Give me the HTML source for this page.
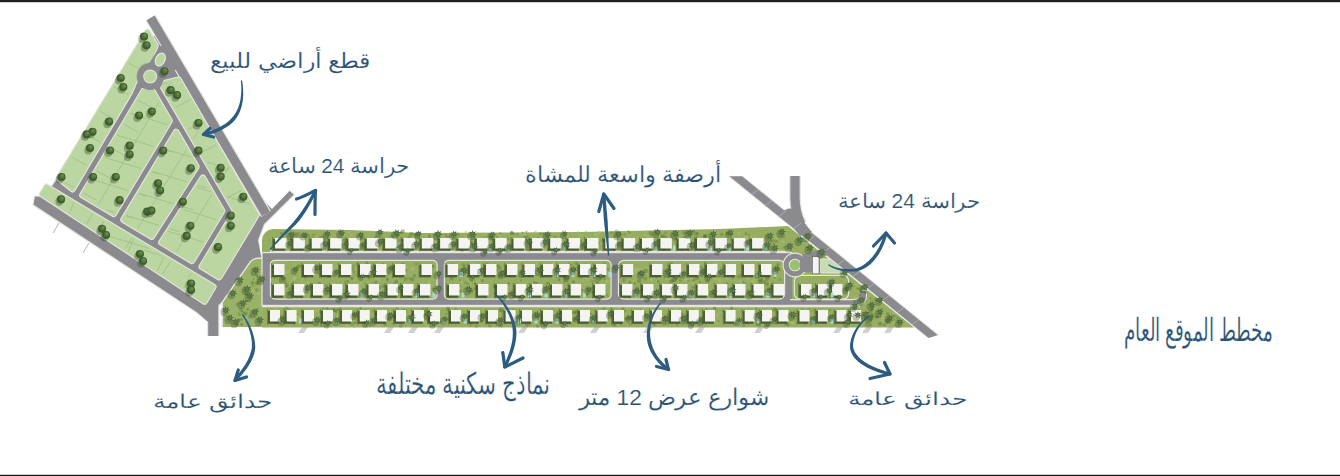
<!DOCTYPE html>
<html><head><meta charset="utf-8"><style>
html,body{margin:0;padding:0;background:#fff;width:1340px;height:476px;overflow:hidden}
body{position:relative;font-family:"Liberation Sans",sans-serif}
svg{position:absolute;left:0;top:0}
.lb{position:absolute;color:#2a5273;white-space:nowrap;direction:rtl;font-size:40px;line-height:40px;transform-origin:0 0;-webkit-text-stroke:0.3px #fff}
</style></head><body>
<svg width="1340" height="476" viewBox="0 0 1340 476">
<rect width="1340" height="476" fill="#fff"/>
<polygon points="152.0,36.0 162.0,36.0 262.0,198.0 272.0,210.0 290.0,190.0 295.0,195.0 265.0,225.0 259.0,240.0 263.0,263.0 252.0,263.0 224.0,302.0 219.5,306.0 219.5,336.0 207.0,336.0 207.0,322.0 197.0,313.5 32.5,205.5 34.0,195.5 44.0,196.0" fill="#e4e6df" />
<polygon points="152.0,36.0 162.0,36.0 262.0,199.0 272.0,209.0 289.5,191.0 293.8,194.5 264.0,224.0 258.0,240.0 262.0,262.0 251.0,262.0 223.0,301.0 218.3,305.0 218.3,336.0 208.2,336.0 208.2,322.0 197.0,312.3 33.5,204.4 35.0,196.5 45.0,197.0" fill="#8b8b8f" />
<polyline points="150.6,17.8 266.0,214.0" fill="none" stroke="#e4e6df" stroke-width="11.60" stroke-linecap="butt" stroke-linejoin="round" />
<polyline points="150.6,17.8 266.0,214.0" fill="none" stroke="#8b8b8f" stroke-width="9.20" stroke-linecap="butt" stroke-linejoin="round" />
<polygon points="147.5,32.0 155.5,45.5 150.0,59.0 140.0,68.0 129.8,92.0 72.6,189.2 58.8,178.1" fill="#e4e6df" stroke="#e4e6df" stroke-width="6.6" stroke-linejoin="round"/>
<polygon points="147.5,32.0 155.5,45.5 150.0,59.0 140.0,68.0 129.8,92.0 72.6,189.2 58.8,178.1" fill="#bcd6a2" stroke="#bcd6a2" stroke-width="4.4" stroke-linejoin="round"/>
<polygon points="148.0,83.6 169.6,120.8 113.8,213.9 82.4,195.1" fill="#e4e6df" stroke="#e4e6df" stroke-width="6.60" stroke-linejoin="round"/>
<polygon points="148.0,83.6 169.6,120.8 113.8,213.9 82.4,195.1" fill="#bcd6a2" stroke="#bcd6a2" stroke-width="4.40" stroke-linejoin="round"/>
<polygon points="176.2,132.0 196.4,166.7 151.7,236.6 123.5,219.8" fill="#e4e6df" stroke="#e4e6df" stroke-width="6.60" stroke-linejoin="round"/>
<polygon points="176.2,132.0 196.4,166.7 151.7,236.6 123.5,219.8" fill="#bcd6a2" stroke="#bcd6a2" stroke-width="4.40" stroke-linejoin="round"/>
<polygon points="202.9,177.8 222.1,210.8 192.0,260.9 161.4,242.5" fill="#e4e6df" stroke="#e4e6df" stroke-width="6.60" stroke-linejoin="round"/>
<polygon points="202.9,177.8 222.1,210.8 192.0,260.9 161.4,242.5" fill="#bcd6a2" stroke="#bcd6a2" stroke-width="4.40" stroke-linejoin="round"/>
<polygon points="178.5,79.7 256.5,214.9 219.1,277.1 201.8,266.7 235.3,210.9 161.4,84.0" fill="#e4e6df" stroke="#e4e6df" stroke-width="6.60" stroke-linejoin="round"/>
<polygon points="178.5,79.7 256.5,214.9 219.1,277.1 201.8,266.7 235.3,210.9 161.4,84.0" fill="#bcd6a2" stroke="#bcd6a2" stroke-width="4.40" stroke-linejoin="round"/>
<polygon points="46.5,186.8 213.3,286.9 204.5,301.5 42.0,194.2" fill="#e4e6df" stroke="#e4e6df" stroke-width="6.60" stroke-linejoin="round"/>
<polygon points="46.5,186.8 213.3,286.9 204.5,301.5 42.0,194.2" fill="#bcd6a2" stroke="#bcd6a2" stroke-width="4.40" stroke-linejoin="round"/>
<clipPath id="tclip"><polygon points="147.5,32.0 155.5,45.5 150.0,59.0 140.0,68.0 129.8,92.0 72.6,189.2 58.8,178.1"/><polygon points="148.0,83.6 169.6,120.8 113.8,213.9 82.4,195.1"/><polygon points="176.2,132.0 196.4,166.7 151.7,236.6 123.5,219.8"/><polygon points="202.9,177.8 222.1,210.8 192.0,260.9 161.4,242.5"/><polygon points="178.5,79.7 256.5,214.9 219.1,277.1 201.8,266.7 235.3,210.9 161.4,84.0"/><polygon points="46.5,186.8 213.3,286.9 204.5,301.5 42.0,194.2"/></clipPath>
<g clip-path="url(#tclip)">
<line x1="125.1" y1="61.0" x2="167.1" y2="84.0" stroke="#9fbd84" stroke-width="0.8"/>
<line x1="110.5" y1="85.0" x2="152.5" y2="108.0" stroke="#9fbd84" stroke-width="0.8"/>
<line x1="95.9" y1="109.0" x2="137.9" y2="132.0" stroke="#9fbd84" stroke-width="0.8"/>
<line x1="81.8" y1="132.0" x2="123.8" y2="155.0" stroke="#9fbd84" stroke-width="0.8"/>
<line x1="67.8" y1="155.0" x2="109.8" y2="178.0" stroke="#9fbd84" stroke-width="0.8"/>
<line x1="54.4" y1="177.0" x2="96.4" y2="200.0" stroke="#9fbd84" stroke-width="0.8"/>
<line x1="139.9" y1="66.0" x2="181.9" y2="44.0" stroke="#9fbd84" stroke-width="0.8"/>
<line x1="153.4" y1="89.0" x2="195.4" y2="67.0" stroke="#9fbd84" stroke-width="0.8"/>
<line x1="166.8" y1="112.0" x2="208.8" y2="90.0" stroke="#9fbd84" stroke-width="0.8"/>
<line x1="179.6" y1="134.0" x2="221.6" y2="112.0" stroke="#9fbd84" stroke-width="0.8"/>
<line x1="193.0" y1="157.0" x2="235.0" y2="135.0" stroke="#9fbd84" stroke-width="0.8"/>
<line x1="206.4" y1="180.0" x2="248.4" y2="158.0" stroke="#9fbd84" stroke-width="0.8"/>
<line x1="219.2" y1="202.0" x2="261.2" y2="180.0" stroke="#9fbd84" stroke-width="0.8"/>
<line x1="78.0" y1="193.3" x2="63.0" y2="227.3" stroke="#9fbd84" stroke-width="0.8"/>
<line x1="108.0" y1="211.3" x2="93.0" y2="245.3" stroke="#9fbd84" stroke-width="0.8"/>
<line x1="138.0" y1="229.3" x2="123.0" y2="263.3" stroke="#9fbd84" stroke-width="0.8"/>
<line x1="168.0" y1="247.3" x2="153.0" y2="281.3" stroke="#9fbd84" stroke-width="0.8"/>
<line x1="195.0" y1="263.5" x2="180.0" y2="297.5" stroke="#9fbd84" stroke-width="0.8"/>
<line x1="176.9" y1="72.0" x2="83.0" y2="230.0" stroke="#9fbd84" stroke-width="0.8"/>
<line x1="119.7" y1="110.0" x2="184.7" y2="130.0" stroke="#9fbd84" stroke-width="0.8"/>
<line x1="106.7" y1="132.0" x2="171.7" y2="152.0" stroke="#9fbd84" stroke-width="0.8"/>
<line x1="93.8" y1="154.0" x2="158.8" y2="174.0" stroke="#9fbd84" stroke-width="0.8"/>
<line x1="80.8" y1="176.0" x2="145.8" y2="196.0" stroke="#9fbd84" stroke-width="0.8"/>
<line x1="67.9" y1="198.0" x2="132.9" y2="218.0" stroke="#9fbd84" stroke-width="0.8"/>
<line x1="212.4" y1="108.0" x2="114.4" y2="266.0" stroke="#9fbd84" stroke-width="0.8"/>
<line x1="155.0" y1="146.0" x2="220.0" y2="166.0" stroke="#9fbd84" stroke-width="0.8"/>
<line x1="141.8" y1="168.0" x2="206.8" y2="188.0" stroke="#9fbd84" stroke-width="0.8"/>
<line x1="128.6" y1="190.0" x2="193.6" y2="210.0" stroke="#9fbd84" stroke-width="0.8"/>
<line x1="115.4" y1="212.0" x2="180.4" y2="232.0" stroke="#9fbd84" stroke-width="0.8"/>
<line x1="102.2" y1="234.0" x2="167.2" y2="254.0" stroke="#9fbd84" stroke-width="0.8"/>
<line x1="242.0" y1="146.0" x2="157.7" y2="282.0" stroke="#9fbd84" stroke-width="0.8"/>
<line x1="185.8" y1="184.0" x2="250.8" y2="204.0" stroke="#9fbd84" stroke-width="0.8"/>
<line x1="171.8" y1="206.0" x2="236.8" y2="226.0" stroke="#9fbd84" stroke-width="0.8"/>
<line x1="157.7" y1="228.0" x2="222.7" y2="248.0" stroke="#9fbd84" stroke-width="0.8"/>
<line x1="143.6" y1="250.0" x2="208.6" y2="270.0" stroke="#9fbd84" stroke-width="0.8"/>
</g>
<polygon points="150,62 160,46 167,44 177,70 168,70 160,88 140,88 138,72" fill="#8b8b8f"/>
<circle cx="150.2" cy="76.5" r="13.5" fill="#8b8b8f"/>
<circle cx="150.2" cy="76.5" r="7" fill="#e4e6df"/>
<circle cx="150.2" cy="76.5" r="6" fill="#bcd6a2"/>
<ellipse cx="160.3" cy="59.5" rx="4.6" ry="6.8" transform="rotate(25 160.3 59.5)" fill="#bcd6a2" stroke="#e4e6df" stroke-width="1.2"/>
<line x1="53" y1="233" x2="59" y2="223" stroke="#a0a0a0" stroke-width="0.8"/>
<line x1="83" y1="253" x2="89" y2="243" stroke="#a0a0a0" stroke-width="0.8"/>
<ellipse cx="118.9" cy="80.2" rx="3.9" ry="4.3" fill="#34482a" opacity="0.38"/>
<circle cx="120.7" cy="78.0" r="4.1" fill="#3f5e2e"/>
<circle cx="121.3" cy="77.3" r="2.5" fill="#56773d"/>
<circle cx="121.8" cy="76.7" r="1.1" fill="#7d9c62" opacity="0.6"/>
<ellipse cx="121.5" cy="89.2" rx="3.9" ry="4.3" fill="#34482a" opacity="0.38"/>
<circle cx="123.3" cy="87.0" r="4.1" fill="#3f5e2e"/>
<circle cx="123.9" cy="86.3" r="2.5" fill="#56773d"/>
<circle cx="124.4" cy="85.7" r="1.1" fill="#7d9c62" opacity="0.6"/>
<ellipse cx="137.2" cy="117.7" rx="3.9" ry="4.3" fill="#34482a" opacity="0.38"/>
<circle cx="139.0" cy="115.5" r="4.1" fill="#3f5e2e"/>
<circle cx="139.6" cy="114.8" r="2.5" fill="#56773d"/>
<circle cx="140.1" cy="114.2" r="1.1" fill="#7d9c62" opacity="0.6"/>
<ellipse cx="150.0" cy="113.8" rx="3.9" ry="4.3" fill="#34482a" opacity="0.38"/>
<circle cx="151.8" cy="111.6" r="4.1" fill="#3f5e2e"/>
<circle cx="152.4" cy="110.9" r="2.5" fill="#56773d"/>
<circle cx="152.9" cy="110.3" r="1.1" fill="#7d9c62" opacity="0.6"/>
<ellipse cx="107.2" cy="123.9" rx="3.9" ry="4.3" fill="#34482a" opacity="0.38"/>
<circle cx="109.0" cy="121.7" r="4.1" fill="#3f5e2e"/>
<circle cx="109.6" cy="121.0" r="2.5" fill="#56773d"/>
<circle cx="110.1" cy="120.4" r="1.1" fill="#7d9c62" opacity="0.6"/>
<ellipse cx="90.7" cy="134.0" rx="3.9" ry="4.3" fill="#34482a" opacity="0.38"/>
<circle cx="92.5" cy="131.8" r="4.1" fill="#3f5e2e"/>
<circle cx="93.1" cy="131.1" r="2.5" fill="#56773d"/>
<circle cx="93.6" cy="130.5" r="1.1" fill="#7d9c62" opacity="0.6"/>
<ellipse cx="88.2" cy="150.2" rx="3.9" ry="4.3" fill="#34482a" opacity="0.38"/>
<circle cx="90.0" cy="148.0" r="4.1" fill="#3f5e2e"/>
<circle cx="90.6" cy="147.3" r="2.5" fill="#56773d"/>
<circle cx="91.1" cy="146.7" r="1.1" fill="#7d9c62" opacity="0.6"/>
<ellipse cx="127.8" cy="147.9" rx="3.9" ry="4.3" fill="#34482a" opacity="0.38"/>
<circle cx="129.6" cy="145.7" r="4.1" fill="#3f5e2e"/>
<circle cx="130.2" cy="145.0" r="2.5" fill="#56773d"/>
<circle cx="130.7" cy="144.4" r="1.1" fill="#7d9c62" opacity="0.6"/>
<ellipse cx="127.8" cy="156.7" rx="3.9" ry="4.3" fill="#34482a" opacity="0.38"/>
<circle cx="129.6" cy="154.5" r="4.1" fill="#3f5e2e"/>
<circle cx="130.2" cy="153.8" r="2.5" fill="#56773d"/>
<circle cx="130.7" cy="153.2" r="1.1" fill="#7d9c62" opacity="0.6"/>
<ellipse cx="108.2" cy="152.7" rx="3.9" ry="4.3" fill="#34482a" opacity="0.38"/>
<circle cx="110.0" cy="150.5" r="4.1" fill="#3f5e2e"/>
<circle cx="110.6" cy="149.8" r="2.5" fill="#56773d"/>
<circle cx="111.1" cy="149.2" r="1.1" fill="#7d9c62" opacity="0.6"/>
<ellipse cx="161.3" cy="152.9" rx="3.9" ry="4.3" fill="#34482a" opacity="0.38"/>
<circle cx="163.1" cy="150.7" r="4.1" fill="#3f5e2e"/>
<circle cx="163.7" cy="150.0" r="2.5" fill="#56773d"/>
<circle cx="164.2" cy="149.4" r="1.1" fill="#7d9c62" opacity="0.6"/>
<ellipse cx="59.7" cy="179.2" rx="3.9" ry="4.3" fill="#34482a" opacity="0.38"/>
<circle cx="61.5" cy="177.0" r="4.1" fill="#3f5e2e"/>
<circle cx="62.1" cy="176.3" r="2.5" fill="#56773d"/>
<circle cx="62.6" cy="175.7" r="1.1" fill="#7d9c62" opacity="0.6"/>
<ellipse cx="91.2" cy="179.2" rx="3.9" ry="4.3" fill="#34482a" opacity="0.38"/>
<circle cx="93.0" cy="177.0" r="4.1" fill="#3f5e2e"/>
<circle cx="93.6" cy="176.3" r="2.5" fill="#56773d"/>
<circle cx="94.1" cy="175.7" r="1.1" fill="#7d9c62" opacity="0.6"/>
<ellipse cx="113.9" cy="179.2" rx="3.9" ry="4.3" fill="#34482a" opacity="0.38"/>
<circle cx="115.7" cy="177.0" r="4.1" fill="#3f5e2e"/>
<circle cx="116.3" cy="176.3" r="2.5" fill="#56773d"/>
<circle cx="116.8" cy="175.7" r="1.1" fill="#7d9c62" opacity="0.6"/>
<ellipse cx="156.2" cy="185.6" rx="3.9" ry="4.3" fill="#34482a" opacity="0.38"/>
<circle cx="158.0" cy="183.4" r="4.1" fill="#3f5e2e"/>
<circle cx="158.6" cy="182.7" r="2.5" fill="#56773d"/>
<circle cx="159.1" cy="182.1" r="1.1" fill="#7d9c62" opacity="0.6"/>
<ellipse cx="168.9" cy="92.4" rx="3.9" ry="4.3" fill="#34482a" opacity="0.38"/>
<circle cx="170.7" cy="90.2" r="4.1" fill="#3f5e2e"/>
<circle cx="171.3" cy="89.5" r="2.5" fill="#56773d"/>
<circle cx="171.8" cy="88.9" r="1.1" fill="#7d9c62" opacity="0.6"/>
<ellipse cx="175.2" cy="97.4" rx="3.9" ry="4.3" fill="#34482a" opacity="0.38"/>
<circle cx="177.0" cy="95.2" r="4.1" fill="#3f5e2e"/>
<circle cx="177.6" cy="94.5" r="2.5" fill="#56773d"/>
<circle cx="178.1" cy="93.9" r="1.1" fill="#7d9c62" opacity="0.6"/>
<ellipse cx="196.6" cy="125.2" rx="3.9" ry="4.3" fill="#34482a" opacity="0.38"/>
<circle cx="198.4" cy="123.0" r="4.1" fill="#3f5e2e"/>
<circle cx="199.0" cy="122.3" r="2.5" fill="#56773d"/>
<circle cx="199.5" cy="121.7" r="1.1" fill="#7d9c62" opacity="0.6"/>
<ellipse cx="196.6" cy="152.9" rx="3.9" ry="4.3" fill="#34482a" opacity="0.38"/>
<circle cx="198.4" cy="150.7" r="4.1" fill="#3f5e2e"/>
<circle cx="199.0" cy="150.0" r="2.5" fill="#56773d"/>
<circle cx="199.5" cy="149.4" r="1.1" fill="#7d9c62" opacity="0.6"/>
<ellipse cx="189.0" cy="170.5" rx="3.9" ry="4.3" fill="#34482a" opacity="0.38"/>
<circle cx="190.8" cy="168.3" r="4.1" fill="#3f5e2e"/>
<circle cx="191.4" cy="167.6" r="2.5" fill="#56773d"/>
<circle cx="191.9" cy="167.0" r="1.1" fill="#7d9c62" opacity="0.6"/>
<ellipse cx="162.6" cy="73.5" rx="3.9" ry="4.3" fill="#34482a" opacity="0.38"/>
<circle cx="164.4" cy="71.3" r="4.1" fill="#3f5e2e"/>
<circle cx="165.0" cy="70.6" r="2.5" fill="#56773d"/>
<circle cx="165.5" cy="70.0" r="1.1" fill="#7d9c62" opacity="0.6"/>
<ellipse cx="59.2" cy="201.6" rx="3.9" ry="4.3" fill="#34482a" opacity="0.38"/>
<circle cx="61.0" cy="199.4" r="4.1" fill="#3f5e2e"/>
<circle cx="61.6" cy="198.7" r="2.5" fill="#56773d"/>
<circle cx="62.1" cy="198.1" r="1.1" fill="#7d9c62" opacity="0.6"/>
<ellipse cx="117.7" cy="202.4" rx="3.9" ry="4.3" fill="#34482a" opacity="0.38"/>
<circle cx="119.5" cy="200.2" r="4.1" fill="#3f5e2e"/>
<circle cx="120.1" cy="199.5" r="2.5" fill="#56773d"/>
<circle cx="120.6" cy="198.9" r="1.1" fill="#7d9c62" opacity="0.6"/>
<ellipse cx="145.4" cy="213.8" rx="3.9" ry="4.3" fill="#34482a" opacity="0.38"/>
<circle cx="147.2" cy="211.6" r="4.1" fill="#3f5e2e"/>
<circle cx="147.8" cy="210.9" r="2.5" fill="#56773d"/>
<circle cx="148.3" cy="210.3" r="1.1" fill="#7d9c62" opacity="0.6"/>
<ellipse cx="100.2" cy="231.0" rx="3.9" ry="4.3" fill="#34482a" opacity="0.38"/>
<circle cx="102.0" cy="228.8" r="4.1" fill="#3f5e2e"/>
<circle cx="102.6" cy="228.1" r="2.5" fill="#56773d"/>
<circle cx="103.1" cy="227.5" r="1.1" fill="#7d9c62" opacity="0.6"/>
<ellipse cx="104.2" cy="237.2" rx="3.9" ry="4.3" fill="#34482a" opacity="0.38"/>
<circle cx="106.0" cy="235.0" r="4.1" fill="#3f5e2e"/>
<circle cx="106.6" cy="234.3" r="2.5" fill="#56773d"/>
<circle cx="107.1" cy="233.7" r="1.1" fill="#7d9c62" opacity="0.6"/>
<ellipse cx="138.1" cy="256.2" rx="3.9" ry="4.3" fill="#34482a" opacity="0.38"/>
<circle cx="139.9" cy="254.0" r="4.1" fill="#3f5e2e"/>
<circle cx="140.5" cy="253.3" r="2.5" fill="#56773d"/>
<circle cx="141.0" cy="252.7" r="1.1" fill="#7d9c62" opacity="0.6"/>
<ellipse cx="141.2" cy="263.2" rx="3.9" ry="4.3" fill="#34482a" opacity="0.38"/>
<circle cx="143.0" cy="261.0" r="4.1" fill="#3f5e2e"/>
<circle cx="143.6" cy="260.3" r="2.5" fill="#56773d"/>
<circle cx="144.1" cy="259.7" r="1.1" fill="#7d9c62" opacity="0.6"/>
<ellipse cx="218.8" cy="170.0" rx="3.9" ry="4.3" fill="#34482a" opacity="0.38"/>
<circle cx="220.6" cy="167.8" r="4.1" fill="#3f5e2e"/>
<circle cx="221.2" cy="167.1" r="2.5" fill="#56773d"/>
<circle cx="221.7" cy="166.5" r="1.1" fill="#7d9c62" opacity="0.6"/>
<ellipse cx="218.8" cy="178.8" rx="3.9" ry="4.3" fill="#34482a" opacity="0.38"/>
<circle cx="220.6" cy="176.6" r="4.1" fill="#3f5e2e"/>
<circle cx="221.2" cy="175.9" r="2.5" fill="#56773d"/>
<circle cx="221.7" cy="175.3" r="1.1" fill="#7d9c62" opacity="0.6"/>
<ellipse cx="158.3" cy="192.7" rx="3.9" ry="4.3" fill="#34482a" opacity="0.38"/>
<circle cx="160.1" cy="190.5" r="4.1" fill="#3f5e2e"/>
<circle cx="160.7" cy="189.8" r="2.5" fill="#56773d"/>
<circle cx="161.2" cy="189.2" r="1.1" fill="#7d9c62" opacity="0.6"/>
<ellipse cx="181.0" cy="204.0" rx="3.9" ry="4.3" fill="#34482a" opacity="0.38"/>
<circle cx="182.8" cy="201.8" r="4.1" fill="#3f5e2e"/>
<circle cx="183.4" cy="201.1" r="2.5" fill="#56773d"/>
<circle cx="183.9" cy="200.5" r="1.1" fill="#7d9c62" opacity="0.6"/>
<ellipse cx="149.5" cy="212.9" rx="3.9" ry="4.3" fill="#34482a" opacity="0.38"/>
<circle cx="151.3" cy="210.7" r="4.1" fill="#3f5e2e"/>
<circle cx="151.9" cy="210.0" r="2.5" fill="#56773d"/>
<circle cx="152.4" cy="209.4" r="1.1" fill="#7d9c62" opacity="0.6"/>
<ellipse cx="228.9" cy="217.9" rx="3.9" ry="4.3" fill="#34482a" opacity="0.38"/>
<circle cx="230.7" cy="215.7" r="4.1" fill="#3f5e2e"/>
<circle cx="231.3" cy="215.0" r="2.5" fill="#56773d"/>
<circle cx="231.8" cy="214.4" r="1.1" fill="#7d9c62" opacity="0.6"/>
<ellipse cx="228.9" cy="228.0" rx="3.9" ry="4.3" fill="#34482a" opacity="0.38"/>
<circle cx="230.7" cy="225.8" r="4.1" fill="#3f5e2e"/>
<circle cx="231.3" cy="225.1" r="2.5" fill="#56773d"/>
<circle cx="231.8" cy="224.5" r="1.1" fill="#7d9c62" opacity="0.6"/>
<ellipse cx="241.5" cy="199.0" rx="3.9" ry="4.3" fill="#34482a" opacity="0.38"/>
<circle cx="243.3" cy="196.8" r="4.1" fill="#3f5e2e"/>
<circle cx="243.9" cy="196.1" r="2.5" fill="#56773d"/>
<circle cx="244.4" cy="195.5" r="1.1" fill="#7d9c62" opacity="0.6"/>
<ellipse cx="188.5" cy="228.0" rx="3.9" ry="4.3" fill="#34482a" opacity="0.38"/>
<circle cx="190.3" cy="225.8" r="4.1" fill="#3f5e2e"/>
<circle cx="190.9" cy="225.1" r="2.5" fill="#56773d"/>
<circle cx="191.4" cy="224.5" r="1.1" fill="#7d9c62" opacity="0.6"/>
<ellipse cx="184.8" cy="238.1" rx="3.9" ry="4.3" fill="#34482a" opacity="0.38"/>
<circle cx="186.6" cy="235.9" r="4.1" fill="#3f5e2e"/>
<circle cx="187.2" cy="235.2" r="2.5" fill="#56773d"/>
<circle cx="187.7" cy="234.6" r="1.1" fill="#7d9c62" opacity="0.6"/>
<ellipse cx="216.2" cy="249.4" rx="3.9" ry="4.3" fill="#34482a" opacity="0.38"/>
<circle cx="218.0" cy="247.2" r="4.1" fill="#3f5e2e"/>
<circle cx="218.6" cy="246.5" r="2.5" fill="#56773d"/>
<circle cx="219.1" cy="245.9" r="1.1" fill="#7d9c62" opacity="0.6"/>
<ellipse cx="189.2" cy="285.7" rx="3.9" ry="4.3" fill="#34482a" opacity="0.38"/>
<circle cx="191.0" cy="283.5" r="4.1" fill="#3f5e2e"/>
<circle cx="191.6" cy="282.8" r="2.5" fill="#56773d"/>
<circle cx="192.1" cy="282.2" r="1.1" fill="#7d9c62" opacity="0.6"/>
<ellipse cx="189.2" cy="292.2" rx="3.9" ry="4.3" fill="#34482a" opacity="0.38"/>
<circle cx="191.0" cy="290.0" r="4.1" fill="#3f5e2e"/>
<circle cx="191.6" cy="289.3" r="2.5" fill="#56773d"/>
<circle cx="192.1" cy="288.7" r="1.1" fill="#7d9c62" opacity="0.6"/>
<ellipse cx="142.2" cy="38.7" rx="3.9" ry="4.3" fill="#34482a" opacity="0.38"/>
<circle cx="144.0" cy="36.5" r="4.1" fill="#3f5e2e"/>
<circle cx="144.6" cy="35.8" r="2.5" fill="#56773d"/>
<circle cx="145.1" cy="35.2" r="1.1" fill="#7d9c62" opacity="0.6"/>
<ellipse cx="144.7" cy="47.5" rx="3.9" ry="4.3" fill="#34482a" opacity="0.38"/>
<circle cx="146.5" cy="45.3" r="4.1" fill="#3f5e2e"/>
<circle cx="147.1" cy="44.6" r="2.5" fill="#56773d"/>
<circle cx="147.6" cy="44.0" r="1.1" fill="#7d9c62" opacity="0.6"/>
<ellipse cx="84.9" cy="136.6" rx="3.9" ry="4.3" fill="#34482a" opacity="0.38"/>
<circle cx="86.7" cy="134.4" r="4.1" fill="#3f5e2e"/>
<circle cx="87.3" cy="133.7" r="2.5" fill="#56773d"/>
<circle cx="87.8" cy="133.1" r="1.1" fill="#7d9c62" opacity="0.6"/>
<path d="M262,251.5 L262,240 Q263,230 273,229 L350,230 L420,233 L580,232 L720,229 L788,226 L914,327.5 L262,327.5 Z" fill="#97ae62"/>
<path d="M221.5,327 L221.5,302 L250,261 Q253,257.5 258,257.5 L263,257.5 L263,327 Z" fill="#e4e6df"/>
<path d="M223,327 L223,302.5 L251,262 Q253.5,259 258,259 L263,259 L263,327 Z" fill="#98b367"/>
<rect x="262" y="252" width="530" height="54" fill="#e4e6df"/>
<rect x="262" y="253.2" width="530" height="51.6" fill="#8b8b8f"/>
<path d="M262,252 L262,306 Z" stroke="#e4e6df" stroke-width="1.2"/>
<path d="M790,299 L853,299 Q861,299 861,292 L861,290 L867,290 L867,296 Q867,306 853,306 L790,306 Z" fill="#e4e6df"/>
<path d="M790,300.2 L853,300.2 Q860,300.2 860,292 L860,291 L866,291 L866,296 Q866,304.8 853,304.8 L790,304.8 Z" fill="#8b8b8f"/>
<rect x="269.8" y="259.8" width="167.9" height="39.9" rx="5.0" fill="#e4e6df"/>
<rect x="271.0" y="261.0" width="165.5" height="37.5" rx="4.0" fill="#97ae62"/>
<rect x="443.8" y="259.8" width="167.9" height="39.9" rx="5.0" fill="#e4e6df"/>
<rect x="445.0" y="261.0" width="165.5" height="37.5" rx="4.0" fill="#97ae62"/>
<rect x="617.8" y="259.8" width="167.4" height="39.9" rx="6.0" fill="#e4e6df"/>
<rect x="619.0" y="261.0" width="165.0" height="37.5" rx="5.0" fill="#97ae62"/>
<rect x="793.8" y="274.8" width="55.4" height="24.9" rx="6.0" fill="#e4e6df"/>
<rect x="795.0" y="276.0" width="53.0" height="22.5" rx="5.0" fill="#97ae62"/>
<rect x="820" y="259" width="22" height="14" rx="2" fill="#c9dcb0" stroke="#e4e6df" stroke-width="1"/>
<line x1="270" y1="251.4" x2="790" y2="251.4" stroke="#e4e6df" stroke-width="1.2"/>
<line x1="262" y1="306.6" x2="860" y2="306.6" stroke="#e4e6df" stroke-width="1.2"/>
<circle cx="795" cy="265" r="12.5" fill="#e4e6df"/>
<circle cx="795" cy="265" r="11.3" fill="#8b8b8f"/>
<circle cx="795" cy="265" r="6.3" fill="#e4e6df"/>
<circle cx="795" cy="265" r="5.3" fill="#9cc070"/>
<rect x="800" y="258" width="20" height="14" fill="#8b8b8f"/>
<circle cx="595.0" cy="245.1" r="2.0" fill="#6f8444" opacity="0.45"/>
<circle cx="707.5" cy="245.7" r="1.3" fill="#6f8444" opacity="0.45"/>
<circle cx="738.8" cy="233.2" r="1.6" fill="#b0c27a" opacity="0.45"/>
<circle cx="469.9" cy="232.9" r="1.3" fill="#b0c27a" opacity="0.45"/>
<circle cx="484.0" cy="234.5" r="2.0" fill="#a3b86a" opacity="0.45"/>
<circle cx="355.5" cy="246.1" r="1.2" fill="#a3b86a" opacity="0.45"/>
<circle cx="338.5" cy="231.0" r="2.0" fill="#b0c27a" opacity="0.45"/>
<circle cx="672.9" cy="249.2" r="1.2" fill="#b0c27a" opacity="0.45"/>
<circle cx="422.6" cy="249.3" r="1.6" fill="#b0c27a" opacity="0.45"/>
<circle cx="366.9" cy="249.4" r="1.2" fill="#a3b86a" opacity="0.45"/>
<circle cx="427.5" cy="237.9" r="1.2" fill="#b0c27a" opacity="0.45"/>
<circle cx="409.4" cy="237.3" r="2.0" fill="#6f8444" opacity="0.45"/>
<circle cx="581.1" cy="244.4" r="1.1" fill="#5b7035" opacity="0.45"/>
<circle cx="696.2" cy="240.1" r="1.4" fill="#a3b86a" opacity="0.45"/>
<circle cx="517.3" cy="234.3" r="1.3" fill="#6f8444" opacity="0.45"/>
<circle cx="763.7" cy="237.8" r="1.5" fill="#a3b86a" opacity="0.45"/>
<circle cx="462.3" cy="242.0" r="1.0" fill="#6f8444" opacity="0.45"/>
<circle cx="638.9" cy="242.9" r="2.1" fill="#6f8444" opacity="0.45"/>
<circle cx="663.7" cy="248.7" r="2.1" fill="#5b7035" opacity="0.45"/>
<circle cx="538.0" cy="248.0" r="1.3" fill="#a3b86a" opacity="0.45"/>
<circle cx="328.9" cy="245.2" r="2.0" fill="#5b7035" opacity="0.45"/>
<circle cx="291.9" cy="249.0" r="1.1" fill="#5b7035" opacity="0.45"/>
<circle cx="538.2" cy="237.9" r="1.2" fill="#5b7035" opacity="0.45"/>
<circle cx="750.8" cy="241.4" r="1.4" fill="#5b7035" opacity="0.45"/>
<circle cx="431.3" cy="246.2" r="1.8" fill="#5b7035" opacity="0.45"/>
<circle cx="788.3" cy="234.1" r="1.1" fill="#a3b86a" opacity="0.45"/>
<circle cx="289.5" cy="245.1" r="1.4" fill="#5b7035" opacity="0.45"/>
<circle cx="508.6" cy="239.0" r="1.1" fill="#6f8444" opacity="0.45"/>
<circle cx="687.5" cy="237.3" r="1.2" fill="#b0c27a" opacity="0.45"/>
<circle cx="598.9" cy="246.0" r="1.1" fill="#a3b86a" opacity="0.45"/>
<circle cx="465.8" cy="232.1" r="1.5" fill="#b0c27a" opacity="0.45"/>
<circle cx="507.3" cy="250.0" r="2.0" fill="#a3b86a" opacity="0.45"/>
<circle cx="769.4" cy="244.1" r="1.4" fill="#5b7035" opacity="0.45"/>
<circle cx="423.5" cy="238.7" r="1.2" fill="#a3b86a" opacity="0.45"/>
<circle cx="698.0" cy="241.1" r="1.2" fill="#a3b86a" opacity="0.45"/>
<circle cx="721.7" cy="234.4" r="1.6" fill="#5b7035" opacity="0.45"/>
<circle cx="305.6" cy="246.1" r="1.4" fill="#6f8444" opacity="0.45"/>
<circle cx="665.7" cy="237.9" r="1.8" fill="#5b7035" opacity="0.45"/>
<circle cx="704.8" cy="236.0" r="2.2" fill="#5b7035" opacity="0.45"/>
<circle cx="767.7" cy="237.5" r="1.2" fill="#6f8444" opacity="0.45"/>
<circle cx="518.2" cy="245.7" r="1.4" fill="#5b7035" opacity="0.45"/>
<circle cx="512.3" cy="246.5" r="1.8" fill="#5b7035" opacity="0.45"/>
<circle cx="452.9" cy="243.2" r="1.9" fill="#a3b86a" opacity="0.45"/>
<circle cx="454.0" cy="247.0" r="2.0" fill="#a3b86a" opacity="0.45"/>
<circle cx="777.7" cy="249.2" r="1.6" fill="#b0c27a" opacity="0.45"/>
<circle cx="375.7" cy="237.9" r="2.0" fill="#5b7035" opacity="0.45"/>
<circle cx="630.5" cy="244.7" r="1.9" fill="#b0c27a" opacity="0.45"/>
<circle cx="591.9" cy="248.8" r="1.6" fill="#a3b86a" opacity="0.45"/>
<circle cx="429.5" cy="241.5" r="2.0" fill="#5b7035" opacity="0.45"/>
<circle cx="645.5" cy="231.5" r="1.2" fill="#a3b86a" opacity="0.45"/>
<circle cx="595.6" cy="234.4" r="1.9" fill="#b0c27a" opacity="0.45"/>
<circle cx="599.2" cy="231.8" r="1.6" fill="#b0c27a" opacity="0.45"/>
<circle cx="358.7" cy="247.9" r="1.1" fill="#b0c27a" opacity="0.45"/>
<circle cx="522.5" cy="241.4" r="1.5" fill="#5b7035" opacity="0.45"/>
<circle cx="469.6" cy="242.6" r="1.7" fill="#b0c27a" opacity="0.45"/>
<circle cx="644.2" cy="238.1" r="1.4" fill="#5b7035" opacity="0.45"/>
<circle cx="715.5" cy="247.5" r="1.8" fill="#5b7035" opacity="0.45"/>
<circle cx="771.6" cy="241.4" r="1.4" fill="#5b7035" opacity="0.45"/>
<circle cx="554.9" cy="237.4" r="1.7" fill="#5b7035" opacity="0.45"/>
<circle cx="696.2" cy="239.0" r="2.0" fill="#5b7035" opacity="0.45"/>
<circle cx="514.7" cy="234.0" r="1.5" fill="#a3b86a" opacity="0.45"/>
<circle cx="767.9" cy="249.4" r="1.7" fill="#5b7035" opacity="0.45"/>
<circle cx="697.6" cy="243.6" r="1.5" fill="#5b7035" opacity="0.45"/>
<circle cx="565.5" cy="242.7" r="1.2" fill="#a3b86a" opacity="0.45"/>
<circle cx="494.9" cy="249.6" r="1.6" fill="#a3b86a" opacity="0.45"/>
<circle cx="775.8" cy="238.2" r="2.2" fill="#b0c27a" opacity="0.45"/>
<circle cx="581.0" cy="235.9" r="2.2" fill="#a3b86a" opacity="0.45"/>
<circle cx="402.8" cy="231.4" r="2.1" fill="#5b7035" opacity="0.45"/>
<circle cx="527.2" cy="236.4" r="1.6" fill="#6f8444" opacity="0.45"/>
<circle cx="614.3" cy="249.3" r="1.3" fill="#6f8444" opacity="0.45"/>
<circle cx="677.1" cy="246.7" r="1.0" fill="#5b7035" opacity="0.45"/>
<circle cx="398.9" cy="240.0" r="1.0" fill="#a3b86a" opacity="0.45"/>
<circle cx="411.4" cy="233.9" r="2.2" fill="#5b7035" opacity="0.45"/>
<circle cx="527.5" cy="249.9" r="1.6" fill="#6f8444" opacity="0.45"/>
<circle cx="281.4" cy="233.4" r="1.3" fill="#5b7035" opacity="0.45"/>
<circle cx="590.2" cy="244.9" r="1.0" fill="#5b7035" opacity="0.45"/>
<circle cx="459.7" cy="245.2" r="1.7" fill="#6f8444" opacity="0.45"/>
<circle cx="274.5" cy="241.5" r="1.8" fill="#6f8444" opacity="0.45"/>
<circle cx="732.1" cy="241.4" r="1.0" fill="#a3b86a" opacity="0.45"/>
<circle cx="580.6" cy="244.1" r="2.1" fill="#a3b86a" opacity="0.45"/>
<circle cx="716.9" cy="247.0" r="1.6" fill="#b0c27a" opacity="0.45"/>
<circle cx="737.7" cy="239.8" r="1.9" fill="#5b7035" opacity="0.45"/>
<circle cx="705.4" cy="244.2" r="1.5" fill="#5b7035" opacity="0.45"/>
<circle cx="608.2" cy="240.0" r="1.4" fill="#b0c27a" opacity="0.45"/>
<circle cx="520.3" cy="241.4" r="1.6" fill="#5b7035" opacity="0.45"/>
<circle cx="551.1" cy="239.1" r="1.6" fill="#6f8444" opacity="0.45"/>
<circle cx="308.4" cy="235.4" r="2.0" fill="#6f8444" opacity="0.45"/>
<circle cx="616.1" cy="231.5" r="1.9" fill="#6f8444" opacity="0.45"/>
<circle cx="789.1" cy="244.3" r="1.1" fill="#6f8444" opacity="0.45"/>
<circle cx="386.3" cy="243.3" r="2.1" fill="#b0c27a" opacity="0.45"/>
<circle cx="786.9" cy="244.4" r="1.5" fill="#b0c27a" opacity="0.45"/>
<circle cx="588.7" cy="238.9" r="1.2" fill="#b0c27a" opacity="0.45"/>
<circle cx="295.5" cy="233.1" r="1.5" fill="#6f8444" opacity="0.45"/>
<circle cx="417.7" cy="241.9" r="1.1" fill="#a3b86a" opacity="0.45"/>
<circle cx="727.2" cy="233.6" r="1.5" fill="#5b7035" opacity="0.45"/>
<circle cx="627.4" cy="240.3" r="1.4" fill="#5b7035" opacity="0.45"/>
<circle cx="745.9" cy="233.6" r="1.4" fill="#5b7035" opacity="0.45"/>
<circle cx="743.7" cy="241.5" r="1.7" fill="#5b7035" opacity="0.45"/>
<circle cx="305.7" cy="235.5" r="2.0" fill="#5b7035" opacity="0.45"/>
<circle cx="540.3" cy="233.5" r="1.3" fill="#5b7035" opacity="0.45"/>
<circle cx="507.4" cy="238.4" r="1.2" fill="#6f8444" opacity="0.45"/>
<circle cx="611.6" cy="232.6" r="1.8" fill="#6f8444" opacity="0.45"/>
<circle cx="719.4" cy="240.6" r="1.5" fill="#a3b86a" opacity="0.45"/>
<circle cx="726.4" cy="240.1" r="1.4" fill="#6f8444" opacity="0.45"/>
<circle cx="553.3" cy="238.3" r="2.0" fill="#a3b86a" opacity="0.45"/>
<circle cx="625.1" cy="235.2" r="1.1" fill="#a3b86a" opacity="0.45"/>
<circle cx="697.2" cy="233.7" r="1.7" fill="#5b7035" opacity="0.45"/>
<circle cx="705.1" cy="236.5" r="2.1" fill="#5b7035" opacity="0.45"/>
<circle cx="684.6" cy="238.2" r="1.9" fill="#5b7035" opacity="0.45"/>
<circle cx="608.0" cy="246.3" r="1.5" fill="#5b7035" opacity="0.45"/>
<circle cx="540.5" cy="242.3" r="1.7" fill="#b0c27a" opacity="0.45"/>
<circle cx="477.5" cy="232.8" r="1.0" fill="#b0c27a" opacity="0.45"/>
<circle cx="374.1" cy="240.3" r="2.1" fill="#5b7035" opacity="0.45"/>
<circle cx="273.2" cy="239.9" r="2.1" fill="#a3b86a" opacity="0.45"/>
<circle cx="440.1" cy="239.8" r="1.2" fill="#b0c27a" opacity="0.45"/>
<circle cx="309.8" cy="247.5" r="2.0" fill="#a3b86a" opacity="0.45"/>
<circle cx="351.6" cy="235.8" r="1.3" fill="#b0c27a" opacity="0.45"/>
<circle cx="660.9" cy="243.8" r="1.0" fill="#6f8444" opacity="0.45"/>
<circle cx="451.0" cy="245.3" r="1.4" fill="#6f8444" opacity="0.45"/>
<circle cx="628.5" cy="243.8" r="1.6" fill="#b0c27a" opacity="0.45"/>
<circle cx="334.0" cy="243.7" r="1.3" fill="#b0c27a" opacity="0.45"/>
<circle cx="650.0" cy="234.1" r="1.2" fill="#6f8444" opacity="0.45"/>
<circle cx="570.1" cy="243.5" r="1.7" fill="#5b7035" opacity="0.45"/>
<circle cx="624.8" cy="234.5" r="1.4" fill="#6f8444" opacity="0.45"/>
<circle cx="651.6" cy="244.6" r="1.2" fill="#b0c27a" opacity="0.45"/>
<circle cx="363.8" cy="235.0" r="1.1" fill="#a3b86a" opacity="0.45"/>
<circle cx="648.6" cy="236.1" r="1.6" fill="#a3b86a" opacity="0.45"/>
<circle cx="675.9" cy="238.8" r="1.1" fill="#5b7035" opacity="0.45"/>
<circle cx="758.7" cy="244.6" r="1.3" fill="#a3b86a" opacity="0.45"/>
<circle cx="320.5" cy="240.0" r="1.8" fill="#6f8444" opacity="0.45"/>
<circle cx="530.2" cy="245.8" r="1.1" fill="#a3b86a" opacity="0.45"/>
<circle cx="503.5" cy="243.2" r="2.1" fill="#b0c27a" opacity="0.45"/>
<circle cx="365.7" cy="240.7" r="1.5" fill="#b0c27a" opacity="0.45"/>
<circle cx="316.6" cy="237.0" r="1.1" fill="#b0c27a" opacity="0.45"/>
<circle cx="582.3" cy="247.3" r="1.3" fill="#6f8444" opacity="0.45"/>
<circle cx="501.1" cy="237.8" r="1.5" fill="#a3b86a" opacity="0.45"/>
<circle cx="543.0" cy="233.5" r="1.0" fill="#5b7035" opacity="0.45"/>
<circle cx="629.0" cy="247.9" r="2.2" fill="#6f8444" opacity="0.45"/>
<circle cx="344.7" cy="240.2" r="1.9" fill="#5b7035" opacity="0.45"/>
<circle cx="696.6" cy="236.9" r="1.2" fill="#6f8444" opacity="0.45"/>
<circle cx="516.8" cy="244.2" r="2.0" fill="#b0c27a" opacity="0.45"/>
<circle cx="415.6" cy="240.4" r="1.3" fill="#b0c27a" opacity="0.45"/>
<circle cx="684.6" cy="247.8" r="2.1" fill="#6f8444" opacity="0.45"/>
<circle cx="490.4" cy="237.0" r="1.9" fill="#6f8444" opacity="0.45"/>
<circle cx="736.3" cy="243.4" r="1.9" fill="#6f8444" opacity="0.45"/>
<circle cx="501.6" cy="246.5" r="1.8" fill="#6f8444" opacity="0.45"/>
<circle cx="649.4" cy="244.3" r="1.3" fill="#a3b86a" opacity="0.45"/>
<circle cx="563.5" cy="237.1" r="1.4" fill="#b0c27a" opacity="0.45"/>
<circle cx="408.8" cy="243.8" r="1.3" fill="#6f8444" opacity="0.45"/>
<circle cx="553.4" cy="245.0" r="1.0" fill="#6f8444" opacity="0.45"/>
<circle cx="299.2" cy="233.5" r="1.4" fill="#5b7035" opacity="0.45"/>
<circle cx="763.7" cy="242.6" r="1.3" fill="#a3b86a" opacity="0.45"/>
<circle cx="337.8" cy="234.8" r="1.4" fill="#b0c27a" opacity="0.45"/>
<circle cx="575.1" cy="246.7" r="1.9" fill="#6f8444" opacity="0.45"/>
<circle cx="411.6" cy="242.5" r="1.8" fill="#b0c27a" opacity="0.45"/>
<circle cx="503.7" cy="248.8" r="2.0" fill="#6f8444" opacity="0.45"/>
<circle cx="445.4" cy="239.5" r="1.3" fill="#a3b86a" opacity="0.45"/>
<circle cx="361.7" cy="231.9" r="1.8" fill="#b0c27a" opacity="0.45"/>
<circle cx="548.4" cy="249.4" r="1.7" fill="#6f8444" opacity="0.45"/>
<circle cx="338.6" cy="247.2" r="1.8" fill="#b0c27a" opacity="0.45"/>
<circle cx="778.6" cy="231.6" r="1.7" fill="#a3b86a" opacity="0.45"/>
<circle cx="637.5" cy="237.7" r="1.6" fill="#b0c27a" opacity="0.45"/>
<circle cx="416.2" cy="234.8" r="1.7" fill="#5b7035" opacity="0.45"/>
<circle cx="668.3" cy="245.9" r="1.4" fill="#b0c27a" opacity="0.45"/>
<circle cx="694.0" cy="243.6" r="2.1" fill="#6f8444" opacity="0.45"/>
<circle cx="592.6" cy="238.6" r="1.2" fill="#b0c27a" opacity="0.45"/>
<circle cx="526.4" cy="231.7" r="1.2" fill="#6f8444" opacity="0.45"/>
<circle cx="662.6" cy="236.3" r="2.1" fill="#5b7035" opacity="0.45"/>
<circle cx="519.7" cy="239.9" r="1.6" fill="#6f8444" opacity="0.45"/>
<circle cx="686.8" cy="238.2" r="1.0" fill="#b0c27a" opacity="0.45"/>
<circle cx="693.5" cy="231.4" r="1.8" fill="#5b7035" opacity="0.45"/>
<circle cx="538.5" cy="240.5" r="1.7" fill="#a3b86a" opacity="0.45"/>
<circle cx="505.5" cy="246.0" r="1.7" fill="#6f8444" opacity="0.45"/>
<circle cx="550.5" cy="246.2" r="1.4" fill="#6f8444" opacity="0.45"/>
<circle cx="624.3" cy="240.9" r="1.3" fill="#6f8444" opacity="0.45"/>
<circle cx="287.1" cy="245.7" r="1.7" fill="#a3b86a" opacity="0.45"/>
<circle cx="431.6" cy="248.7" r="1.3" fill="#b0c27a" opacity="0.45"/>
<circle cx="310.2" cy="245.3" r="1.8" fill="#5b7035" opacity="0.45"/>
<circle cx="736.8" cy="244.1" r="2.0" fill="#b0c27a" opacity="0.45"/>
<circle cx="522.8" cy="232.7" r="1.1" fill="#5b7035" opacity="0.45"/>
<circle cx="776.9" cy="241.3" r="1.5" fill="#6f8444" opacity="0.45"/>
<circle cx="620.0" cy="238.2" r="1.9" fill="#b0c27a" opacity="0.45"/>
<circle cx="743.6" cy="242.7" r="1.5" fill="#6f8444" opacity="0.45"/>
<circle cx="708.9" cy="247.9" r="1.8" fill="#5b7035" opacity="0.45"/>
<circle cx="401.7" cy="232.9" r="1.4" fill="#5b7035" opacity="0.45"/>
<circle cx="685.1" cy="232.5" r="2.1" fill="#6f8444" opacity="0.45"/>
<circle cx="600.2" cy="245.6" r="1.3" fill="#6f8444" opacity="0.45"/>
<circle cx="567.6" cy="242.9" r="1.8" fill="#a3b86a" opacity="0.45"/>
<circle cx="488.5" cy="239.1" r="1.6" fill="#b0c27a" opacity="0.45"/>
<circle cx="429.3" cy="236.3" r="1.7" fill="#5b7035" opacity="0.45"/>
<circle cx="369.8" cy="231.6" r="1.1" fill="#b0c27a" opacity="0.45"/>
<circle cx="497.3" cy="237.2" r="1.1" fill="#5b7035" opacity="0.45"/>
<circle cx="649.9" cy="232.2" r="1.6" fill="#6f8444" opacity="0.45"/>
<circle cx="437.6" cy="247.2" r="1.8" fill="#b0c27a" opacity="0.45"/>
<circle cx="734.9" cy="242.7" r="2.0" fill="#6f8444" opacity="0.45"/>
<circle cx="273.8" cy="243.8" r="1.1" fill="#5b7035" opacity="0.45"/>
<circle cx="351.6" cy="242.7" r="1.1" fill="#a3b86a" opacity="0.45"/>
<circle cx="653.6" cy="246.5" r="2.0" fill="#6f8444" opacity="0.45"/>
<circle cx="461.9" cy="246.5" r="1.2" fill="#5b7035" opacity="0.45"/>
<circle cx="466.6" cy="239.7" r="1.8" fill="#6f8444" opacity="0.45"/>
<circle cx="400.1" cy="248.9" r="1.6" fill="#6f8444" opacity="0.45"/>
<circle cx="333.8" cy="242.3" r="1.4" fill="#6f8444" opacity="0.45"/>
<circle cx="529.2" cy="249.3" r="2.1" fill="#6f8444" opacity="0.45"/>
<circle cx="526.7" cy="248.8" r="1.9" fill="#6f8444" opacity="0.45"/>
<circle cx="333.4" cy="240.1" r="1.4" fill="#b0c27a" opacity="0.45"/>
<circle cx="747.8" cy="238.3" r="1.3" fill="#a3b86a" opacity="0.45"/>
<circle cx="605.2" cy="245.6" r="1.1" fill="#6f8444" opacity="0.45"/>
<circle cx="426.0" cy="237.4" r="2.0" fill="#a3b86a" opacity="0.45"/>
<circle cx="299.1" cy="239.0" r="1.3" fill="#6f8444" opacity="0.45"/>
<circle cx="348.4" cy="249.4" r="1.7" fill="#a3b86a" opacity="0.45"/>
<circle cx="782.1" cy="241.3" r="1.5" fill="#b0c27a" opacity="0.45"/>
<circle cx="320.5" cy="237.8" r="2.0" fill="#6f8444" opacity="0.45"/>
<circle cx="695.9" cy="233.7" r="2.0" fill="#6f8444" opacity="0.45"/>
<circle cx="402.7" cy="239.7" r="1.5" fill="#6f8444" opacity="0.45"/>
<circle cx="300.5" cy="235.2" r="2.2" fill="#a3b86a" opacity="0.45"/>
<circle cx="279.3" cy="240.9" r="2.1" fill="#a3b86a" opacity="0.45"/>
<circle cx="535.5" cy="232.0" r="1.5" fill="#a3b86a" opacity="0.45"/>
<circle cx="717.7" cy="248.9" r="1.8" fill="#6f8444" opacity="0.45"/>
<circle cx="384.5" cy="239.0" r="1.9" fill="#a3b86a" opacity="0.45"/>
<circle cx="746.2" cy="238.2" r="2.2" fill="#b0c27a" opacity="0.45"/>
<circle cx="734.0" cy="233.8" r="1.9" fill="#a3b86a" opacity="0.45"/>
<circle cx="704.3" cy="232.5" r="1.4" fill="#a3b86a" opacity="0.45"/>
<circle cx="490.9" cy="236.1" r="1.6" fill="#5b7035" opacity="0.45"/>
<circle cx="274.2" cy="243.0" r="1.9" fill="#a3b86a" opacity="0.45"/>
<circle cx="312.8" cy="244.1" r="1.0" fill="#a3b86a" opacity="0.45"/>
<circle cx="730.7" cy="234.7" r="1.0" fill="#a3b86a" opacity="0.45"/>
<circle cx="769.7" cy="242.4" r="1.2" fill="#b0c27a" opacity="0.45"/>
<circle cx="312.9" cy="237.9" r="1.7" fill="#6f8444" opacity="0.45"/>
<circle cx="368.5" cy="239.2" r="1.3" fill="#5b7035" opacity="0.45"/>
<circle cx="445.8" cy="235.1" r="1.4" fill="#6f8444" opacity="0.45"/>
<circle cx="419.6" cy="233.0" r="1.5" fill="#5b7035" opacity="0.45"/>
<circle cx="463.6" cy="240.1" r="1.7" fill="#b0c27a" opacity="0.45"/>
<circle cx="771.9" cy="233.7" r="1.0" fill="#6f8444" opacity="0.45"/>
<circle cx="651.2" cy="233.5" r="1.6" fill="#6f8444" opacity="0.45"/>
<circle cx="277.2" cy="245.7" r="1.5" fill="#b0c27a" opacity="0.45"/>
<circle cx="682.9" cy="232.1" r="1.6" fill="#6f8444" opacity="0.45"/>
<circle cx="630.9" cy="247.8" r="1.9" fill="#5b7035" opacity="0.45"/>
<circle cx="500.3" cy="232.9" r="1.1" fill="#5b7035" opacity="0.45"/>
<circle cx="567.0" cy="236.2" r="1.7" fill="#a3b86a" opacity="0.45"/>
<circle cx="783.8" cy="236.7" r="1.2" fill="#6f8444" opacity="0.45"/>
<circle cx="606.3" cy="232.0" r="1.3" fill="#a3b86a" opacity="0.45"/>
<circle cx="323.9" cy="240.8" r="2.0" fill="#5b7035" opacity="0.45"/>
<circle cx="701.9" cy="233.6" r="1.4" fill="#a3b86a" opacity="0.45"/>
<circle cx="275.0" cy="241.7" r="1.7" fill="#6f8444" opacity="0.45"/>
<circle cx="303.9" cy="232.7" r="1.4" fill="#b0c27a" opacity="0.45"/>
<circle cx="466.4" cy="237.5" r="2.0" fill="#a3b86a" opacity="0.45"/>
<circle cx="678.2" cy="245.1" r="1.3" fill="#6f8444" opacity="0.45"/>
<circle cx="596.5" cy="238.4" r="1.8" fill="#b0c27a" opacity="0.45"/>
<circle cx="635.9" cy="242.2" r="2.1" fill="#b0c27a" opacity="0.45"/>
<circle cx="580.0" cy="241.7" r="2.1" fill="#5b7035" opacity="0.45"/>
<circle cx="563.1" cy="231.2" r="1.1" fill="#a3b86a" opacity="0.45"/>
<circle cx="621.5" cy="243.3" r="1.0" fill="#a3b86a" opacity="0.45"/>
<circle cx="333.7" cy="244.7" r="1.7" fill="#b0c27a" opacity="0.45"/>
<circle cx="550.3" cy="244.2" r="1.8" fill="#6f8444" opacity="0.45"/>
<circle cx="295.0" cy="244.6" r="1.4" fill="#6f8444" opacity="0.45"/>
<circle cx="767.5" cy="243.9" r="1.3" fill="#a3b86a" opacity="0.45"/>
<circle cx="663.1" cy="235.9" r="1.4" fill="#6f8444" opacity="0.45"/>
<circle cx="727.3" cy="237.1" r="1.8" fill="#a3b86a" opacity="0.45"/>
<circle cx="513.7" cy="234.0" r="1.3" fill="#5b7035" opacity="0.45"/>
<circle cx="435.7" cy="242.6" r="1.5" fill="#b0c27a" opacity="0.45"/>
<circle cx="455.4" cy="232.5" r="1.5" fill="#a3b86a" opacity="0.45"/>
<circle cx="363.4" cy="233.6" r="1.6" fill="#a3b86a" opacity="0.45"/>
<circle cx="756.6" cy="237.5" r="1.0" fill="#a3b86a" opacity="0.45"/>
<circle cx="411.5" cy="240.4" r="1.6" fill="#b0c27a" opacity="0.45"/>
<circle cx="560.1" cy="243.6" r="1.5" fill="#5b7035" opacity="0.45"/>
<circle cx="705.2" cy="236.6" r="1.1" fill="#5b7035" opacity="0.45"/>
<circle cx="492.9" cy="247.1" r="1.6" fill="#a3b86a" opacity="0.45"/>
<circle cx="598.4" cy="243.2" r="2.1" fill="#6f8444" opacity="0.45"/>
<circle cx="629.6" cy="233.1" r="1.1" fill="#5b7035" opacity="0.45"/>
<circle cx="709.5" cy="242.1" r="1.1" fill="#a3b86a" opacity="0.45"/>
<circle cx="362.0" cy="237.4" r="1.9" fill="#6f8444" opacity="0.45"/>
<circle cx="484.1" cy="237.3" r="1.1" fill="#6f8444" opacity="0.45"/>
<circle cx="424.3" cy="237.4" r="2.2" fill="#a3b86a" opacity="0.45"/>
<circle cx="305.4" cy="236.7" r="1.2" fill="#6f8444" opacity="0.45"/>
<circle cx="681.7" cy="248.0" r="1.6" fill="#6f8444" opacity="0.45"/>
<circle cx="511.7" cy="232.4" r="1.5" fill="#5b7035" opacity="0.45"/>
<circle cx="609.8" cy="244.0" r="1.4" fill="#5b7035" opacity="0.45"/>
<circle cx="762.1" cy="239.9" r="1.1" fill="#b0c27a" opacity="0.45"/>
<circle cx="332.4" cy="241.2" r="1.1" fill="#a3b86a" opacity="0.45"/>
<circle cx="499.2" cy="236.2" r="1.7" fill="#a3b86a" opacity="0.45"/>
<circle cx="293.2" cy="247.8" r="2.2" fill="#b0c27a" opacity="0.45"/>
<circle cx="470.4" cy="243.0" r="2.1" fill="#5b7035" opacity="0.45"/>
<circle cx="728.7" cy="244.5" r="1.1" fill="#5b7035" opacity="0.45"/>
<circle cx="300.7" cy="248.8" r="1.6" fill="#a3b86a" opacity="0.45"/>
<circle cx="558.9" cy="246.2" r="1.8" fill="#5b7035" opacity="0.45"/>
<circle cx="419.9" cy="245.1" r="1.3" fill="#a3b86a" opacity="0.45"/>
<circle cx="481.8" cy="244.5" r="1.1" fill="#b0c27a" opacity="0.45"/>
<circle cx="509.3" cy="249.1" r="1.9" fill="#a3b86a" opacity="0.45"/>
<circle cx="788.7" cy="233.5" r="1.2" fill="#6f8444" opacity="0.45"/>
<circle cx="644.9" cy="235.9" r="1.6" fill="#b0c27a" opacity="0.45"/>
<circle cx="687.6" cy="240.2" r="1.4" fill="#5b7035" opacity="0.45"/>
<circle cx="597.5" cy="244.3" r="1.7" fill="#6f8444" opacity="0.45"/>
<circle cx="379.8" cy="231.5" r="1.7" fill="#a3b86a" opacity="0.45"/>
<circle cx="603.4" cy="240.3" r="2.0" fill="#5b7035" opacity="0.45"/>
<circle cx="586.0" cy="232.1" r="1.3" fill="#a3b86a" opacity="0.45"/>
<circle cx="425.1" cy="238.0" r="1.9" fill="#5b7035" opacity="0.45"/>
<circle cx="611.7" cy="245.4" r="1.9" fill="#6f8444" opacity="0.45"/>
<circle cx="525.0" cy="234.0" r="2.2" fill="#a3b86a" opacity="0.45"/>
<circle cx="614.9" cy="239.0" r="2.0" fill="#a3b86a" opacity="0.45"/>
<circle cx="448.7" cy="244.9" r="1.6" fill="#6f8444" opacity="0.45"/>
<circle cx="355.4" cy="240.4" r="1.0" fill="#a3b86a" opacity="0.45"/>
<circle cx="671.9" cy="246.9" r="1.1" fill="#6f8444" opacity="0.45"/>
<circle cx="520.4" cy="233.3" r="1.2" fill="#b0c27a" opacity="0.45"/>
<circle cx="713.8" cy="235.5" r="2.0" fill="#6f8444" opacity="0.45"/>
<circle cx="472.0" cy="243.2" r="1.3" fill="#5b7035" opacity="0.45"/>
<circle cx="748.7" cy="234.9" r="1.3" fill="#6f8444" opacity="0.45"/>
<circle cx="657.3" cy="240.6" r="1.5" fill="#5b7035" opacity="0.45"/>
<circle cx="388.3" cy="232.8" r="1.7" fill="#a3b86a" opacity="0.45"/>
<circle cx="678.6" cy="244.8" r="2.1" fill="#6f8444" opacity="0.45"/>
<circle cx="349.2" cy="232.1" r="1.0" fill="#b0c27a" opacity="0.45"/>
<circle cx="328.0" cy="239.7" r="1.5" fill="#a3b86a" opacity="0.45"/>
<circle cx="519.4" cy="240.9" r="1.0" fill="#a3b86a" opacity="0.45"/>
<circle cx="704.6" cy="242.7" r="1.9" fill="#b0c27a" opacity="0.45"/>
<circle cx="283.5" cy="247.8" r="2.2" fill="#b0c27a" opacity="0.45"/>
<circle cx="773.6" cy="244.2" r="1.2" fill="#5b7035" opacity="0.45"/>
<circle cx="731.9" cy="234.3" r="1.5" fill="#6f8444" opacity="0.45"/>
<circle cx="494.6" cy="236.7" r="1.9" fill="#a3b86a" opacity="0.45"/>
<circle cx="475.4" cy="245.7" r="1.1" fill="#a3b86a" opacity="0.45"/>
<circle cx="629.3" cy="235.1" r="1.5" fill="#a3b86a" opacity="0.45"/>
<circle cx="349.2" cy="249.3" r="1.3" fill="#b0c27a" opacity="0.45"/>
<circle cx="631.5" cy="247.3" r="1.8" fill="#6f8444" opacity="0.45"/>
<circle cx="723.2" cy="248.4" r="2.0" fill="#a3b86a" opacity="0.45"/>
<circle cx="699.0" cy="248.1" r="1.7" fill="#a3b86a" opacity="0.45"/>
<circle cx="651.8" cy="234.8" r="1.7" fill="#6f8444" opacity="0.45"/>
<circle cx="372.3" cy="241.1" r="2.0" fill="#5b7035" opacity="0.45"/>
<circle cx="600.4" cy="244.5" r="1.5" fill="#b0c27a" opacity="0.45"/>
<circle cx="597.3" cy="234.5" r="1.7" fill="#a3b86a" opacity="0.45"/>
<circle cx="763.2" cy="245.1" r="1.8" fill="#a3b86a" opacity="0.45"/>
<circle cx="768.2" cy="246.8" r="1.4" fill="#6f8444" opacity="0.45"/>
<circle cx="525.2" cy="238.0" r="2.2" fill="#5b7035" opacity="0.45"/>
<circle cx="664.4" cy="240.1" r="2.0" fill="#a3b86a" opacity="0.45"/>
<circle cx="731.1" cy="237.3" r="2.2" fill="#a3b86a" opacity="0.45"/>
<circle cx="361.2" cy="239.1" r="1.5" fill="#6f8444" opacity="0.45"/>
<circle cx="391.7" cy="236.6" r="2.0" fill="#6f8444" opacity="0.45"/>
<circle cx="674.4" cy="240.2" r="1.1" fill="#5b7035" opacity="0.45"/>
<circle cx="321.8" cy="244.9" r="1.5" fill="#5b7035" opacity="0.45"/>
<circle cx="454.2" cy="245.6" r="1.1" fill="#6f8444" opacity="0.45"/>
<circle cx="752.2" cy="247.9" r="1.9" fill="#6f8444" opacity="0.45"/>
<circle cx="294.0" cy="240.7" r="1.6" fill="#a3b86a" opacity="0.45"/>
<circle cx="430.1" cy="239.1" r="1.7" fill="#6f8444" opacity="0.45"/>
<circle cx="774.5" cy="240.8" r="2.1" fill="#6f8444" opacity="0.45"/>
<circle cx="578.0" cy="232.4" r="1.5" fill="#a3b86a" opacity="0.45"/>
<circle cx="322.6" cy="237.6" r="2.1" fill="#6f8444" opacity="0.45"/>
<circle cx="784.0" cy="247.5" r="1.4" fill="#6f8444" opacity="0.45"/>
<circle cx="511.7" cy="232.9" r="2.0" fill="#5b7035" opacity="0.45"/>
<circle cx="291.3" cy="249.3" r="1.8" fill="#6f8444" opacity="0.45"/>
<circle cx="580.6" cy="247.9" r="1.4" fill="#a3b86a" opacity="0.45"/>
<circle cx="698.0" cy="240.5" r="1.4" fill="#6f8444" opacity="0.45"/>
<circle cx="710.3" cy="241.8" r="1.5" fill="#b0c27a" opacity="0.45"/>
<circle cx="591.0" cy="238.7" r="1.5" fill="#b0c27a" opacity="0.45"/>
<circle cx="305.7" cy="237.1" r="1.0" fill="#5b7035" opacity="0.45"/>
<circle cx="490.7" cy="248.9" r="1.1" fill="#6f8444" opacity="0.45"/>
<circle cx="503.5" cy="244.9" r="1.0" fill="#6f8444" opacity="0.45"/>
<circle cx="577.9" cy="244.3" r="1.1" fill="#6f8444" opacity="0.45"/>
<circle cx="425.5" cy="236.6" r="1.5" fill="#b0c27a" opacity="0.45"/>
<circle cx="290.7" cy="239.7" r="1.2" fill="#5b7035" opacity="0.45"/>
<circle cx="546.0" cy="249.9" r="1.7" fill="#a3b86a" opacity="0.45"/>
<circle cx="708.2" cy="242.8" r="2.0" fill="#b0c27a" opacity="0.45"/>
<circle cx="462.0" cy="249.9" r="2.0" fill="#6f8444" opacity="0.45"/>
<circle cx="330.5" cy="247.8" r="1.4" fill="#5b7035" opacity="0.45"/>
<circle cx="760.4" cy="248.9" r="1.5" fill="#a3b86a" opacity="0.45"/>
<circle cx="788.4" cy="233.5" r="1.9" fill="#a3b86a" opacity="0.45"/>
<circle cx="457.7" cy="234.4" r="2.2" fill="#6f8444" opacity="0.45"/>
<circle cx="754.8" cy="238.6" r="1.3" fill="#b0c27a" opacity="0.45"/>
<circle cx="499.1" cy="242.7" r="1.5" fill="#5b7035" opacity="0.45"/>
<circle cx="468.5" cy="234.7" r="1.2" fill="#a3b86a" opacity="0.45"/>
<circle cx="399.0" cy="240.5" r="1.7" fill="#6f8444" opacity="0.45"/>
<circle cx="738.8" cy="245.8" r="1.4" fill="#5b7035" opacity="0.45"/>
<circle cx="447.1" cy="237.6" r="2.0" fill="#6f8444" opacity="0.45"/>
<circle cx="296.5" cy="240.5" r="1.3" fill="#b0c27a" opacity="0.45"/>
<circle cx="296.6" cy="235.3" r="2.2" fill="#5b7035" opacity="0.45"/>
<circle cx="387.3" cy="239.7" r="1.0" fill="#6f8444" opacity="0.45"/>
<circle cx="665.4" cy="233.1" r="1.8" fill="#6f8444" opacity="0.45"/>
<circle cx="401.1" cy="232.2" r="1.1" fill="#5b7035" opacity="0.45"/>
<circle cx="677.6" cy="235.8" r="1.2" fill="#5b7035" opacity="0.45"/>
<circle cx="431.3" cy="238.4" r="1.3" fill="#a3b86a" opacity="0.45"/>
<circle cx="706.4" cy="245.6" r="1.6" fill="#b0c27a" opacity="0.45"/>
<circle cx="712.9" cy="244.9" r="1.9" fill="#b0c27a" opacity="0.45"/>
<circle cx="471.2" cy="241.9" r="1.3" fill="#6f8444" opacity="0.45"/>
<circle cx="628.5" cy="231.1" r="1.2" fill="#6f8444" opacity="0.45"/>
<circle cx="750.9" cy="237.1" r="1.3" fill="#a3b86a" opacity="0.45"/>
<circle cx="276.4" cy="244.2" r="1.0" fill="#5b7035" opacity="0.45"/>
<circle cx="542.8" cy="237.7" r="1.3" fill="#b0c27a" opacity="0.45"/>
<circle cx="715.1" cy="246.0" r="1.4" fill="#b0c27a" opacity="0.45"/>
<circle cx="627.5" cy="242.2" r="1.2" fill="#6f8444" opacity="0.45"/>
<circle cx="564.7" cy="232.7" r="1.3" fill="#a3b86a" opacity="0.45"/>
<circle cx="616.5" cy="242.1" r="1.3" fill="#b0c27a" opacity="0.45"/>
<circle cx="379.7" cy="248.5" r="1.1" fill="#a3b86a" opacity="0.45"/>
<circle cx="387.7" cy="239.3" r="1.4" fill="#5b7035" opacity="0.45"/>
<circle cx="313.9" cy="234.5" r="1.6" fill="#6f8444" opacity="0.45"/>
<circle cx="622.6" cy="243.2" r="1.7" fill="#6f8444" opacity="0.45"/>
<circle cx="429.2" cy="241.6" r="1.7" fill="#5b7035" opacity="0.45"/>
<circle cx="334.0" cy="291.5" r="2.0" fill="#5b7035" opacity="0.45"/>
<circle cx="294.5" cy="278.2" r="1.7" fill="#b0c27a" opacity="0.45"/>
<circle cx="392.4" cy="283.8" r="2.0" fill="#a3b86a" opacity="0.45"/>
<circle cx="302.1" cy="281.6" r="1.2" fill="#b0c27a" opacity="0.45"/>
<circle cx="317.6" cy="291.1" r="1.3" fill="#5b7035" opacity="0.45"/>
<circle cx="323.2" cy="266.8" r="1.3" fill="#b0c27a" opacity="0.45"/>
<circle cx="424.9" cy="290.4" r="1.5" fill="#5b7035" opacity="0.45"/>
<circle cx="283.8" cy="276.4" r="2.2" fill="#a3b86a" opacity="0.45"/>
<circle cx="380.4" cy="287.5" r="1.6" fill="#6f8444" opacity="0.45"/>
<circle cx="397.1" cy="295.5" r="1.7" fill="#6f8444" opacity="0.45"/>
<circle cx="305.4" cy="289.2" r="1.3" fill="#b0c27a" opacity="0.45"/>
<circle cx="332.2" cy="284.0" r="1.7" fill="#b0c27a" opacity="0.45"/>
<circle cx="422.0" cy="287.1" r="1.9" fill="#b0c27a" opacity="0.45"/>
<circle cx="364.1" cy="289.7" r="1.8" fill="#5b7035" opacity="0.45"/>
<circle cx="394.4" cy="270.7" r="1.6" fill="#b0c27a" opacity="0.45"/>
<circle cx="396.2" cy="278.9" r="2.1" fill="#a3b86a" opacity="0.45"/>
<circle cx="374.6" cy="271.1" r="1.3" fill="#b0c27a" opacity="0.45"/>
<circle cx="427.0" cy="265.9" r="1.9" fill="#a3b86a" opacity="0.45"/>
<circle cx="359.9" cy="289.8" r="2.0" fill="#b0c27a" opacity="0.45"/>
<circle cx="275.2" cy="286.7" r="1.8" fill="#b0c27a" opacity="0.45"/>
<circle cx="427.3" cy="290.3" r="2.0" fill="#6f8444" opacity="0.45"/>
<circle cx="408.6" cy="278.0" r="1.2" fill="#6f8444" opacity="0.45"/>
<circle cx="394.7" cy="274.3" r="1.9" fill="#5b7035" opacity="0.45"/>
<circle cx="388.0" cy="296.0" r="1.6" fill="#a3b86a" opacity="0.45"/>
<circle cx="409.5" cy="293.4" r="1.4" fill="#5b7035" opacity="0.45"/>
<circle cx="274.4" cy="296.6" r="1.2" fill="#5b7035" opacity="0.45"/>
<circle cx="317.7" cy="273.2" r="2.0" fill="#b0c27a" opacity="0.45"/>
<circle cx="344.4" cy="265.3" r="1.6" fill="#a3b86a" opacity="0.45"/>
<circle cx="310.6" cy="277.1" r="1.3" fill="#a3b86a" opacity="0.45"/>
<circle cx="273.0" cy="267.1" r="1.2" fill="#5b7035" opacity="0.45"/>
<circle cx="319.2" cy="271.0" r="2.1" fill="#b0c27a" opacity="0.45"/>
<circle cx="432.9" cy="266.5" r="1.7" fill="#5b7035" opacity="0.45"/>
<circle cx="291.9" cy="280.8" r="1.3" fill="#b0c27a" opacity="0.45"/>
<circle cx="380.4" cy="292.4" r="1.1" fill="#5b7035" opacity="0.45"/>
<circle cx="396.3" cy="281.5" r="2.0" fill="#5b7035" opacity="0.45"/>
<circle cx="325.5" cy="269.3" r="1.5" fill="#a3b86a" opacity="0.45"/>
<circle cx="334.7" cy="266.9" r="2.0" fill="#a3b86a" opacity="0.45"/>
<circle cx="391.7" cy="290.6" r="1.0" fill="#5b7035" opacity="0.45"/>
<circle cx="363.2" cy="267.7" r="1.9" fill="#b0c27a" opacity="0.45"/>
<circle cx="331.5" cy="295.8" r="2.0" fill="#5b7035" opacity="0.45"/>
<circle cx="286.3" cy="277.5" r="1.6" fill="#a3b86a" opacity="0.45"/>
<circle cx="350.3" cy="288.1" r="2.2" fill="#6f8444" opacity="0.45"/>
<circle cx="322.5" cy="289.4" r="1.3" fill="#a3b86a" opacity="0.45"/>
<circle cx="290.7" cy="282.8" r="1.8" fill="#a3b86a" opacity="0.45"/>
<circle cx="357.3" cy="285.9" r="1.8" fill="#5b7035" opacity="0.45"/>
<circle cx="305.5" cy="287.2" r="1.0" fill="#a3b86a" opacity="0.45"/>
<circle cx="339.6" cy="295.6" r="1.6" fill="#b0c27a" opacity="0.45"/>
<circle cx="417.5" cy="293.8" r="1.3" fill="#b0c27a" opacity="0.45"/>
<circle cx="410.2" cy="279.4" r="1.1" fill="#6f8444" opacity="0.45"/>
<circle cx="372.0" cy="295.9" r="1.7" fill="#a3b86a" opacity="0.45"/>
<circle cx="280.4" cy="293.2" r="2.1" fill="#b0c27a" opacity="0.45"/>
<circle cx="281.1" cy="277.5" r="2.0" fill="#b0c27a" opacity="0.45"/>
<circle cx="306.6" cy="271.0" r="1.1" fill="#a3b86a" opacity="0.45"/>
<circle cx="302.2" cy="278.1" r="2.1" fill="#a3b86a" opacity="0.45"/>
<circle cx="365.3" cy="292.4" r="1.5" fill="#b0c27a" opacity="0.45"/>
<circle cx="412.3" cy="279.4" r="2.1" fill="#5b7035" opacity="0.45"/>
<circle cx="284.6" cy="278.7" r="1.8" fill="#5b7035" opacity="0.45"/>
<circle cx="407.8" cy="294.8" r="1.9" fill="#6f8444" opacity="0.45"/>
<circle cx="356.0" cy="285.4" r="1.4" fill="#5b7035" opacity="0.45"/>
<circle cx="382.6" cy="264.3" r="1.4" fill="#5b7035" opacity="0.45"/>
<circle cx="399.5" cy="291.9" r="1.5" fill="#a3b86a" opacity="0.45"/>
<circle cx="333.0" cy="272.1" r="1.5" fill="#b0c27a" opacity="0.45"/>
<circle cx="369.1" cy="288.6" r="2.1" fill="#6f8444" opacity="0.45"/>
<circle cx="328.0" cy="264.5" r="1.9" fill="#a3b86a" opacity="0.45"/>
<circle cx="394.2" cy="283.9" r="1.6" fill="#6f8444" opacity="0.45"/>
<circle cx="341.9" cy="269.6" r="1.3" fill="#6f8444" opacity="0.45"/>
<circle cx="363.8" cy="275.9" r="1.4" fill="#b0c27a" opacity="0.45"/>
<circle cx="329.1" cy="277.0" r="1.3" fill="#5b7035" opacity="0.45"/>
<circle cx="352.3" cy="268.8" r="2.1" fill="#6f8444" opacity="0.45"/>
<circle cx="395.0" cy="274.2" r="1.1" fill="#a3b86a" opacity="0.45"/>
<circle cx="330.8" cy="273.1" r="1.4" fill="#5b7035" opacity="0.45"/>
<circle cx="354.0" cy="279.6" r="1.8" fill="#a3b86a" opacity="0.45"/>
<circle cx="304.8" cy="276.4" r="2.2" fill="#5b7035" opacity="0.45"/>
<circle cx="422.8" cy="284.1" r="1.7" fill="#b0c27a" opacity="0.45"/>
<circle cx="290.0" cy="288.7" r="1.6" fill="#5b7035" opacity="0.45"/>
<circle cx="385.6" cy="289.2" r="2.0" fill="#5b7035" opacity="0.45"/>
<circle cx="424.8" cy="286.4" r="2.1" fill="#6f8444" opacity="0.45"/>
<circle cx="385.9" cy="270.5" r="2.2" fill="#b0c27a" opacity="0.45"/>
<circle cx="384.2" cy="296.4" r="1.4" fill="#b0c27a" opacity="0.45"/>
<circle cx="371.2" cy="287.1" r="1.2" fill="#a3b86a" opacity="0.45"/>
<circle cx="319.3" cy="284.0" r="1.9" fill="#5b7035" opacity="0.45"/>
<circle cx="388.6" cy="273.7" r="1.0" fill="#5b7035" opacity="0.45"/>
<circle cx="378.9" cy="279.0" r="1.7" fill="#b0c27a" opacity="0.45"/>
<circle cx="315.2" cy="265.6" r="1.1" fill="#6f8444" opacity="0.45"/>
<circle cx="369.4" cy="296.3" r="1.7" fill="#5b7035" opacity="0.45"/>
<circle cx="431.9" cy="279.9" r="1.5" fill="#a3b86a" opacity="0.45"/>
<circle cx="369.8" cy="273.9" r="1.8" fill="#5b7035" opacity="0.45"/>
<circle cx="292.7" cy="295.5" r="1.6" fill="#b0c27a" opacity="0.45"/>
<circle cx="367.8" cy="282.6" r="1.1" fill="#b0c27a" opacity="0.45"/>
<circle cx="418.6" cy="265.3" r="1.3" fill="#b0c27a" opacity="0.45"/>
<circle cx="396.0" cy="276.2" r="1.2" fill="#6f8444" opacity="0.45"/>
<circle cx="307.7" cy="285.7" r="1.8" fill="#5b7035" opacity="0.45"/>
<circle cx="393.4" cy="266.4" r="1.6" fill="#b0c27a" opacity="0.45"/>
<circle cx="367.7" cy="296.5" r="1.3" fill="#a3b86a" opacity="0.45"/>
<circle cx="354.1" cy="279.9" r="1.1" fill="#b0c27a" opacity="0.45"/>
<circle cx="361.3" cy="283.7" r="2.1" fill="#a3b86a" opacity="0.45"/>
<circle cx="275.9" cy="267.7" r="2.0" fill="#5b7035" opacity="0.45"/>
<circle cx="294.6" cy="264.1" r="1.9" fill="#a3b86a" opacity="0.45"/>
<circle cx="300.4" cy="275.2" r="1.8" fill="#a3b86a" opacity="0.45"/>
<circle cx="351.9" cy="290.8" r="1.4" fill="#5b7035" opacity="0.45"/>
<circle cx="349.6" cy="294.9" r="2.2" fill="#6f8444" opacity="0.45"/>
<circle cx="416.2" cy="263.9" r="1.6" fill="#6f8444" opacity="0.45"/>
<circle cx="304.1" cy="290.4" r="1.6" fill="#b0c27a" opacity="0.45"/>
<circle cx="325.8" cy="285.6" r="1.8" fill="#6f8444" opacity="0.45"/>
<circle cx="327.6" cy="276.2" r="1.1" fill="#6f8444" opacity="0.45"/>
<circle cx="284.3" cy="291.9" r="1.2" fill="#b0c27a" opacity="0.45"/>
<circle cx="416.6" cy="294.3" r="1.5" fill="#5b7035" opacity="0.45"/>
<circle cx="334.5" cy="283.4" r="1.2" fill="#b0c27a" opacity="0.45"/>
<circle cx="286.5" cy="285.5" r="2.2" fill="#5b7035" opacity="0.45"/>
<circle cx="315.8" cy="287.8" r="2.1" fill="#a3b86a" opacity="0.45"/>
<circle cx="308.4" cy="283.7" r="2.1" fill="#b0c27a" opacity="0.45"/>
<circle cx="274.9" cy="278.0" r="1.2" fill="#6f8444" opacity="0.45"/>
<circle cx="381.9" cy="289.7" r="1.6" fill="#a3b86a" opacity="0.45"/>
<circle cx="284.8" cy="282.0" r="1.8" fill="#5b7035" opacity="0.45"/>
<circle cx="301.0" cy="290.4" r="1.1" fill="#6f8444" opacity="0.45"/>
<circle cx="375.7" cy="282.2" r="2.0" fill="#6f8444" opacity="0.45"/>
<circle cx="405.6" cy="279.1" r="2.1" fill="#6f8444" opacity="0.45"/>
<circle cx="359.5" cy="271.0" r="1.6" fill="#6f8444" opacity="0.45"/>
<circle cx="385.9" cy="275.8" r="1.1" fill="#6f8444" opacity="0.45"/>
<circle cx="387.3" cy="279.0" r="1.3" fill="#5b7035" opacity="0.45"/>
<circle cx="429.0" cy="282.2" r="1.7" fill="#b0c27a" opacity="0.45"/>
<circle cx="431.8" cy="296.3" r="1.2" fill="#b0c27a" opacity="0.45"/>
<circle cx="293.1" cy="283.1" r="1.8" fill="#6f8444" opacity="0.45"/>
<circle cx="383.1" cy="272.3" r="1.7" fill="#b0c27a" opacity="0.45"/>
<circle cx="275.4" cy="263.7" r="1.9" fill="#b0c27a" opacity="0.45"/>
<circle cx="296.1" cy="294.2" r="1.3" fill="#5b7035" opacity="0.45"/>
<circle cx="359.4" cy="286.5" r="1.3" fill="#b0c27a" opacity="0.45"/>
<circle cx="331.3" cy="291.4" r="2.2" fill="#5b7035" opacity="0.45"/>
<circle cx="302.7" cy="277.7" r="1.2" fill="#b0c27a" opacity="0.45"/>
<circle cx="402.8" cy="264.9" r="2.2" fill="#5b7035" opacity="0.45"/>
<circle cx="433.3" cy="290.2" r="2.2" fill="#a3b86a" opacity="0.45"/>
<circle cx="429.0" cy="267.1" r="1.2" fill="#5b7035" opacity="0.45"/>
<circle cx="316.0" cy="292.1" r="2.1" fill="#b0c27a" opacity="0.45"/>
<circle cx="379.1" cy="292.5" r="1.9" fill="#b0c27a" opacity="0.45"/>
<circle cx="347.7" cy="281.4" r="1.3" fill="#5b7035" opacity="0.45"/>
<circle cx="376.1" cy="269.9" r="1.8" fill="#6f8444" opacity="0.45"/>
<circle cx="280.3" cy="274.6" r="1.3" fill="#6f8444" opacity="0.45"/>
<circle cx="366.8" cy="263.2" r="1.6" fill="#5b7035" opacity="0.45"/>
<circle cx="383.9" cy="286.3" r="1.7" fill="#5b7035" opacity="0.45"/>
<circle cx="400.2" cy="278.6" r="1.6" fill="#6f8444" opacity="0.45"/>
<circle cx="369.3" cy="273.5" r="1.8" fill="#a3b86a" opacity="0.45"/>
<circle cx="405.8" cy="270.2" r="1.5" fill="#5b7035" opacity="0.45"/>
<circle cx="426.1" cy="264.5" r="1.1" fill="#5b7035" opacity="0.45"/>
<circle cx="342.0" cy="275.5" r="2.2" fill="#b0c27a" opacity="0.45"/>
<circle cx="289.2" cy="271.5" r="1.2" fill="#b0c27a" opacity="0.45"/>
<circle cx="429.5" cy="265.7" r="1.1" fill="#5b7035" opacity="0.45"/>
<circle cx="372.8" cy="267.4" r="2.0" fill="#5b7035" opacity="0.45"/>
<circle cx="389.9" cy="287.8" r="1.3" fill="#a3b86a" opacity="0.45"/>
<circle cx="292.0" cy="272.7" r="2.2" fill="#a3b86a" opacity="0.45"/>
<circle cx="343.2" cy="290.2" r="1.8" fill="#6f8444" opacity="0.45"/>
<circle cx="293.8" cy="296.1" r="1.4" fill="#b0c27a" opacity="0.45"/>
<circle cx="354.1" cy="272.0" r="1.2" fill="#5b7035" opacity="0.45"/>
<circle cx="340.6" cy="294.4" r="1.7" fill="#5b7035" opacity="0.45"/>
<circle cx="384.7" cy="265.7" r="1.4" fill="#a3b86a" opacity="0.45"/>
<circle cx="404.7" cy="286.4" r="1.8" fill="#a3b86a" opacity="0.45"/>
<circle cx="291.3" cy="293.0" r="1.4" fill="#6f8444" opacity="0.45"/>
<circle cx="360.0" cy="279.9" r="1.2" fill="#a3b86a" opacity="0.45"/>
<circle cx="353.2" cy="265.2" r="1.4" fill="#b0c27a" opacity="0.45"/>
<circle cx="311.4" cy="284.4" r="1.7" fill="#5b7035" opacity="0.45"/>
<circle cx="298.4" cy="266.4" r="1.9" fill="#5b7035" opacity="0.45"/>
<circle cx="414.4" cy="275.7" r="1.6" fill="#5b7035" opacity="0.45"/>
<circle cx="312.2" cy="271.4" r="2.1" fill="#b0c27a" opacity="0.45"/>
<circle cx="386.1" cy="269.1" r="1.5" fill="#a3b86a" opacity="0.45"/>
<circle cx="388.3" cy="296.3" r="1.5" fill="#6f8444" opacity="0.45"/>
<circle cx="412.5" cy="268.9" r="1.9" fill="#b0c27a" opacity="0.45"/>
<circle cx="273.2" cy="273.0" r="2.1" fill="#a3b86a" opacity="0.45"/>
<circle cx="373.4" cy="296.3" r="1.7" fill="#6f8444" opacity="0.45"/>
<circle cx="294.2" cy="278.0" r="1.8" fill="#b0c27a" opacity="0.45"/>
<circle cx="418.0" cy="287.4" r="1.5" fill="#5b7035" opacity="0.45"/>
<circle cx="377.8" cy="265.2" r="1.8" fill="#b0c27a" opacity="0.45"/>
<circle cx="399.0" cy="287.3" r="1.5" fill="#5b7035" opacity="0.45"/>
<circle cx="353.4" cy="265.5" r="1.2" fill="#5b7035" opacity="0.45"/>
<circle cx="387.2" cy="294.8" r="1.2" fill="#6f8444" opacity="0.45"/>
<circle cx="286.1" cy="271.8" r="2.0" fill="#b0c27a" opacity="0.45"/>
<circle cx="310.5" cy="289.0" r="1.9" fill="#a3b86a" opacity="0.45"/>
<circle cx="342.2" cy="279.7" r="1.5" fill="#a3b86a" opacity="0.45"/>
<circle cx="322.5" cy="271.4" r="1.0" fill="#b0c27a" opacity="0.45"/>
<circle cx="277.6" cy="291.7" r="1.3" fill="#6f8444" opacity="0.45"/>
<circle cx="345.2" cy="281.7" r="1.3" fill="#6f8444" opacity="0.45"/>
<circle cx="361.3" cy="292.2" r="1.8" fill="#a3b86a" opacity="0.45"/>
<circle cx="313.1" cy="290.1" r="1.5" fill="#b0c27a" opacity="0.45"/>
<circle cx="329.5" cy="274.0" r="2.0" fill="#b0c27a" opacity="0.45"/>
<circle cx="352.1" cy="285.9" r="2.2" fill="#5b7035" opacity="0.45"/>
<circle cx="376.0" cy="277.7" r="2.0" fill="#b0c27a" opacity="0.45"/>
<circle cx="359.0" cy="295.8" r="1.8" fill="#5b7035" opacity="0.45"/>
<circle cx="331.0" cy="296.3" r="1.7" fill="#b0c27a" opacity="0.45"/>
<circle cx="381.1" cy="275.8" r="1.9" fill="#a3b86a" opacity="0.45"/>
<circle cx="366.0" cy="292.7" r="2.1" fill="#6f8444" opacity="0.45"/>
<circle cx="326.0" cy="267.3" r="2.0" fill="#5b7035" opacity="0.45"/>
<circle cx="340.0" cy="271.2" r="2.1" fill="#b0c27a" opacity="0.45"/>
<circle cx="312.3" cy="273.4" r="1.6" fill="#b0c27a" opacity="0.45"/>
<circle cx="357.8" cy="285.3" r="1.8" fill="#b0c27a" opacity="0.45"/>
<circle cx="387.5" cy="280.3" r="1.5" fill="#6f8444" opacity="0.45"/>
<circle cx="380.9" cy="272.3" r="1.9" fill="#5b7035" opacity="0.45"/>
<circle cx="297.4" cy="290.0" r="1.3" fill="#6f8444" opacity="0.45"/>
<circle cx="386.1" cy="288.6" r="1.4" fill="#b0c27a" opacity="0.45"/>
<circle cx="356.3" cy="276.3" r="2.0" fill="#b0c27a" opacity="0.45"/>
<circle cx="318.4" cy="273.5" r="1.5" fill="#6f8444" opacity="0.45"/>
<circle cx="300.7" cy="266.5" r="1.0" fill="#5b7035" opacity="0.45"/>
<circle cx="369.1" cy="277.8" r="1.6" fill="#5b7035" opacity="0.45"/>
<circle cx="355.6" cy="275.3" r="1.5" fill="#6f8444" opacity="0.45"/>
<circle cx="403.4" cy="272.5" r="2.1" fill="#b0c27a" opacity="0.45"/>
<circle cx="305.7" cy="289.6" r="1.6" fill="#6f8444" opacity="0.45"/>
<circle cx="394.0" cy="267.9" r="2.0" fill="#b0c27a" opacity="0.45"/>
<circle cx="314.6" cy="289.2" r="1.9" fill="#5b7035" opacity="0.45"/>
<circle cx="410.0" cy="294.9" r="2.1" fill="#6f8444" opacity="0.45"/>
<circle cx="344.6" cy="296.7" r="1.2" fill="#b0c27a" opacity="0.45"/>
<circle cx="415.8" cy="296.9" r="1.3" fill="#b0c27a" opacity="0.45"/>
<circle cx="390.3" cy="287.0" r="1.3" fill="#a3b86a" opacity="0.45"/>
<circle cx="400.2" cy="280.1" r="1.8" fill="#b0c27a" opacity="0.45"/>
<circle cx="309.3" cy="292.1" r="1.7" fill="#b0c27a" opacity="0.45"/>
<circle cx="433.2" cy="289.2" r="1.7" fill="#5b7035" opacity="0.45"/>
<circle cx="358.7" cy="270.4" r="1.4" fill="#a3b86a" opacity="0.45"/>
<circle cx="357.8" cy="264.1" r="1.8" fill="#5b7035" opacity="0.45"/>
<circle cx="352.2" cy="278.5" r="1.8" fill="#5b7035" opacity="0.45"/>
<circle cx="351.6" cy="293.7" r="2.1" fill="#6f8444" opacity="0.45"/>
<circle cx="389.8" cy="287.4" r="1.2" fill="#a3b86a" opacity="0.45"/>
<circle cx="416.8" cy="292.2" r="1.2" fill="#b0c27a" opacity="0.45"/>
<circle cx="478.7" cy="274.3" r="1.2" fill="#a3b86a" opacity="0.45"/>
<circle cx="450.9" cy="269.0" r="1.8" fill="#5b7035" opacity="0.45"/>
<circle cx="559.5" cy="276.4" r="1.5" fill="#b0c27a" opacity="0.45"/>
<circle cx="572.9" cy="289.6" r="1.7" fill="#6f8444" opacity="0.45"/>
<circle cx="520.9" cy="271.5" r="1.9" fill="#6f8444" opacity="0.45"/>
<circle cx="469.9" cy="283.4" r="1.8" fill="#b0c27a" opacity="0.45"/>
<circle cx="558.0" cy="292.5" r="1.8" fill="#a3b86a" opacity="0.45"/>
<circle cx="480.8" cy="277.8" r="1.9" fill="#a3b86a" opacity="0.45"/>
<circle cx="471.5" cy="290.8" r="1.8" fill="#5b7035" opacity="0.45"/>
<circle cx="448.6" cy="272.5" r="1.8" fill="#5b7035" opacity="0.45"/>
<circle cx="537.0" cy="282.9" r="1.1" fill="#5b7035" opacity="0.45"/>
<circle cx="494.2" cy="287.6" r="1.1" fill="#5b7035" opacity="0.45"/>
<circle cx="604.8" cy="294.3" r="1.3" fill="#6f8444" opacity="0.45"/>
<circle cx="517.1" cy="271.1" r="1.2" fill="#5b7035" opacity="0.45"/>
<circle cx="568.9" cy="263.7" r="1.1" fill="#6f8444" opacity="0.45"/>
<circle cx="504.5" cy="271.8" r="1.4" fill="#6f8444" opacity="0.45"/>
<circle cx="516.1" cy="280.2" r="1.1" fill="#6f8444" opacity="0.45"/>
<circle cx="451.7" cy="275.7" r="2.0" fill="#b0c27a" opacity="0.45"/>
<circle cx="595.5" cy="275.0" r="1.7" fill="#5b7035" opacity="0.45"/>
<circle cx="466.0" cy="271.4" r="2.0" fill="#5b7035" opacity="0.45"/>
<circle cx="472.2" cy="277.6" r="1.2" fill="#b0c27a" opacity="0.45"/>
<circle cx="529.4" cy="271.7" r="1.5" fill="#a3b86a" opacity="0.45"/>
<circle cx="604.1" cy="286.4" r="1.6" fill="#5b7035" opacity="0.45"/>
<circle cx="528.6" cy="269.6" r="1.8" fill="#5b7035" opacity="0.45"/>
<circle cx="598.7" cy="290.4" r="1.2" fill="#6f8444" opacity="0.45"/>
<circle cx="495.5" cy="293.7" r="1.7" fill="#a3b86a" opacity="0.45"/>
<circle cx="506.2" cy="278.5" r="1.8" fill="#a3b86a" opacity="0.45"/>
<circle cx="574.2" cy="286.5" r="1.6" fill="#a3b86a" opacity="0.45"/>
<circle cx="536.5" cy="273.0" r="2.1" fill="#b0c27a" opacity="0.45"/>
<circle cx="560.5" cy="285.4" r="1.4" fill="#6f8444" opacity="0.45"/>
<circle cx="467.3" cy="278.7" r="1.9" fill="#a3b86a" opacity="0.45"/>
<circle cx="582.9" cy="290.4" r="2.2" fill="#b0c27a" opacity="0.45"/>
<circle cx="465.0" cy="289.6" r="1.5" fill="#b0c27a" opacity="0.45"/>
<circle cx="498.7" cy="287.8" r="1.6" fill="#a3b86a" opacity="0.45"/>
<circle cx="480.7" cy="271.0" r="1.7" fill="#6f8444" opacity="0.45"/>
<circle cx="535.9" cy="263.9" r="1.8" fill="#a3b86a" opacity="0.45"/>
<circle cx="585.6" cy="274.2" r="1.1" fill="#a3b86a" opacity="0.45"/>
<circle cx="597.5" cy="269.6" r="2.1" fill="#6f8444" opacity="0.45"/>
<circle cx="567.2" cy="291.3" r="1.9" fill="#5b7035" opacity="0.45"/>
<circle cx="581.9" cy="290.7" r="2.0" fill="#6f8444" opacity="0.45"/>
<circle cx="586.9" cy="279.1" r="1.6" fill="#b0c27a" opacity="0.45"/>
<circle cx="531.8" cy="285.5" r="1.8" fill="#6f8444" opacity="0.45"/>
<circle cx="582.6" cy="280.6" r="1.7" fill="#a3b86a" opacity="0.45"/>
<circle cx="528.5" cy="274.9" r="2.0" fill="#6f8444" opacity="0.45"/>
<circle cx="452.6" cy="264.1" r="1.6" fill="#6f8444" opacity="0.45"/>
<circle cx="512.1" cy="267.2" r="1.7" fill="#b0c27a" opacity="0.45"/>
<circle cx="540.6" cy="294.3" r="1.2" fill="#a3b86a" opacity="0.45"/>
<circle cx="607.3" cy="281.5" r="2.1" fill="#b0c27a" opacity="0.45"/>
<circle cx="520.9" cy="288.7" r="1.3" fill="#6f8444" opacity="0.45"/>
<circle cx="581.2" cy="277.6" r="1.6" fill="#6f8444" opacity="0.45"/>
<circle cx="563.4" cy="276.6" r="1.2" fill="#5b7035" opacity="0.45"/>
<circle cx="516.2" cy="280.6" r="1.4" fill="#a3b86a" opacity="0.45"/>
<circle cx="571.3" cy="265.2" r="1.1" fill="#5b7035" opacity="0.45"/>
<circle cx="465.6" cy="282.6" r="1.7" fill="#6f8444" opacity="0.45"/>
<circle cx="513.4" cy="290.9" r="2.0" fill="#6f8444" opacity="0.45"/>
<circle cx="564.9" cy="266.6" r="1.7" fill="#6f8444" opacity="0.45"/>
<circle cx="586.3" cy="295.0" r="1.9" fill="#5b7035" opacity="0.45"/>
<circle cx="532.5" cy="296.5" r="1.1" fill="#b0c27a" opacity="0.45"/>
<circle cx="536.0" cy="272.7" r="1.9" fill="#a3b86a" opacity="0.45"/>
<circle cx="496.1" cy="293.4" r="2.1" fill="#a3b86a" opacity="0.45"/>
<circle cx="462.1" cy="275.6" r="1.8" fill="#5b7035" opacity="0.45"/>
<circle cx="492.1" cy="276.5" r="1.1" fill="#a3b86a" opacity="0.45"/>
<circle cx="592.1" cy="269.2" r="1.1" fill="#b0c27a" opacity="0.45"/>
<circle cx="604.5" cy="264.3" r="2.0" fill="#6f8444" opacity="0.45"/>
<circle cx="494.8" cy="265.6" r="1.8" fill="#6f8444" opacity="0.45"/>
<circle cx="504.0" cy="275.2" r="1.9" fill="#a3b86a" opacity="0.45"/>
<circle cx="459.7" cy="269.6" r="1.4" fill="#b0c27a" opacity="0.45"/>
<circle cx="594.3" cy="285.5" r="2.2" fill="#a3b86a" opacity="0.45"/>
<circle cx="475.1" cy="289.3" r="2.1" fill="#6f8444" opacity="0.45"/>
<circle cx="456.2" cy="265.8" r="2.1" fill="#5b7035" opacity="0.45"/>
<circle cx="468.4" cy="265.8" r="2.2" fill="#b0c27a" opacity="0.45"/>
<circle cx="565.5" cy="278.2" r="2.0" fill="#6f8444" opacity="0.45"/>
<circle cx="452.0" cy="278.7" r="1.9" fill="#6f8444" opacity="0.45"/>
<circle cx="564.0" cy="281.9" r="1.7" fill="#6f8444" opacity="0.45"/>
<circle cx="532.9" cy="267.8" r="1.9" fill="#6f8444" opacity="0.45"/>
<circle cx="550.4" cy="268.8" r="2.1" fill="#5b7035" opacity="0.45"/>
<circle cx="587.9" cy="270.0" r="1.8" fill="#b0c27a" opacity="0.45"/>
<circle cx="526.1" cy="277.6" r="1.2" fill="#a3b86a" opacity="0.45"/>
<circle cx="532.7" cy="286.8" r="1.4" fill="#b0c27a" opacity="0.45"/>
<circle cx="474.0" cy="264.3" r="2.1" fill="#b0c27a" opacity="0.45"/>
<circle cx="535.2" cy="280.7" r="1.1" fill="#b0c27a" opacity="0.45"/>
<circle cx="534.1" cy="270.8" r="1.1" fill="#6f8444" opacity="0.45"/>
<circle cx="497.0" cy="270.3" r="1.5" fill="#6f8444" opacity="0.45"/>
<circle cx="592.3" cy="281.6" r="1.4" fill="#6f8444" opacity="0.45"/>
<circle cx="456.4" cy="286.2" r="2.0" fill="#6f8444" opacity="0.45"/>
<circle cx="576.5" cy="272.9" r="1.7" fill="#b0c27a" opacity="0.45"/>
<circle cx="556.1" cy="288.3" r="1.8" fill="#b0c27a" opacity="0.45"/>
<circle cx="605.5" cy="284.1" r="1.3" fill="#a3b86a" opacity="0.45"/>
<circle cx="547.8" cy="284.2" r="2.1" fill="#5b7035" opacity="0.45"/>
<circle cx="561.5" cy="296.3" r="1.6" fill="#a3b86a" opacity="0.45"/>
<circle cx="559.5" cy="279.2" r="1.2" fill="#6f8444" opacity="0.45"/>
<circle cx="582.0" cy="290.1" r="1.3" fill="#6f8444" opacity="0.45"/>
<circle cx="575.3" cy="291.8" r="1.7" fill="#a3b86a" opacity="0.45"/>
<circle cx="500.2" cy="275.5" r="2.1" fill="#5b7035" opacity="0.45"/>
<circle cx="499.3" cy="268.0" r="1.9" fill="#5b7035" opacity="0.45"/>
<circle cx="538.2" cy="290.1" r="2.1" fill="#a3b86a" opacity="0.45"/>
<circle cx="474.9" cy="297.0" r="1.4" fill="#a3b86a" opacity="0.45"/>
<circle cx="556.6" cy="290.6" r="1.5" fill="#b0c27a" opacity="0.45"/>
<circle cx="579.9" cy="270.6" r="1.2" fill="#b0c27a" opacity="0.45"/>
<circle cx="588.0" cy="270.7" r="1.7" fill="#a3b86a" opacity="0.45"/>
<circle cx="497.1" cy="291.7" r="1.3" fill="#a3b86a" opacity="0.45"/>
<circle cx="553.3" cy="263.6" r="1.8" fill="#b0c27a" opacity="0.45"/>
<circle cx="463.4" cy="264.0" r="1.4" fill="#6f8444" opacity="0.45"/>
<circle cx="537.8" cy="287.2" r="1.3" fill="#6f8444" opacity="0.45"/>
<circle cx="562.2" cy="270.3" r="1.0" fill="#6f8444" opacity="0.45"/>
<circle cx="607.6" cy="269.0" r="1.6" fill="#5b7035" opacity="0.45"/>
<circle cx="487.2" cy="264.6" r="1.8" fill="#5b7035" opacity="0.45"/>
<circle cx="546.8" cy="292.8" r="2.1" fill="#5b7035" opacity="0.45"/>
<circle cx="460.1" cy="279.9" r="1.2" fill="#6f8444" opacity="0.45"/>
<circle cx="598.3" cy="285.3" r="1.8" fill="#b0c27a" opacity="0.45"/>
<circle cx="523.3" cy="276.5" r="1.9" fill="#a3b86a" opacity="0.45"/>
<circle cx="509.4" cy="274.5" r="2.0" fill="#5b7035" opacity="0.45"/>
<circle cx="484.0" cy="278.8" r="1.9" fill="#a3b86a" opacity="0.45"/>
<circle cx="497.2" cy="288.1" r="1.1" fill="#6f8444" opacity="0.45"/>
<circle cx="522.5" cy="288.3" r="1.1" fill="#5b7035" opacity="0.45"/>
<circle cx="604.3" cy="278.8" r="1.8" fill="#6f8444" opacity="0.45"/>
<circle cx="457.3" cy="274.0" r="2.1" fill="#5b7035" opacity="0.45"/>
<circle cx="451.4" cy="278.1" r="1.8" fill="#6f8444" opacity="0.45"/>
<circle cx="518.7" cy="286.7" r="1.9" fill="#b0c27a" opacity="0.45"/>
<circle cx="477.5" cy="287.8" r="2.1" fill="#5b7035" opacity="0.45"/>
<circle cx="510.4" cy="296.3" r="2.2" fill="#b0c27a" opacity="0.45"/>
<circle cx="528.5" cy="293.4" r="2.0" fill="#5b7035" opacity="0.45"/>
<circle cx="468.3" cy="283.8" r="1.2" fill="#5b7035" opacity="0.45"/>
<circle cx="448.7" cy="289.3" r="1.9" fill="#5b7035" opacity="0.45"/>
<circle cx="597.3" cy="282.7" r="1.7" fill="#5b7035" opacity="0.45"/>
<circle cx="568.7" cy="296.2" r="1.6" fill="#b0c27a" opacity="0.45"/>
<circle cx="580.0" cy="273.7" r="1.7" fill="#6f8444" opacity="0.45"/>
<circle cx="510.6" cy="287.5" r="1.1" fill="#a3b86a" opacity="0.45"/>
<circle cx="585.7" cy="263.3" r="1.0" fill="#6f8444" opacity="0.45"/>
<circle cx="503.4" cy="288.9" r="1.8" fill="#a3b86a" opacity="0.45"/>
<circle cx="590.8" cy="288.1" r="1.1" fill="#5b7035" opacity="0.45"/>
<circle cx="558.9" cy="266.7" r="1.4" fill="#a3b86a" opacity="0.45"/>
<circle cx="538.3" cy="292.4" r="2.0" fill="#a3b86a" opacity="0.45"/>
<circle cx="573.5" cy="281.8" r="1.6" fill="#5b7035" opacity="0.45"/>
<circle cx="563.1" cy="281.2" r="2.0" fill="#a3b86a" opacity="0.45"/>
<circle cx="454.5" cy="292.7" r="1.2" fill="#a3b86a" opacity="0.45"/>
<circle cx="475.4" cy="283.0" r="1.1" fill="#6f8444" opacity="0.45"/>
<circle cx="478.7" cy="281.5" r="2.2" fill="#b0c27a" opacity="0.45"/>
<circle cx="547.4" cy="285.6" r="2.0" fill="#a3b86a" opacity="0.45"/>
<circle cx="449.0" cy="295.6" r="2.2" fill="#6f8444" opacity="0.45"/>
<circle cx="606.4" cy="294.6" r="1.8" fill="#6f8444" opacity="0.45"/>
<circle cx="589.1" cy="267.0" r="1.8" fill="#a3b86a" opacity="0.45"/>
<circle cx="559.5" cy="271.1" r="1.2" fill="#5b7035" opacity="0.45"/>
<circle cx="552.9" cy="283.8" r="1.6" fill="#a3b86a" opacity="0.45"/>
<circle cx="563.8" cy="296.3" r="1.5" fill="#6f8444" opacity="0.45"/>
<circle cx="500.1" cy="292.9" r="1.3" fill="#6f8444" opacity="0.45"/>
<circle cx="592.2" cy="292.9" r="1.1" fill="#5b7035" opacity="0.45"/>
<circle cx="479.8" cy="294.6" r="1.6" fill="#a3b86a" opacity="0.45"/>
<circle cx="556.8" cy="285.3" r="1.3" fill="#5b7035" opacity="0.45"/>
<circle cx="581.3" cy="271.7" r="1.5" fill="#6f8444" opacity="0.45"/>
<circle cx="545.5" cy="279.3" r="1.6" fill="#a3b86a" opacity="0.45"/>
<circle cx="604.7" cy="291.0" r="1.5" fill="#5b7035" opacity="0.45"/>
<circle cx="521.0" cy="280.3" r="1.0" fill="#5b7035" opacity="0.45"/>
<circle cx="461.2" cy="282.8" r="1.7" fill="#b0c27a" opacity="0.45"/>
<circle cx="605.7" cy="292.9" r="1.9" fill="#a3b86a" opacity="0.45"/>
<circle cx="527.6" cy="289.6" r="2.1" fill="#5b7035" opacity="0.45"/>
<circle cx="450.5" cy="272.0" r="1.6" fill="#b0c27a" opacity="0.45"/>
<circle cx="475.9" cy="290.7" r="1.4" fill="#a3b86a" opacity="0.45"/>
<circle cx="594.4" cy="277.1" r="1.8" fill="#6f8444" opacity="0.45"/>
<circle cx="593.1" cy="291.9" r="1.2" fill="#5b7035" opacity="0.45"/>
<circle cx="516.1" cy="292.3" r="1.4" fill="#b0c27a" opacity="0.45"/>
<circle cx="458.9" cy="285.6" r="2.2" fill="#6f8444" opacity="0.45"/>
<circle cx="534.2" cy="265.3" r="1.4" fill="#b0c27a" opacity="0.45"/>
<circle cx="497.8" cy="265.9" r="1.9" fill="#5b7035" opacity="0.45"/>
<circle cx="566.1" cy="268.6" r="1.7" fill="#5b7035" opacity="0.45"/>
<circle cx="598.1" cy="296.4" r="2.1" fill="#6f8444" opacity="0.45"/>
<circle cx="464.2" cy="266.1" r="1.8" fill="#5b7035" opacity="0.45"/>
<circle cx="460.3" cy="291.2" r="1.7" fill="#5b7035" opacity="0.45"/>
<circle cx="586.9" cy="287.9" r="1.8" fill="#6f8444" opacity="0.45"/>
<circle cx="599.5" cy="266.9" r="1.1" fill="#b0c27a" opacity="0.45"/>
<circle cx="519.6" cy="291.8" r="1.5" fill="#b0c27a" opacity="0.45"/>
<circle cx="595.5" cy="280.2" r="1.9" fill="#6f8444" opacity="0.45"/>
<circle cx="460.9" cy="269.5" r="1.3" fill="#6f8444" opacity="0.45"/>
<circle cx="508.7" cy="283.6" r="1.5" fill="#5b7035" opacity="0.45"/>
<circle cx="573.8" cy="285.9" r="1.7" fill="#6f8444" opacity="0.45"/>
<circle cx="488.3" cy="293.2" r="1.7" fill="#a3b86a" opacity="0.45"/>
<circle cx="550.0" cy="283.5" r="1.7" fill="#a3b86a" opacity="0.45"/>
<circle cx="471.7" cy="292.3" r="1.3" fill="#6f8444" opacity="0.45"/>
<circle cx="562.3" cy="266.7" r="1.7" fill="#b0c27a" opacity="0.45"/>
<circle cx="475.3" cy="290.5" r="1.3" fill="#a3b86a" opacity="0.45"/>
<circle cx="559.1" cy="280.2" r="1.1" fill="#5b7035" opacity="0.45"/>
<circle cx="458.5" cy="290.6" r="1.0" fill="#b0c27a" opacity="0.45"/>
<circle cx="547.2" cy="273.1" r="1.1" fill="#5b7035" opacity="0.45"/>
<circle cx="584.8" cy="284.9" r="1.0" fill="#a3b86a" opacity="0.45"/>
<circle cx="474.7" cy="284.1" r="1.4" fill="#6f8444" opacity="0.45"/>
<circle cx="495.4" cy="286.5" r="1.1" fill="#a3b86a" opacity="0.45"/>
<circle cx="453.1" cy="296.2" r="1.4" fill="#a3b86a" opacity="0.45"/>
<circle cx="457.2" cy="270.3" r="2.2" fill="#5b7035" opacity="0.45"/>
<circle cx="481.0" cy="295.6" r="1.9" fill="#a3b86a" opacity="0.45"/>
<circle cx="462.7" cy="296.5" r="1.8" fill="#a3b86a" opacity="0.45"/>
<circle cx="576.4" cy="283.6" r="1.0" fill="#a3b86a" opacity="0.45"/>
<circle cx="469.8" cy="281.0" r="1.8" fill="#b0c27a" opacity="0.45"/>
<circle cx="534.9" cy="293.3" r="1.0" fill="#a3b86a" opacity="0.45"/>
<circle cx="494.8" cy="286.1" r="2.1" fill="#5b7035" opacity="0.45"/>
<circle cx="471.0" cy="274.0" r="1.5" fill="#5b7035" opacity="0.45"/>
<circle cx="485.7" cy="266.6" r="1.0" fill="#a3b86a" opacity="0.45"/>
<circle cx="543.7" cy="291.8" r="1.3" fill="#5b7035" opacity="0.45"/>
<circle cx="468.9" cy="269.9" r="1.3" fill="#a3b86a" opacity="0.45"/>
<circle cx="515.3" cy="284.0" r="1.6" fill="#6f8444" opacity="0.45"/>
<circle cx="580.0" cy="294.5" r="2.0" fill="#5b7035" opacity="0.45"/>
<circle cx="482.5" cy="280.6" r="1.5" fill="#5b7035" opacity="0.45"/>
<circle cx="588.4" cy="267.1" r="1.7" fill="#b0c27a" opacity="0.45"/>
<circle cx="481.5" cy="267.3" r="2.1" fill="#b0c27a" opacity="0.45"/>
<circle cx="508.9" cy="293.5" r="1.8" fill="#6f8444" opacity="0.45"/>
<circle cx="523.8" cy="268.6" r="2.1" fill="#a3b86a" opacity="0.45"/>
<circle cx="534.7" cy="282.6" r="1.6" fill="#5b7035" opacity="0.45"/>
<circle cx="534.3" cy="270.6" r="1.7" fill="#b0c27a" opacity="0.45"/>
<circle cx="551.7" cy="296.2" r="1.3" fill="#6f8444" opacity="0.45"/>
<circle cx="542.4" cy="268.7" r="1.0" fill="#6f8444" opacity="0.45"/>
<circle cx="532.6" cy="273.6" r="1.9" fill="#a3b86a" opacity="0.45"/>
<circle cx="547.8" cy="282.8" r="1.1" fill="#6f8444" opacity="0.45"/>
<circle cx="481.5" cy="295.1" r="1.2" fill="#a3b86a" opacity="0.45"/>
<circle cx="533.3" cy="268.0" r="2.2" fill="#b0c27a" opacity="0.45"/>
<circle cx="576.1" cy="263.1" r="1.9" fill="#6f8444" opacity="0.45"/>
<circle cx="574.4" cy="293.3" r="2.1" fill="#6f8444" opacity="0.45"/>
<circle cx="550.4" cy="268.3" r="2.2" fill="#5b7035" opacity="0.45"/>
<circle cx="565.9" cy="292.9" r="2.1" fill="#a3b86a" opacity="0.45"/>
<circle cx="451.2" cy="287.2" r="1.0" fill="#6f8444" opacity="0.45"/>
<circle cx="678.1" cy="266.8" r="1.4" fill="#5b7035" opacity="0.45"/>
<circle cx="740.7" cy="277.1" r="1.1" fill="#b0c27a" opacity="0.45"/>
<circle cx="698.9" cy="296.0" r="1.4" fill="#6f8444" opacity="0.45"/>
<circle cx="654.0" cy="271.8" r="1.8" fill="#b0c27a" opacity="0.45"/>
<circle cx="660.9" cy="270.0" r="2.2" fill="#6f8444" opacity="0.45"/>
<circle cx="699.8" cy="282.1" r="1.3" fill="#6f8444" opacity="0.45"/>
<circle cx="739.5" cy="277.5" r="1.0" fill="#6f8444" opacity="0.45"/>
<circle cx="779.2" cy="268.9" r="1.3" fill="#5b7035" opacity="0.45"/>
<circle cx="693.4" cy="280.6" r="1.4" fill="#5b7035" opacity="0.45"/>
<circle cx="741.1" cy="277.1" r="1.3" fill="#b0c27a" opacity="0.45"/>
<circle cx="774.3" cy="286.9" r="1.3" fill="#b0c27a" opacity="0.45"/>
<circle cx="654.4" cy="268.2" r="2.1" fill="#a3b86a" opacity="0.45"/>
<circle cx="654.6" cy="265.8" r="1.4" fill="#a3b86a" opacity="0.45"/>
<circle cx="679.3" cy="279.9" r="1.0" fill="#6f8444" opacity="0.45"/>
<circle cx="662.9" cy="291.0" r="1.3" fill="#a3b86a" opacity="0.45"/>
<circle cx="658.5" cy="281.4" r="1.3" fill="#5b7035" opacity="0.45"/>
<circle cx="658.9" cy="289.6" r="1.2" fill="#6f8444" opacity="0.45"/>
<circle cx="629.9" cy="282.2" r="1.4" fill="#5b7035" opacity="0.45"/>
<circle cx="628.6" cy="291.5" r="2.0" fill="#5b7035" opacity="0.45"/>
<circle cx="769.6" cy="283.5" r="2.0" fill="#b0c27a" opacity="0.45"/>
<circle cx="707.1" cy="293.9" r="1.9" fill="#a3b86a" opacity="0.45"/>
<circle cx="719.7" cy="281.5" r="1.6" fill="#b0c27a" opacity="0.45"/>
<circle cx="737.7" cy="281.8" r="1.4" fill="#b0c27a" opacity="0.45"/>
<circle cx="723.5" cy="287.5" r="1.3" fill="#6f8444" opacity="0.45"/>
<circle cx="766.2" cy="279.1" r="1.1" fill="#b0c27a" opacity="0.45"/>
<circle cx="726.8" cy="293.9" r="2.0" fill="#6f8444" opacity="0.45"/>
<circle cx="655.0" cy="289.5" r="1.3" fill="#a3b86a" opacity="0.45"/>
<circle cx="713.0" cy="269.1" r="1.5" fill="#b0c27a" opacity="0.45"/>
<circle cx="667.6" cy="294.7" r="1.3" fill="#a3b86a" opacity="0.45"/>
<circle cx="705.4" cy="263.4" r="2.2" fill="#6f8444" opacity="0.45"/>
<circle cx="727.6" cy="267.3" r="1.1" fill="#5b7035" opacity="0.45"/>
<circle cx="687.8" cy="293.7" r="1.7" fill="#a3b86a" opacity="0.45"/>
<circle cx="690.2" cy="296.9" r="2.1" fill="#a3b86a" opacity="0.45"/>
<circle cx="772.1" cy="270.7" r="2.0" fill="#a3b86a" opacity="0.45"/>
<circle cx="724.7" cy="287.2" r="1.6" fill="#6f8444" opacity="0.45"/>
<circle cx="767.3" cy="284.1" r="1.8" fill="#5b7035" opacity="0.45"/>
<circle cx="739.2" cy="278.6" r="2.1" fill="#6f8444" opacity="0.45"/>
<circle cx="635.6" cy="294.8" r="1.0" fill="#a3b86a" opacity="0.45"/>
<circle cx="746.7" cy="274.8" r="1.3" fill="#b0c27a" opacity="0.45"/>
<circle cx="727.3" cy="269.0" r="1.1" fill="#b0c27a" opacity="0.45"/>
<circle cx="707.6" cy="292.2" r="2.2" fill="#a3b86a" opacity="0.45"/>
<circle cx="719.5" cy="279.8" r="1.7" fill="#b0c27a" opacity="0.45"/>
<circle cx="703.8" cy="291.7" r="1.1" fill="#5b7035" opacity="0.45"/>
<circle cx="743.9" cy="290.5" r="1.3" fill="#b0c27a" opacity="0.45"/>
<circle cx="741.4" cy="281.9" r="1.9" fill="#b0c27a" opacity="0.45"/>
<circle cx="770.9" cy="292.0" r="1.4" fill="#a3b86a" opacity="0.45"/>
<circle cx="748.2" cy="265.5" r="1.1" fill="#b0c27a" opacity="0.45"/>
<circle cx="656.0" cy="277.0" r="1.5" fill="#5b7035" opacity="0.45"/>
<circle cx="677.6" cy="270.8" r="1.9" fill="#6f8444" opacity="0.45"/>
<circle cx="724.3" cy="269.6" r="1.9" fill="#b0c27a" opacity="0.45"/>
<circle cx="625.2" cy="265.8" r="1.8" fill="#a3b86a" opacity="0.45"/>
<circle cx="779.6" cy="286.8" r="1.5" fill="#6f8444" opacity="0.45"/>
<circle cx="659.3" cy="266.8" r="1.5" fill="#6f8444" opacity="0.45"/>
<circle cx="671.2" cy="282.4" r="1.4" fill="#a3b86a" opacity="0.45"/>
<circle cx="634.8" cy="283.6" r="1.5" fill="#6f8444" opacity="0.45"/>
<circle cx="748.1" cy="273.5" r="1.5" fill="#6f8444" opacity="0.45"/>
<circle cx="680.8" cy="280.7" r="1.3" fill="#6f8444" opacity="0.45"/>
<circle cx="669.8" cy="272.9" r="1.8" fill="#b0c27a" opacity="0.45"/>
<circle cx="779.7" cy="291.8" r="2.1" fill="#5b7035" opacity="0.45"/>
<circle cx="720.6" cy="264.0" r="1.9" fill="#a3b86a" opacity="0.45"/>
<circle cx="676.7" cy="283.7" r="1.1" fill="#a3b86a" opacity="0.45"/>
<circle cx="748.4" cy="291.4" r="2.1" fill="#5b7035" opacity="0.45"/>
<circle cx="774.5" cy="277.0" r="1.6" fill="#5b7035" opacity="0.45"/>
<circle cx="766.9" cy="279.3" r="1.7" fill="#5b7035" opacity="0.45"/>
<circle cx="623.8" cy="280.1" r="2.2" fill="#6f8444" opacity="0.45"/>
<circle cx="648.5" cy="290.4" r="2.0" fill="#b0c27a" opacity="0.45"/>
<circle cx="669.3" cy="295.7" r="1.3" fill="#a3b86a" opacity="0.45"/>
<circle cx="727.4" cy="267.9" r="2.1" fill="#6f8444" opacity="0.45"/>
<circle cx="718.1" cy="284.2" r="1.0" fill="#b0c27a" opacity="0.45"/>
<circle cx="744.6" cy="283.3" r="1.3" fill="#6f8444" opacity="0.45"/>
<circle cx="656.5" cy="297.0" r="1.7" fill="#a3b86a" opacity="0.45"/>
<circle cx="772.6" cy="277.9" r="1.4" fill="#a3b86a" opacity="0.45"/>
<circle cx="781.1" cy="267.3" r="2.0" fill="#b0c27a" opacity="0.45"/>
<circle cx="654.8" cy="270.9" r="1.1" fill="#5b7035" opacity="0.45"/>
<circle cx="634.1" cy="291.4" r="2.0" fill="#6f8444" opacity="0.45"/>
<circle cx="639.1" cy="290.6" r="1.1" fill="#6f8444" opacity="0.45"/>
<circle cx="723.2" cy="279.8" r="1.3" fill="#a3b86a" opacity="0.45"/>
<circle cx="779.8" cy="279.4" r="1.5" fill="#6f8444" opacity="0.45"/>
<circle cx="779.5" cy="286.5" r="1.5" fill="#6f8444" opacity="0.45"/>
<circle cx="649.2" cy="288.1" r="2.1" fill="#6f8444" opacity="0.45"/>
<circle cx="664.5" cy="278.0" r="1.2" fill="#6f8444" opacity="0.45"/>
<circle cx="740.3" cy="275.2" r="1.1" fill="#5b7035" opacity="0.45"/>
<circle cx="767.9" cy="288.3" r="1.3" fill="#6f8444" opacity="0.45"/>
<circle cx="673.6" cy="265.9" r="1.7" fill="#6f8444" opacity="0.45"/>
<circle cx="688.6" cy="281.0" r="1.1" fill="#6f8444" opacity="0.45"/>
<circle cx="639.3" cy="269.3" r="1.5" fill="#b0c27a" opacity="0.45"/>
<circle cx="767.9" cy="283.3" r="1.1" fill="#6f8444" opacity="0.45"/>
<circle cx="641.3" cy="290.9" r="2.0" fill="#5b7035" opacity="0.45"/>
<circle cx="712.1" cy="275.5" r="1.6" fill="#a3b86a" opacity="0.45"/>
<circle cx="760.8" cy="281.4" r="2.1" fill="#6f8444" opacity="0.45"/>
<circle cx="655.0" cy="277.2" r="1.6" fill="#a3b86a" opacity="0.45"/>
<circle cx="727.2" cy="283.8" r="1.4" fill="#5b7035" opacity="0.45"/>
<circle cx="645.2" cy="278.2" r="2.2" fill="#6f8444" opacity="0.45"/>
<circle cx="671.9" cy="269.3" r="1.8" fill="#5b7035" opacity="0.45"/>
<circle cx="753.1" cy="281.1" r="2.2" fill="#b0c27a" opacity="0.45"/>
<circle cx="694.3" cy="294.8" r="1.6" fill="#a3b86a" opacity="0.45"/>
<circle cx="727.5" cy="289.1" r="1.8" fill="#6f8444" opacity="0.45"/>
<circle cx="661.6" cy="293.0" r="1.7" fill="#5b7035" opacity="0.45"/>
<circle cx="722.7" cy="274.7" r="1.3" fill="#b0c27a" opacity="0.45"/>
<circle cx="712.1" cy="275.9" r="1.3" fill="#6f8444" opacity="0.45"/>
<circle cx="635.9" cy="272.3" r="1.9" fill="#b0c27a" opacity="0.45"/>
<circle cx="637.7" cy="289.3" r="1.1" fill="#b0c27a" opacity="0.45"/>
<circle cx="691.8" cy="278.9" r="1.1" fill="#b0c27a" opacity="0.45"/>
<circle cx="671.5" cy="268.6" r="1.9" fill="#5b7035" opacity="0.45"/>
<circle cx="685.3" cy="280.4" r="1.3" fill="#b0c27a" opacity="0.45"/>
<circle cx="673.4" cy="278.6" r="1.2" fill="#a3b86a" opacity="0.45"/>
<circle cx="692.0" cy="274.2" r="2.1" fill="#6f8444" opacity="0.45"/>
<circle cx="644.3" cy="294.4" r="1.4" fill="#5b7035" opacity="0.45"/>
<circle cx="734.3" cy="287.8" r="1.4" fill="#b0c27a" opacity="0.45"/>
<circle cx="731.7" cy="288.6" r="1.8" fill="#5b7035" opacity="0.45"/>
<circle cx="697.9" cy="277.9" r="1.5" fill="#5b7035" opacity="0.45"/>
<circle cx="734.5" cy="274.1" r="1.1" fill="#5b7035" opacity="0.45"/>
<circle cx="672.5" cy="267.9" r="1.1" fill="#6f8444" opacity="0.45"/>
<circle cx="648.1" cy="292.5" r="1.5" fill="#a3b86a" opacity="0.45"/>
<circle cx="768.6" cy="277.5" r="1.1" fill="#5b7035" opacity="0.45"/>
<circle cx="629.6" cy="291.7" r="1.0" fill="#6f8444" opacity="0.45"/>
<circle cx="686.4" cy="278.3" r="2.1" fill="#b0c27a" opacity="0.45"/>
<circle cx="659.6" cy="291.5" r="1.9" fill="#b0c27a" opacity="0.45"/>
<circle cx="645.7" cy="270.7" r="2.2" fill="#5b7035" opacity="0.45"/>
<circle cx="759.3" cy="280.5" r="1.6" fill="#5b7035" opacity="0.45"/>
<circle cx="621.8" cy="290.4" r="2.1" fill="#a3b86a" opacity="0.45"/>
<circle cx="677.6" cy="286.6" r="1.3" fill="#b0c27a" opacity="0.45"/>
<circle cx="742.1" cy="286.6" r="1.9" fill="#a3b86a" opacity="0.45"/>
<circle cx="743.3" cy="294.0" r="1.9" fill="#6f8444" opacity="0.45"/>
<circle cx="752.9" cy="281.4" r="1.1" fill="#a3b86a" opacity="0.45"/>
<circle cx="643.5" cy="293.1" r="1.9" fill="#b0c27a" opacity="0.45"/>
<circle cx="689.5" cy="268.1" r="1.2" fill="#6f8444" opacity="0.45"/>
<circle cx="758.4" cy="273.8" r="2.0" fill="#a3b86a" opacity="0.45"/>
<circle cx="760.1" cy="283.8" r="2.0" fill="#6f8444" opacity="0.45"/>
<circle cx="734.6" cy="280.7" r="1.0" fill="#a3b86a" opacity="0.45"/>
<circle cx="671.0" cy="281.4" r="1.9" fill="#5b7035" opacity="0.45"/>
<circle cx="714.2" cy="293.4" r="1.3" fill="#5b7035" opacity="0.45"/>
<circle cx="673.9" cy="265.0" r="2.1" fill="#a3b86a" opacity="0.45"/>
<circle cx="763.6" cy="275.8" r="1.5" fill="#6f8444" opacity="0.45"/>
<circle cx="739.6" cy="277.5" r="1.1" fill="#5b7035" opacity="0.45"/>
<circle cx="775.3" cy="296.8" r="1.1" fill="#a3b86a" opacity="0.45"/>
<circle cx="717.1" cy="279.8" r="1.8" fill="#a3b86a" opacity="0.45"/>
<circle cx="767.1" cy="277.4" r="1.9" fill="#6f8444" opacity="0.45"/>
<circle cx="712.9" cy="269.4" r="1.7" fill="#5b7035" opacity="0.45"/>
<circle cx="672.2" cy="293.8" r="1.3" fill="#6f8444" opacity="0.45"/>
<circle cx="687.7" cy="284.1" r="1.0" fill="#b0c27a" opacity="0.45"/>
<circle cx="719.3" cy="288.1" r="1.6" fill="#a3b86a" opacity="0.45"/>
<circle cx="716.1" cy="263.5" r="1.7" fill="#b0c27a" opacity="0.45"/>
<circle cx="642.5" cy="269.1" r="1.4" fill="#b0c27a" opacity="0.45"/>
<circle cx="742.8" cy="281.9" r="1.1" fill="#5b7035" opacity="0.45"/>
<circle cx="732.9" cy="274.3" r="1.7" fill="#b0c27a" opacity="0.45"/>
<circle cx="761.5" cy="280.0" r="2.1" fill="#5b7035" opacity="0.45"/>
<circle cx="695.3" cy="278.7" r="1.9" fill="#6f8444" opacity="0.45"/>
<circle cx="775.6" cy="286.2" r="1.8" fill="#6f8444" opacity="0.45"/>
<circle cx="670.3" cy="273.1" r="1.4" fill="#6f8444" opacity="0.45"/>
<circle cx="750.7" cy="292.8" r="1.9" fill="#5b7035" opacity="0.45"/>
<circle cx="672.6" cy="280.0" r="2.0" fill="#a3b86a" opacity="0.45"/>
<circle cx="666.7" cy="278.3" r="2.1" fill="#a3b86a" opacity="0.45"/>
<circle cx="680.7" cy="285.6" r="1.7" fill="#6f8444" opacity="0.45"/>
<circle cx="678.1" cy="269.9" r="1.4" fill="#6f8444" opacity="0.45"/>
<circle cx="639.0" cy="289.0" r="1.7" fill="#b0c27a" opacity="0.45"/>
<circle cx="701.6" cy="267.3" r="1.8" fill="#5b7035" opacity="0.45"/>
<circle cx="739.1" cy="279.1" r="2.1" fill="#b0c27a" opacity="0.45"/>
<circle cx="652.4" cy="266.6" r="1.5" fill="#a3b86a" opacity="0.45"/>
<circle cx="693.9" cy="283.6" r="2.1" fill="#b0c27a" opacity="0.45"/>
<circle cx="720.9" cy="289.8" r="1.3" fill="#a3b86a" opacity="0.45"/>
<circle cx="722.4" cy="269.0" r="1.3" fill="#5b7035" opacity="0.45"/>
<circle cx="726.9" cy="278.3" r="1.6" fill="#b0c27a" opacity="0.45"/>
<circle cx="712.2" cy="272.9" r="1.7" fill="#a3b86a" opacity="0.45"/>
<circle cx="772.7" cy="283.4" r="1.6" fill="#6f8444" opacity="0.45"/>
<circle cx="625.3" cy="265.6" r="1.7" fill="#a3b86a" opacity="0.45"/>
<circle cx="741.1" cy="283.3" r="1.3" fill="#b0c27a" opacity="0.45"/>
<circle cx="646.8" cy="267.5" r="1.9" fill="#a3b86a" opacity="0.45"/>
<circle cx="764.0" cy="283.0" r="1.9" fill="#6f8444" opacity="0.45"/>
<circle cx="651.6" cy="279.7" r="2.0" fill="#b0c27a" opacity="0.45"/>
<circle cx="688.1" cy="292.3" r="1.3" fill="#a3b86a" opacity="0.45"/>
<circle cx="692.9" cy="287.2" r="1.5" fill="#5b7035" opacity="0.45"/>
<circle cx="769.0" cy="273.3" r="1.0" fill="#b0c27a" opacity="0.45"/>
<circle cx="762.8" cy="272.3" r="1.7" fill="#a3b86a" opacity="0.45"/>
<circle cx="621.8" cy="293.5" r="1.9" fill="#5b7035" opacity="0.45"/>
<circle cx="764.2" cy="290.9" r="1.0" fill="#5b7035" opacity="0.45"/>
<circle cx="670.0" cy="263.9" r="1.2" fill="#6f8444" opacity="0.45"/>
<circle cx="637.2" cy="288.8" r="2.2" fill="#5b7035" opacity="0.45"/>
<circle cx="699.9" cy="269.9" r="2.0" fill="#b0c27a" opacity="0.45"/>
<circle cx="751.6" cy="294.5" r="2.0" fill="#a3b86a" opacity="0.45"/>
<circle cx="703.7" cy="264.4" r="1.6" fill="#a3b86a" opacity="0.45"/>
<circle cx="714.9" cy="278.8" r="1.5" fill="#b0c27a" opacity="0.45"/>
<circle cx="758.6" cy="290.1" r="1.3" fill="#6f8444" opacity="0.45"/>
<circle cx="642.6" cy="288.3" r="1.2" fill="#6f8444" opacity="0.45"/>
<circle cx="683.5" cy="294.7" r="1.6" fill="#b0c27a" opacity="0.45"/>
<circle cx="672.5" cy="280.7" r="1.7" fill="#5b7035" opacity="0.45"/>
<circle cx="738.0" cy="276.6" r="1.6" fill="#6f8444" opacity="0.45"/>
<circle cx="734.8" cy="266.8" r="1.1" fill="#a3b86a" opacity="0.45"/>
<circle cx="673.4" cy="273.4" r="2.0" fill="#6f8444" opacity="0.45"/>
<circle cx="773.7" cy="292.5" r="1.4" fill="#a3b86a" opacity="0.45"/>
<circle cx="703.0" cy="273.4" r="1.8" fill="#6f8444" opacity="0.45"/>
<circle cx="748.1" cy="278.3" r="2.0" fill="#b0c27a" opacity="0.45"/>
<circle cx="777.0" cy="270.4" r="2.1" fill="#b0c27a" opacity="0.45"/>
<circle cx="749.7" cy="268.6" r="1.7" fill="#6f8444" opacity="0.45"/>
<circle cx="771.6" cy="286.6" r="2.0" fill="#6f8444" opacity="0.45"/>
<circle cx="631.1" cy="288.4" r="1.5" fill="#5b7035" opacity="0.45"/>
<circle cx="697.6" cy="291.9" r="1.2" fill="#b0c27a" opacity="0.45"/>
<circle cx="647.8" cy="264.1" r="1.1" fill="#a3b86a" opacity="0.45"/>
<circle cx="702.9" cy="265.7" r="2.1" fill="#a3b86a" opacity="0.45"/>
<circle cx="765.0" cy="281.3" r="1.6" fill="#6f8444" opacity="0.45"/>
<circle cx="649.0" cy="281.6" r="1.5" fill="#a3b86a" opacity="0.45"/>
<circle cx="624.0" cy="272.2" r="2.0" fill="#5b7035" opacity="0.45"/>
<circle cx="671.4" cy="268.2" r="2.2" fill="#5b7035" opacity="0.45"/>
<circle cx="697.5" cy="286.3" r="1.9" fill="#5b7035" opacity="0.45"/>
<circle cx="666.8" cy="269.7" r="1.0" fill="#b0c27a" opacity="0.45"/>
<circle cx="633.6" cy="281.1" r="1.1" fill="#b0c27a" opacity="0.45"/>
<circle cx="777.9" cy="264.8" r="1.7" fill="#5b7035" opacity="0.45"/>
<circle cx="666.8" cy="293.9" r="1.2" fill="#b0c27a" opacity="0.45"/>
<circle cx="634.4" cy="291.3" r="1.7" fill="#b0c27a" opacity="0.45"/>
<circle cx="671.6" cy="264.0" r="1.8" fill="#5b7035" opacity="0.45"/>
<circle cx="733.0" cy="277.3" r="1.4" fill="#5b7035" opacity="0.45"/>
<circle cx="635.8" cy="269.5" r="2.0" fill="#b0c27a" opacity="0.45"/>
<circle cx="672.0" cy="271.7" r="1.1" fill="#6f8444" opacity="0.45"/>
<circle cx="657.9" cy="271.2" r="1.1" fill="#b0c27a" opacity="0.45"/>
<circle cx="639.0" cy="281.0" r="2.1" fill="#5b7035" opacity="0.45"/>
<circle cx="639.5" cy="273.2" r="2.0" fill="#5b7035" opacity="0.45"/>
<circle cx="684.6" cy="288.2" r="2.0" fill="#b0c27a" opacity="0.45"/>
<circle cx="707.5" cy="281.2" r="1.9" fill="#6f8444" opacity="0.45"/>
<circle cx="855.7" cy="310.3" r="2.1" fill="#a3b86a" opacity="0.45"/>
<circle cx="288.5" cy="309.5" r="1.0" fill="#6f8444" opacity="0.45"/>
<circle cx="620.5" cy="309.8" r="2.0" fill="#a3b86a" opacity="0.45"/>
<circle cx="812.7" cy="325.3" r="1.4" fill="#b0c27a" opacity="0.45"/>
<circle cx="746.2" cy="316.3" r="1.6" fill="#6f8444" opacity="0.45"/>
<circle cx="404.9" cy="310.5" r="1.8" fill="#5b7035" opacity="0.45"/>
<circle cx="519.2" cy="310.8" r="1.0" fill="#a3b86a" opacity="0.45"/>
<circle cx="623.0" cy="309.1" r="1.8" fill="#5b7035" opacity="0.45"/>
<circle cx="385.5" cy="325.0" r="1.2" fill="#a3b86a" opacity="0.45"/>
<circle cx="505.8" cy="310.3" r="1.7" fill="#b0c27a" opacity="0.45"/>
<circle cx="703.6" cy="321.0" r="1.3" fill="#a3b86a" opacity="0.45"/>
<circle cx="725.2" cy="321.8" r="2.2" fill="#b0c27a" opacity="0.45"/>
<circle cx="694.1" cy="324.6" r="2.1" fill="#a3b86a" opacity="0.45"/>
<circle cx="856.3" cy="314.1" r="1.9" fill="#a3b86a" opacity="0.45"/>
<circle cx="775.0" cy="309.3" r="2.1" fill="#5b7035" opacity="0.45"/>
<circle cx="574.3" cy="312.6" r="2.1" fill="#5b7035" opacity="0.45"/>
<circle cx="347.6" cy="318.0" r="1.2" fill="#a3b86a" opacity="0.45"/>
<circle cx="392.8" cy="323.6" r="1.9" fill="#b0c27a" opacity="0.45"/>
<circle cx="707.1" cy="312.2" r="2.2" fill="#b0c27a" opacity="0.45"/>
<circle cx="433.5" cy="313.5" r="2.1" fill="#5b7035" opacity="0.45"/>
<circle cx="352.6" cy="313.2" r="1.7" fill="#6f8444" opacity="0.45"/>
<circle cx="336.0" cy="311.8" r="1.3" fill="#5b7035" opacity="0.45"/>
<circle cx="675.1" cy="324.1" r="1.2" fill="#b0c27a" opacity="0.45"/>
<circle cx="490.5" cy="323.0" r="1.5" fill="#a3b86a" opacity="0.45"/>
<circle cx="271.3" cy="320.6" r="1.1" fill="#6f8444" opacity="0.45"/>
<circle cx="526.7" cy="320.0" r="1.6" fill="#a3b86a" opacity="0.45"/>
<circle cx="385.7" cy="324.0" r="2.1" fill="#a3b86a" opacity="0.45"/>
<circle cx="345.6" cy="313.2" r="1.7" fill="#a3b86a" opacity="0.45"/>
<circle cx="398.0" cy="318.7" r="1.9" fill="#b0c27a" opacity="0.45"/>
<circle cx="574.3" cy="319.4" r="1.6" fill="#5b7035" opacity="0.45"/>
<circle cx="423.5" cy="315.7" r="1.8" fill="#6f8444" opacity="0.45"/>
<circle cx="615.0" cy="325.5" r="1.4" fill="#6f8444" opacity="0.45"/>
<circle cx="383.1" cy="311.7" r="1.4" fill="#5b7035" opacity="0.45"/>
<circle cx="536.5" cy="314.3" r="1.4" fill="#6f8444" opacity="0.45"/>
<circle cx="537.8" cy="325.9" r="1.8" fill="#5b7035" opacity="0.45"/>
<circle cx="521.6" cy="319.3" r="1.3" fill="#b0c27a" opacity="0.45"/>
<circle cx="653.1" cy="321.9" r="1.3" fill="#6f8444" opacity="0.45"/>
<circle cx="288.2" cy="312.5" r="1.4" fill="#5b7035" opacity="0.45"/>
<circle cx="631.3" cy="310.0" r="1.5" fill="#a3b86a" opacity="0.45"/>
<circle cx="581.6" cy="318.5" r="1.2" fill="#5b7035" opacity="0.45"/>
<circle cx="523.1" cy="316.9" r="2.2" fill="#6f8444" opacity="0.45"/>
<circle cx="642.9" cy="312.8" r="1.5" fill="#a3b86a" opacity="0.45"/>
<circle cx="838.1" cy="318.7" r="2.1" fill="#6f8444" opacity="0.45"/>
<circle cx="296.5" cy="308.5" r="2.1" fill="#a3b86a" opacity="0.45"/>
<circle cx="328.1" cy="321.9" r="1.0" fill="#b0c27a" opacity="0.45"/>
<circle cx="345.1" cy="311.6" r="1.9" fill="#b0c27a" opacity="0.45"/>
<circle cx="618.7" cy="312.7" r="1.4" fill="#5b7035" opacity="0.45"/>
<circle cx="403.5" cy="322.2" r="2.1" fill="#b0c27a" opacity="0.45"/>
<circle cx="823.1" cy="318.3" r="1.3" fill="#a3b86a" opacity="0.45"/>
<circle cx="297.6" cy="314.5" r="1.5" fill="#6f8444" opacity="0.45"/>
<circle cx="848.6" cy="324.2" r="2.2" fill="#b0c27a" opacity="0.45"/>
<circle cx="720.2" cy="314.5" r="1.8" fill="#6f8444" opacity="0.45"/>
<circle cx="694.7" cy="318.7" r="1.7" fill="#5b7035" opacity="0.45"/>
<circle cx="666.2" cy="309.3" r="1.3" fill="#a3b86a" opacity="0.45"/>
<circle cx="417.9" cy="322.3" r="1.7" fill="#a3b86a" opacity="0.45"/>
<circle cx="476.7" cy="323.9" r="2.1" fill="#b0c27a" opacity="0.45"/>
<circle cx="365.0" cy="320.8" r="1.2" fill="#b0c27a" opacity="0.45"/>
<circle cx="681.3" cy="323.6" r="1.7" fill="#a3b86a" opacity="0.45"/>
<circle cx="578.0" cy="319.6" r="1.9" fill="#6f8444" opacity="0.45"/>
<circle cx="315.8" cy="310.3" r="1.9" fill="#a3b86a" opacity="0.45"/>
<circle cx="293.2" cy="309.1" r="1.2" fill="#a3b86a" opacity="0.45"/>
<circle cx="688.5" cy="315.7" r="2.1" fill="#5b7035" opacity="0.45"/>
<circle cx="551.3" cy="322.8" r="1.4" fill="#5b7035" opacity="0.45"/>
<circle cx="613.7" cy="324.3" r="1.9" fill="#5b7035" opacity="0.45"/>
<circle cx="682.9" cy="313.3" r="1.1" fill="#b0c27a" opacity="0.45"/>
<circle cx="548.8" cy="314.4" r="1.4" fill="#a3b86a" opacity="0.45"/>
<circle cx="358.7" cy="316.6" r="1.2" fill="#5b7035" opacity="0.45"/>
<circle cx="559.7" cy="315.4" r="1.4" fill="#a3b86a" opacity="0.45"/>
<circle cx="404.1" cy="317.5" r="2.2" fill="#5b7035" opacity="0.45"/>
<circle cx="564.7" cy="323.1" r="1.4" fill="#6f8444" opacity="0.45"/>
<circle cx="792.9" cy="312.2" r="1.6" fill="#a3b86a" opacity="0.45"/>
<circle cx="397.2" cy="316.2" r="1.7" fill="#6f8444" opacity="0.45"/>
<circle cx="431.0" cy="312.4" r="1.5" fill="#5b7035" opacity="0.45"/>
<circle cx="502.2" cy="308.9" r="1.6" fill="#5b7035" opacity="0.45"/>
<circle cx="371.0" cy="318.4" r="1.1" fill="#6f8444" opacity="0.45"/>
<circle cx="604.3" cy="308.8" r="1.7" fill="#6f8444" opacity="0.45"/>
<circle cx="600.9" cy="320.0" r="1.4" fill="#a3b86a" opacity="0.45"/>
<circle cx="429.7" cy="308.9" r="1.8" fill="#a3b86a" opacity="0.45"/>
<circle cx="568.0" cy="313.3" r="2.2" fill="#6f8444" opacity="0.45"/>
<circle cx="842.9" cy="321.3" r="1.0" fill="#6f8444" opacity="0.45"/>
<circle cx="694.2" cy="311.7" r="2.2" fill="#a3b86a" opacity="0.45"/>
<circle cx="561.3" cy="317.1" r="1.9" fill="#b0c27a" opacity="0.45"/>
<circle cx="680.0" cy="311.1" r="1.0" fill="#5b7035" opacity="0.45"/>
<circle cx="857.4" cy="318.5" r="1.1" fill="#5b7035" opacity="0.45"/>
<circle cx="617.8" cy="323.6" r="1.9" fill="#a3b86a" opacity="0.45"/>
<circle cx="513.1" cy="325.2" r="1.4" fill="#a3b86a" opacity="0.45"/>
<circle cx="444.4" cy="320.6" r="1.3" fill="#b0c27a" opacity="0.45"/>
<circle cx="787.5" cy="324.4" r="1.9" fill="#5b7035" opacity="0.45"/>
<circle cx="513.8" cy="324.7" r="1.2" fill="#a3b86a" opacity="0.45"/>
<circle cx="369.8" cy="325.9" r="1.1" fill="#5b7035" opacity="0.45"/>
<circle cx="651.2" cy="321.3" r="2.0" fill="#5b7035" opacity="0.45"/>
<circle cx="512.6" cy="318.0" r="1.3" fill="#6f8444" opacity="0.45"/>
<circle cx="365.3" cy="311.5" r="2.2" fill="#5b7035" opacity="0.45"/>
<circle cx="517.6" cy="324.8" r="1.5" fill="#a3b86a" opacity="0.45"/>
<circle cx="812.4" cy="323.9" r="1.1" fill="#b0c27a" opacity="0.45"/>
<circle cx="655.4" cy="314.1" r="1.0" fill="#5b7035" opacity="0.45"/>
<circle cx="583.3" cy="313.5" r="1.3" fill="#b0c27a" opacity="0.45"/>
<circle cx="567.7" cy="318.8" r="1.2" fill="#5b7035" opacity="0.45"/>
<circle cx="656.1" cy="322.2" r="1.5" fill="#b0c27a" opacity="0.45"/>
<circle cx="539.9" cy="312.2" r="1.5" fill="#b0c27a" opacity="0.45"/>
<circle cx="353.8" cy="326.0" r="2.1" fill="#b0c27a" opacity="0.45"/>
<circle cx="391.6" cy="311.1" r="1.1" fill="#a3b86a" opacity="0.45"/>
<circle cx="853.2" cy="311.1" r="1.4" fill="#5b7035" opacity="0.45"/>
<circle cx="663.2" cy="317.9" r="1.9" fill="#a3b86a" opacity="0.45"/>
<circle cx="559.5" cy="312.8" r="1.5" fill="#6f8444" opacity="0.45"/>
<circle cx="834.7" cy="317.1" r="1.3" fill="#a3b86a" opacity="0.45"/>
<circle cx="783.3" cy="310.4" r="1.8" fill="#6f8444" opacity="0.45"/>
<circle cx="427.0" cy="325.5" r="1.7" fill="#b0c27a" opacity="0.45"/>
<circle cx="784.3" cy="312.0" r="1.4" fill="#a3b86a" opacity="0.45"/>
<circle cx="334.2" cy="318.8" r="1.0" fill="#a3b86a" opacity="0.45"/>
<circle cx="395.4" cy="315.9" r="1.2" fill="#a3b86a" opacity="0.45"/>
<circle cx="352.9" cy="315.1" r="1.4" fill="#6f8444" opacity="0.45"/>
<circle cx="341.0" cy="320.9" r="1.4" fill="#b0c27a" opacity="0.45"/>
<circle cx="547.2" cy="315.0" r="1.2" fill="#a3b86a" opacity="0.45"/>
<circle cx="625.9" cy="308.4" r="1.5" fill="#a3b86a" opacity="0.45"/>
<circle cx="333.0" cy="310.0" r="2.0" fill="#5b7035" opacity="0.45"/>
<circle cx="558.2" cy="312.3" r="2.0" fill="#6f8444" opacity="0.45"/>
<circle cx="275.4" cy="309.0" r="1.9" fill="#b0c27a" opacity="0.45"/>
<circle cx="644.4" cy="313.4" r="2.1" fill="#6f8444" opacity="0.45"/>
<circle cx="288.4" cy="311.5" r="1.8" fill="#b0c27a" opacity="0.45"/>
<circle cx="401.0" cy="314.1" r="2.2" fill="#a3b86a" opacity="0.45"/>
<circle cx="481.1" cy="320.6" r="2.2" fill="#5b7035" opacity="0.45"/>
<circle cx="513.9" cy="324.8" r="1.7" fill="#6f8444" opacity="0.45"/>
<circle cx="802.2" cy="309.0" r="1.1" fill="#6f8444" opacity="0.45"/>
<circle cx="275.5" cy="322.0" r="1.7" fill="#5b7035" opacity="0.45"/>
<circle cx="501.2" cy="310.5" r="2.0" fill="#5b7035" opacity="0.45"/>
<circle cx="470.7" cy="324.7" r="1.9" fill="#6f8444" opacity="0.45"/>
<circle cx="403.0" cy="317.8" r="1.4" fill="#b0c27a" opacity="0.45"/>
<circle cx="340.5" cy="308.9" r="1.6" fill="#5b7035" opacity="0.45"/>
<circle cx="439.0" cy="322.9" r="1.2" fill="#6f8444" opacity="0.45"/>
<circle cx="626.1" cy="318.7" r="1.7" fill="#5b7035" opacity="0.45"/>
<circle cx="389.5" cy="312.9" r="1.8" fill="#b0c27a" opacity="0.45"/>
<circle cx="326.9" cy="308.9" r="1.5" fill="#b0c27a" opacity="0.45"/>
<circle cx="501.2" cy="309.3" r="1.4" fill="#6f8444" opacity="0.45"/>
<circle cx="756.3" cy="308.5" r="1.2" fill="#5b7035" opacity="0.45"/>
<circle cx="814.4" cy="310.4" r="1.6" fill="#6f8444" opacity="0.45"/>
<circle cx="292.3" cy="313.6" r="1.9" fill="#6f8444" opacity="0.45"/>
<circle cx="336.6" cy="316.2" r="1.3" fill="#a3b86a" opacity="0.45"/>
<circle cx="373.9" cy="324.7" r="1.4" fill="#a3b86a" opacity="0.45"/>
<circle cx="584.0" cy="315.3" r="1.4" fill="#b0c27a" opacity="0.45"/>
<circle cx="768.4" cy="310.7" r="1.6" fill="#b0c27a" opacity="0.45"/>
<circle cx="448.1" cy="309.0" r="2.2" fill="#5b7035" opacity="0.45"/>
<circle cx="829.7" cy="318.7" r="2.1" fill="#6f8444" opacity="0.45"/>
<circle cx="759.9" cy="325.4" r="1.3" fill="#6f8444" opacity="0.45"/>
<circle cx="310.7" cy="311.9" r="1.8" fill="#5b7035" opacity="0.45"/>
<circle cx="341.9" cy="313.6" r="1.6" fill="#b0c27a" opacity="0.45"/>
<circle cx="530.3" cy="323.1" r="1.8" fill="#6f8444" opacity="0.45"/>
<circle cx="643.5" cy="309.7" r="1.6" fill="#b0c27a" opacity="0.45"/>
<circle cx="669.8" cy="310.5" r="1.0" fill="#6f8444" opacity="0.45"/>
<circle cx="487.3" cy="322.2" r="1.3" fill="#6f8444" opacity="0.45"/>
<circle cx="321.4" cy="319.2" r="1.4" fill="#b0c27a" opacity="0.45"/>
<circle cx="716.8" cy="323.1" r="1.6" fill="#b0c27a" opacity="0.45"/>
<circle cx="552.3" cy="310.1" r="1.7" fill="#6f8444" opacity="0.45"/>
<circle cx="792.4" cy="322.8" r="2.0" fill="#b0c27a" opacity="0.45"/>
<circle cx="342.4" cy="314.6" r="1.1" fill="#b0c27a" opacity="0.45"/>
<circle cx="645.2" cy="319.1" r="1.9" fill="#a3b86a" opacity="0.45"/>
<circle cx="389.1" cy="318.4" r="1.7" fill="#5b7035" opacity="0.45"/>
<circle cx="691.8" cy="315.3" r="1.7" fill="#a3b86a" opacity="0.45"/>
<circle cx="815.2" cy="313.0" r="1.5" fill="#5b7035" opacity="0.45"/>
<circle cx="844.7" cy="317.1" r="1.6" fill="#b0c27a" opacity="0.45"/>
<circle cx="400.1" cy="316.0" r="1.3" fill="#6f8444" opacity="0.45"/>
<circle cx="566.8" cy="322.3" r="1.9" fill="#5b7035" opacity="0.45"/>
<circle cx="538.6" cy="324.3" r="1.5" fill="#a3b86a" opacity="0.45"/>
<circle cx="360.5" cy="308.3" r="1.4" fill="#5b7035" opacity="0.45"/>
<circle cx="334.7" cy="310.2" r="1.7" fill="#5b7035" opacity="0.45"/>
<circle cx="394.9" cy="317.0" r="1.9" fill="#5b7035" opacity="0.45"/>
<circle cx="798.6" cy="310.4" r="1.6" fill="#b0c27a" opacity="0.45"/>
<circle cx="650.0" cy="319.8" r="1.9" fill="#6f8444" opacity="0.45"/>
<circle cx="303.5" cy="310.7" r="1.6" fill="#6f8444" opacity="0.45"/>
<circle cx="623.4" cy="311.8" r="1.2" fill="#a3b86a" opacity="0.45"/>
<circle cx="366.1" cy="323.2" r="1.8" fill="#a3b86a" opacity="0.45"/>
<circle cx="734.6" cy="324.6" r="1.5" fill="#6f8444" opacity="0.45"/>
<circle cx="805.0" cy="323.1" r="1.9" fill="#6f8444" opacity="0.45"/>
<circle cx="540.3" cy="323.5" r="1.5" fill="#6f8444" opacity="0.45"/>
<circle cx="617.4" cy="314.9" r="2.1" fill="#6f8444" opacity="0.45"/>
<circle cx="676.9" cy="324.5" r="1.7" fill="#6f8444" opacity="0.45"/>
<circle cx="551.0" cy="323.6" r="1.2" fill="#b0c27a" opacity="0.45"/>
<circle cx="723.2" cy="311.6" r="1.2" fill="#6f8444" opacity="0.45"/>
<circle cx="627.7" cy="316.7" r="1.7" fill="#5b7035" opacity="0.45"/>
<circle cx="548.3" cy="315.5" r="1.9" fill="#5b7035" opacity="0.45"/>
<circle cx="477.0" cy="321.9" r="1.6" fill="#5b7035" opacity="0.45"/>
<circle cx="471.3" cy="311.8" r="1.4" fill="#5b7035" opacity="0.45"/>
<circle cx="743.1" cy="316.5" r="2.0" fill="#a3b86a" opacity="0.45"/>
<circle cx="397.3" cy="320.4" r="2.1" fill="#a3b86a" opacity="0.45"/>
<circle cx="431.0" cy="314.5" r="2.1" fill="#6f8444" opacity="0.45"/>
<circle cx="386.9" cy="319.6" r="1.1" fill="#5b7035" opacity="0.45"/>
<circle cx="720.6" cy="313.7" r="2.0" fill="#b0c27a" opacity="0.45"/>
<circle cx="580.8" cy="325.3" r="1.1" fill="#b0c27a" opacity="0.45"/>
<circle cx="627.2" cy="321.0" r="1.2" fill="#a3b86a" opacity="0.45"/>
<circle cx="771.2" cy="322.6" r="2.0" fill="#a3b86a" opacity="0.45"/>
<circle cx="567.6" cy="316.5" r="1.7" fill="#b0c27a" opacity="0.45"/>
<circle cx="707.6" cy="310.0" r="1.0" fill="#b0c27a" opacity="0.45"/>
<circle cx="335.5" cy="322.4" r="2.2" fill="#b0c27a" opacity="0.45"/>
<circle cx="474.2" cy="318.4" r="1.7" fill="#b0c27a" opacity="0.45"/>
<circle cx="652.3" cy="319.0" r="1.6" fill="#6f8444" opacity="0.45"/>
<circle cx="342.6" cy="308.0" r="1.3" fill="#b0c27a" opacity="0.45"/>
<circle cx="559.7" cy="319.7" r="1.8" fill="#6f8444" opacity="0.45"/>
<circle cx="320.2" cy="311.5" r="1.4" fill="#5b7035" opacity="0.45"/>
<circle cx="650.8" cy="315.3" r="1.6" fill="#b0c27a" opacity="0.45"/>
<circle cx="706.6" cy="309.1" r="1.1" fill="#5b7035" opacity="0.45"/>
<circle cx="560.2" cy="309.7" r="2.0" fill="#6f8444" opacity="0.45"/>
<circle cx="711.2" cy="324.6" r="1.3" fill="#a3b86a" opacity="0.45"/>
<circle cx="788.9" cy="313.7" r="1.8" fill="#6f8444" opacity="0.45"/>
<circle cx="770.8" cy="312.0" r="1.2" fill="#6f8444" opacity="0.45"/>
<circle cx="653.1" cy="312.6" r="1.5" fill="#a3b86a" opacity="0.45"/>
<circle cx="333.3" cy="325.4" r="1.3" fill="#a3b86a" opacity="0.45"/>
<circle cx="621.0" cy="323.4" r="1.4" fill="#5b7035" opacity="0.45"/>
<circle cx="591.1" cy="313.9" r="1.1" fill="#5b7035" opacity="0.45"/>
<circle cx="448.5" cy="319.3" r="1.9" fill="#6f8444" opacity="0.45"/>
<circle cx="757.6" cy="323.8" r="2.1" fill="#6f8444" opacity="0.45"/>
<circle cx="326.7" cy="318.8" r="1.8" fill="#5b7035" opacity="0.45"/>
<circle cx="777.4" cy="310.3" r="1.2" fill="#6f8444" opacity="0.45"/>
<circle cx="430.5" cy="319.2" r="1.9" fill="#5b7035" opacity="0.45"/>
<circle cx="376.2" cy="313.9" r="1.8" fill="#5b7035" opacity="0.45"/>
<circle cx="511.7" cy="315.9" r="2.0" fill="#b0c27a" opacity="0.45"/>
<circle cx="490.0" cy="325.5" r="2.0" fill="#5b7035" opacity="0.45"/>
<circle cx="289.1" cy="315.4" r="2.0" fill="#b0c27a" opacity="0.45"/>
<circle cx="359.3" cy="315.6" r="1.7" fill="#a3b86a" opacity="0.45"/>
<circle cx="560.9" cy="316.3" r="1.0" fill="#5b7035" opacity="0.45"/>
<circle cx="612.0" cy="313.7" r="2.0" fill="#6f8444" opacity="0.45"/>
<circle cx="771.7" cy="321.6" r="1.4" fill="#5b7035" opacity="0.45"/>
<circle cx="549.1" cy="324.1" r="2.1" fill="#b0c27a" opacity="0.45"/>
<circle cx="675.5" cy="308.4" r="1.9" fill="#b0c27a" opacity="0.45"/>
<circle cx="309.0" cy="311.8" r="1.3" fill="#a3b86a" opacity="0.45"/>
<circle cx="438.7" cy="319.0" r="1.9" fill="#b0c27a" opacity="0.45"/>
<circle cx="617.5" cy="322.4" r="1.7" fill="#5b7035" opacity="0.45"/>
<circle cx="517.4" cy="323.6" r="2.1" fill="#6f8444" opacity="0.45"/>
<circle cx="629.7" cy="323.9" r="1.1" fill="#5b7035" opacity="0.45"/>
<circle cx="672.6" cy="321.4" r="1.4" fill="#5b7035" opacity="0.45"/>
<circle cx="615.5" cy="318.1" r="1.9" fill="#5b7035" opacity="0.45"/>
<circle cx="303.8" cy="320.9" r="1.9" fill="#6f8444" opacity="0.45"/>
<circle cx="714.6" cy="308.3" r="1.7" fill="#5b7035" opacity="0.45"/>
<circle cx="327.5" cy="317.3" r="1.8" fill="#5b7035" opacity="0.45"/>
<circle cx="829.9" cy="310.0" r="1.3" fill="#5b7035" opacity="0.45"/>
<circle cx="289.1" cy="315.9" r="1.1" fill="#a3b86a" opacity="0.45"/>
<circle cx="640.4" cy="309.9" r="1.2" fill="#5b7035" opacity="0.45"/>
<circle cx="385.4" cy="324.1" r="1.9" fill="#5b7035" opacity="0.45"/>
<circle cx="483.2" cy="318.1" r="2.2" fill="#b0c27a" opacity="0.45"/>
<circle cx="785.1" cy="323.8" r="1.5" fill="#6f8444" opacity="0.45"/>
<circle cx="743.7" cy="325.7" r="1.5" fill="#6f8444" opacity="0.45"/>
<circle cx="686.4" cy="311.7" r="2.2" fill="#a3b86a" opacity="0.45"/>
<circle cx="378.9" cy="311.0" r="1.3" fill="#b0c27a" opacity="0.45"/>
<circle cx="786.4" cy="322.5" r="1.3" fill="#a3b86a" opacity="0.45"/>
<circle cx="383.4" cy="310.2" r="1.5" fill="#b0c27a" opacity="0.45"/>
<circle cx="840.6" cy="322.4" r="1.6" fill="#a3b86a" opacity="0.45"/>
<circle cx="823.8" cy="321.5" r="1.7" fill="#5b7035" opacity="0.45"/>
<circle cx="295.5" cy="319.1" r="1.1" fill="#6f8444" opacity="0.45"/>
<circle cx="328.0" cy="313.0" r="1.9" fill="#b0c27a" opacity="0.45"/>
<circle cx="619.9" cy="316.1" r="2.0" fill="#5b7035" opacity="0.45"/>
<circle cx="845.8" cy="309.5" r="1.0" fill="#b0c27a" opacity="0.45"/>
<circle cx="569.1" cy="316.2" r="1.2" fill="#a3b86a" opacity="0.45"/>
<circle cx="323.1" cy="308.6" r="1.2" fill="#5b7035" opacity="0.45"/>
<circle cx="326.9" cy="308.5" r="1.6" fill="#5b7035" opacity="0.45"/>
<circle cx="425.2" cy="322.3" r="1.7" fill="#a3b86a" opacity="0.45"/>
<circle cx="709.3" cy="313.7" r="1.8" fill="#a3b86a" opacity="0.45"/>
<circle cx="698.2" cy="321.6" r="2.0" fill="#5b7035" opacity="0.45"/>
<circle cx="664.2" cy="318.0" r="1.4" fill="#6f8444" opacity="0.45"/>
<circle cx="286.4" cy="308.7" r="2.1" fill="#6f8444" opacity="0.45"/>
<circle cx="624.9" cy="311.1" r="1.3" fill="#6f8444" opacity="0.45"/>
<circle cx="389.6" cy="313.9" r="1.4" fill="#5b7035" opacity="0.45"/>
<circle cx="359.5" cy="315.9" r="2.2" fill="#a3b86a" opacity="0.45"/>
<circle cx="428.8" cy="320.7" r="1.8" fill="#5b7035" opacity="0.45"/>
<circle cx="467.2" cy="308.7" r="1.8" fill="#a3b86a" opacity="0.45"/>
<circle cx="378.5" cy="325.7" r="1.7" fill="#b0c27a" opacity="0.45"/>
<circle cx="718.4" cy="321.3" r="1.1" fill="#5b7035" opacity="0.45"/>
<circle cx="613.0" cy="321.4" r="2.0" fill="#b0c27a" opacity="0.45"/>
<circle cx="400.8" cy="325.7" r="2.1" fill="#6f8444" opacity="0.45"/>
<circle cx="488.9" cy="314.8" r="1.6" fill="#b0c27a" opacity="0.45"/>
<circle cx="350.1" cy="320.6" r="1.6" fill="#a3b86a" opacity="0.45"/>
<circle cx="451.3" cy="310.0" r="1.0" fill="#a3b86a" opacity="0.45"/>
<circle cx="751.4" cy="316.3" r="2.0" fill="#5b7035" opacity="0.45"/>
<circle cx="582.8" cy="319.5" r="2.1" fill="#5b7035" opacity="0.45"/>
<circle cx="491.2" cy="310.9" r="1.5" fill="#6f8444" opacity="0.45"/>
<circle cx="474.9" cy="312.7" r="1.2" fill="#b0c27a" opacity="0.45"/>
<circle cx="626.1" cy="314.0" r="1.2" fill="#a3b86a" opacity="0.45"/>
<circle cx="745.2" cy="320.5" r="1.4" fill="#5b7035" opacity="0.45"/>
<circle cx="775.5" cy="318.8" r="2.1" fill="#6f8444" opacity="0.45"/>
<circle cx="763.4" cy="325.5" r="1.6" fill="#b0c27a" opacity="0.45"/>
<circle cx="636.4" cy="317.2" r="2.0" fill="#6f8444" opacity="0.45"/>
<circle cx="808.9" cy="310.3" r="1.9" fill="#6f8444" opacity="0.45"/>
<circle cx="500.5" cy="309.5" r="2.2" fill="#6f8444" opacity="0.45"/>
<circle cx="457.6" cy="309.7" r="1.6" fill="#a3b86a" opacity="0.45"/>
<circle cx="731.6" cy="308.3" r="1.7" fill="#5b7035" opacity="0.45"/>
<circle cx="576.5" cy="312.3" r="2.1" fill="#5b7035" opacity="0.45"/>
<circle cx="318.4" cy="310.3" r="2.1" fill="#a3b86a" opacity="0.45"/>
<circle cx="725.0" cy="317.2" r="1.6" fill="#6f8444" opacity="0.45"/>
<circle cx="385.3" cy="319.7" r="1.7" fill="#5b7035" opacity="0.45"/>
<circle cx="333.5" cy="313.9" r="1.7" fill="#a3b86a" opacity="0.45"/>
<circle cx="512.4" cy="317.1" r="1.1" fill="#a3b86a" opacity="0.45"/>
<circle cx="698.9" cy="317.0" r="1.4" fill="#5b7035" opacity="0.45"/>
<circle cx="436.5" cy="316.6" r="1.9" fill="#a3b86a" opacity="0.45"/>
<circle cx="367.3" cy="317.8" r="2.0" fill="#6f8444" opacity="0.45"/>
<circle cx="642.6" cy="315.2" r="1.4" fill="#6f8444" opacity="0.45"/>
<circle cx="287.1" cy="321.3" r="1.1" fill="#5b7035" opacity="0.45"/>
<circle cx="364.2" cy="323.5" r="1.0" fill="#b0c27a" opacity="0.45"/>
<circle cx="667.5" cy="314.1" r="1.2" fill="#5b7035" opacity="0.45"/>
<circle cx="646.4" cy="324.6" r="2.0" fill="#a3b86a" opacity="0.45"/>
<circle cx="268.2" cy="315.8" r="1.6" fill="#b0c27a" opacity="0.45"/>
<circle cx="570.9" cy="323.8" r="1.3" fill="#6f8444" opacity="0.45"/>
<circle cx="732.0" cy="316.4" r="2.2" fill="#b0c27a" opacity="0.45"/>
<circle cx="489.6" cy="311.6" r="2.2" fill="#a3b86a" opacity="0.45"/>
<circle cx="763.0" cy="323.6" r="1.5" fill="#b0c27a" opacity="0.45"/>
<circle cx="501.1" cy="325.7" r="1.9" fill="#6f8444" opacity="0.45"/>
<circle cx="290.7" cy="310.4" r="1.3" fill="#5b7035" opacity="0.45"/>
<circle cx="717.5" cy="315.0" r="2.1" fill="#b0c27a" opacity="0.45"/>
<circle cx="780.7" cy="310.3" r="1.6" fill="#6f8444" opacity="0.45"/>
<circle cx="540.9" cy="321.3" r="1.7" fill="#5b7035" opacity="0.45"/>
<circle cx="398.1" cy="324.7" r="1.2" fill="#b0c27a" opacity="0.45"/>
<circle cx="347.0" cy="326.0" r="2.1" fill="#b0c27a" opacity="0.45"/>
<circle cx="527.1" cy="324.5" r="2.1" fill="#5b7035" opacity="0.45"/>
<circle cx="355.1" cy="322.9" r="1.2" fill="#5b7035" opacity="0.45"/>
<circle cx="425.6" cy="315.1" r="1.3" fill="#6f8444" opacity="0.45"/>
<circle cx="281.8" cy="316.2" r="1.8" fill="#5b7035" opacity="0.45"/>
<circle cx="372.1" cy="322.5" r="1.3" fill="#6f8444" opacity="0.45"/>
<circle cx="337.5" cy="309.6" r="1.5" fill="#5b7035" opacity="0.45"/>
<circle cx="674.4" cy="318.3" r="1.8" fill="#b0c27a" opacity="0.45"/>
<circle cx="354.6" cy="326.0" r="1.8" fill="#a3b86a" opacity="0.45"/>
<circle cx="367.1" cy="323.2" r="1.9" fill="#b0c27a" opacity="0.45"/>
<circle cx="513.5" cy="310.8" r="2.1" fill="#5b7035" opacity="0.45"/>
<circle cx="654.7" cy="311.9" r="1.9" fill="#5b7035" opacity="0.45"/>
<circle cx="780.2" cy="316.3" r="1.1" fill="#b0c27a" opacity="0.45"/>
<circle cx="295.1" cy="315.7" r="1.5" fill="#6f8444" opacity="0.45"/>
<circle cx="328.5" cy="310.7" r="1.4" fill="#5b7035" opacity="0.45"/>
<circle cx="611.5" cy="308.9" r="1.9" fill="#6f8444" opacity="0.45"/>
<circle cx="811.3" cy="324.4" r="1.4" fill="#6f8444" opacity="0.45"/>
<circle cx="421.6" cy="317.2" r="1.5" fill="#5b7035" opacity="0.45"/>
<circle cx="548.4" cy="318.5" r="2.0" fill="#5b7035" opacity="0.45"/>
<circle cx="818.7" cy="324.1" r="1.4" fill="#a3b86a" opacity="0.45"/>
<circle cx="820.7" cy="323.1" r="1.5" fill="#b0c27a" opacity="0.45"/>
<circle cx="312.0" cy="310.7" r="1.0" fill="#6f8444" opacity="0.45"/>
<circle cx="502.7" cy="308.9" r="1.6" fill="#a3b86a" opacity="0.45"/>
<circle cx="618.0" cy="316.2" r="1.8" fill="#b0c27a" opacity="0.45"/>
<circle cx="673.5" cy="320.5" r="1.4" fill="#a3b86a" opacity="0.45"/>
<circle cx="272.4" cy="320.8" r="1.6" fill="#a3b86a" opacity="0.45"/>
<circle cx="404.2" cy="315.9" r="1.5" fill="#a3b86a" opacity="0.45"/>
<circle cx="850.0" cy="316.5" r="1.0" fill="#b0c27a" opacity="0.45"/>
<circle cx="291.0" cy="314.0" r="1.3" fill="#a3b86a" opacity="0.45"/>
<circle cx="490.4" cy="324.8" r="1.7" fill="#a3b86a" opacity="0.45"/>
<circle cx="539.9" cy="316.4" r="1.8" fill="#6f8444" opacity="0.45"/>
<circle cx="546.4" cy="315.6" r="1.6" fill="#6f8444" opacity="0.45"/>
<circle cx="476.4" cy="325.8" r="2.0" fill="#6f8444" opacity="0.45"/>
<circle cx="349.2" cy="311.9" r="1.7" fill="#a3b86a" opacity="0.45"/>
<circle cx="403.3" cy="311.0" r="2.1" fill="#6f8444" opacity="0.45"/>
<circle cx="843.9" cy="324.4" r="1.5" fill="#b0c27a" opacity="0.45"/>
<circle cx="309.2" cy="321.6" r="1.2" fill="#a3b86a" opacity="0.45"/>
<circle cx="772.0" cy="310.3" r="1.2" fill="#6f8444" opacity="0.45"/>
<circle cx="697.1" cy="308.4" r="1.8" fill="#b0c27a" opacity="0.45"/>
<circle cx="553.8" cy="313.4" r="1.3" fill="#a3b86a" opacity="0.45"/>
<circle cx="504.8" cy="322.0" r="1.4" fill="#5b7035" opacity="0.45"/>
<circle cx="712.7" cy="313.5" r="1.8" fill="#5b7035" opacity="0.45"/>
<circle cx="676.7" cy="313.8" r="1.1" fill="#b0c27a" opacity="0.45"/>
<circle cx="621.6" cy="311.6" r="1.3" fill="#a3b86a" opacity="0.45"/>
<circle cx="838.3" cy="319.0" r="1.2" fill="#b0c27a" opacity="0.45"/>
<circle cx="692.5" cy="326.0" r="1.4" fill="#b0c27a" opacity="0.45"/>
<circle cx="293.3" cy="320.4" r="1.8" fill="#a3b86a" opacity="0.45"/>
<circle cx="547.3" cy="325.2" r="1.5" fill="#b0c27a" opacity="0.45"/>
<circle cx="321.4" cy="325.7" r="1.4" fill="#5b7035" opacity="0.45"/>
<circle cx="426.6" cy="308.8" r="1.7" fill="#6f8444" opacity="0.45"/>
<circle cx="746.5" cy="322.7" r="1.6" fill="#5b7035" opacity="0.45"/>
<circle cx="682.8" cy="314.2" r="1.6" fill="#5b7035" opacity="0.45"/>
<circle cx="598.6" cy="320.1" r="1.5" fill="#6f8444" opacity="0.45"/>
<circle cx="781.6" cy="311.1" r="1.9" fill="#b0c27a" opacity="0.45"/>
<circle cx="438.8" cy="319.9" r="1.7" fill="#5b7035" opacity="0.45"/>
<circle cx="844.9" cy="311.9" r="2.0" fill="#6f8444" opacity="0.45"/>
<circle cx="820.5" cy="314.3" r="2.1" fill="#a3b86a" opacity="0.45"/>
<circle cx="651.4" cy="314.0" r="1.1" fill="#b0c27a" opacity="0.45"/>
<circle cx="697.3" cy="314.5" r="1.5" fill="#b0c27a" opacity="0.45"/>
<circle cx="471.9" cy="320.9" r="2.2" fill="#6f8444" opacity="0.45"/>
<circle cx="441.3" cy="322.1" r="1.1" fill="#5b7035" opacity="0.45"/>
<circle cx="467.8" cy="311.7" r="1.1" fill="#5b7035" opacity="0.45"/>
<circle cx="436.1" cy="311.4" r="2.1" fill="#b0c27a" opacity="0.45"/>
<circle cx="342.4" cy="311.3" r="1.7" fill="#5b7035" opacity="0.45"/>
<circle cx="852.6" cy="314.1" r="1.5" fill="#b0c27a" opacity="0.45"/>
<circle cx="569.8" cy="308.5" r="1.7" fill="#b0c27a" opacity="0.45"/>
<circle cx="420.8" cy="320.6" r="2.1" fill="#b0c27a" opacity="0.45"/>
<circle cx="489.8" cy="317.7" r="1.7" fill="#b0c27a" opacity="0.45"/>
<circle cx="631.3" cy="321.9" r="1.8" fill="#b0c27a" opacity="0.45"/>
<circle cx="608.1" cy="312.6" r="1.6" fill="#6f8444" opacity="0.45"/>
<circle cx="399.2" cy="313.9" r="1.8" fill="#5b7035" opacity="0.45"/>
<circle cx="475.4" cy="315.0" r="1.2" fill="#a3b86a" opacity="0.45"/>
<circle cx="446.4" cy="313.7" r="1.0" fill="#5b7035" opacity="0.45"/>
<circle cx="783.4" cy="309.3" r="1.9" fill="#b0c27a" opacity="0.45"/>
<circle cx="810.9" cy="318.0" r="1.6" fill="#5b7035" opacity="0.45"/>
<circle cx="391.7" cy="312.7" r="1.8" fill="#b0c27a" opacity="0.45"/>
<circle cx="565.0" cy="315.8" r="2.0" fill="#b0c27a" opacity="0.45"/>
<circle cx="425.2" cy="311.1" r="1.6" fill="#5b7035" opacity="0.45"/>
<circle cx="340.3" cy="322.3" r="2.0" fill="#b0c27a" opacity="0.45"/>
<circle cx="602.3" cy="308.5" r="1.1" fill="#6f8444" opacity="0.45"/>
<circle cx="611.7" cy="318.2" r="1.7" fill="#b0c27a" opacity="0.45"/>
<circle cx="646.2" cy="318.1" r="1.3" fill="#b0c27a" opacity="0.45"/>
<circle cx="632.4" cy="309.9" r="1.6" fill="#a3b86a" opacity="0.45"/>
<circle cx="536.8" cy="317.8" r="2.1" fill="#6f8444" opacity="0.45"/>
<circle cx="422.6" cy="309.4" r="2.0" fill="#6f8444" opacity="0.45"/>
<circle cx="392.8" cy="324.0" r="1.6" fill="#6f8444" opacity="0.45"/>
<circle cx="283.6" cy="317.2" r="1.9" fill="#a3b86a" opacity="0.45"/>
<circle cx="521.4" cy="312.5" r="2.0" fill="#b0c27a" opacity="0.45"/>
<circle cx="576.9" cy="324.4" r="1.0" fill="#b0c27a" opacity="0.45"/>
<circle cx="294.2" cy="323.6" r="1.2" fill="#5b7035" opacity="0.45"/>
<circle cx="576.4" cy="308.9" r="1.0" fill="#a3b86a" opacity="0.45"/>
<circle cx="401.3" cy="319.8" r="1.5" fill="#a3b86a" opacity="0.45"/>
<circle cx="352.4" cy="324.1" r="2.2" fill="#6f8444" opacity="0.45"/>
<circle cx="455.7" cy="308.9" r="1.6" fill="#6f8444" opacity="0.45"/>
<circle cx="437.5" cy="314.3" r="2.1" fill="#b0c27a" opacity="0.45"/>
<circle cx="298.9" cy="321.0" r="1.8" fill="#a3b86a" opacity="0.45"/>
<circle cx="567.3" cy="326.0" r="1.1" fill="#6f8444" opacity="0.45"/>
<circle cx="396.8" cy="309.3" r="2.1" fill="#6f8444" opacity="0.45"/>
<circle cx="757.9" cy="313.6" r="1.9" fill="#5b7035" opacity="0.45"/>
<circle cx="439.7" cy="309.6" r="1.5" fill="#a3b86a" opacity="0.45"/>
<circle cx="818.8" cy="321.5" r="1.0" fill="#5b7035" opacity="0.45"/>
<circle cx="511.1" cy="323.4" r="1.3" fill="#b0c27a" opacity="0.45"/>
<circle cx="594.0" cy="323.2" r="1.1" fill="#5b7035" opacity="0.45"/>
<circle cx="659.2" cy="324.6" r="1.7" fill="#a3b86a" opacity="0.45"/>
<circle cx="684.0" cy="319.3" r="1.7" fill="#5b7035" opacity="0.45"/>
<circle cx="568.2" cy="320.9" r="2.0" fill="#5b7035" opacity="0.45"/>
<circle cx="698.5" cy="314.3" r="1.2" fill="#a3b86a" opacity="0.45"/>
<circle cx="373.4" cy="311.0" r="1.2" fill="#6f8444" opacity="0.45"/>
<circle cx="483.6" cy="309.9" r="1.6" fill="#a3b86a" opacity="0.45"/>
<circle cx="731.4" cy="312.7" r="1.2" fill="#b0c27a" opacity="0.45"/>
<circle cx="428.6" cy="311.5" r="1.0" fill="#6f8444" opacity="0.45"/>
<circle cx="382.4" cy="317.3" r="1.5" fill="#b0c27a" opacity="0.45"/>
<circle cx="757.8" cy="323.7" r="2.0" fill="#5b7035" opacity="0.45"/>
<circle cx="849.6" cy="325.1" r="1.3" fill="#a3b86a" opacity="0.45"/>
<circle cx="654.4" cy="324.7" r="1.4" fill="#5b7035" opacity="0.45"/>
<circle cx="413.6" cy="322.4" r="1.1" fill="#b0c27a" opacity="0.45"/>
<circle cx="683.8" cy="312.7" r="1.1" fill="#a3b86a" opacity="0.45"/>
<circle cx="410.0" cy="320.8" r="1.3" fill="#5b7035" opacity="0.45"/>
<circle cx="634.3" cy="320.0" r="2.0" fill="#a3b86a" opacity="0.45"/>
<circle cx="673.5" cy="319.5" r="1.4" fill="#5b7035" opacity="0.45"/>
<circle cx="298.0" cy="316.5" r="2.1" fill="#b0c27a" opacity="0.45"/>
<circle cx="239.3" cy="314.1" r="1.9" fill="#6f8444" opacity="0.45"/>
<circle cx="246.7" cy="301.1" r="1.4" fill="#6f8444" opacity="0.45"/>
<circle cx="241.0" cy="310.0" r="2.0" fill="#6f8444" opacity="0.45"/>
<circle cx="241.4" cy="324.0" r="1.1" fill="#5b7035" opacity="0.45"/>
<circle cx="241.1" cy="319.0" r="1.7" fill="#a3b86a" opacity="0.45"/>
<circle cx="244.2" cy="312.9" r="1.5" fill="#6f8444" opacity="0.45"/>
<circle cx="245.5" cy="311.8" r="1.3" fill="#b0c27a" opacity="0.45"/>
<circle cx="246.2" cy="305.4" r="1.5" fill="#a3b86a" opacity="0.45"/>
<circle cx="242.7" cy="301.1" r="2.1" fill="#b0c27a" opacity="0.45"/>
<circle cx="238.3" cy="290.9" r="1.2" fill="#a3b86a" opacity="0.45"/>
<circle cx="259.0" cy="276.4" r="1.8" fill="#5b7035" opacity="0.45"/>
<circle cx="256.9" cy="290.2" r="2.1" fill="#6f8444" opacity="0.45"/>
<circle cx="245.5" cy="313.5" r="2.2" fill="#5b7035" opacity="0.45"/>
<circle cx="250.0" cy="316.8" r="2.0" fill="#6f8444" opacity="0.45"/>
<circle cx="252.7" cy="282.5" r="2.0" fill="#6f8444" opacity="0.45"/>
<circle cx="240.6" cy="303.3" r="1.8" fill="#b0c27a" opacity="0.45"/>
<circle cx="241.9" cy="324.5" r="1.8" fill="#6f8444" opacity="0.45"/>
<circle cx="252.1" cy="283.1" r="1.1" fill="#6f8444" opacity="0.45"/>
<circle cx="258.9" cy="281.7" r="1.8" fill="#5b7035" opacity="0.45"/>
<circle cx="238.9" cy="284.0" r="2.0" fill="#a3b86a" opacity="0.45"/>
<circle cx="239.5" cy="321.7" r="1.8" fill="#a3b86a" opacity="0.45"/>
<circle cx="242.7" cy="319.0" r="1.3" fill="#a3b86a" opacity="0.45"/>
<circle cx="259.2" cy="276.1" r="1.6" fill="#a3b86a" opacity="0.45"/>
<circle cx="248.2" cy="309.2" r="1.8" fill="#5b7035" opacity="0.45"/>
<circle cx="246.3" cy="293.9" r="1.8" fill="#5b7035" opacity="0.45"/>
<circle cx="260.6" cy="278.5" r="1.1" fill="#5b7035" opacity="0.45"/>
<circle cx="260.6" cy="283.2" r="1.9" fill="#a3b86a" opacity="0.45"/>
<circle cx="253.3" cy="291.3" r="2.0" fill="#b0c27a" opacity="0.45"/>
<circle cx="250.6" cy="300.1" r="1.2" fill="#a3b86a" opacity="0.45"/>
<circle cx="251.2" cy="295.1" r="1.1" fill="#b0c27a" opacity="0.45"/>
<circle cx="256.7" cy="283.4" r="1.8" fill="#5b7035" opacity="0.45"/>
<circle cx="242.4" cy="311.4" r="1.2" fill="#5b7035" opacity="0.45"/>
<circle cx="256.1" cy="298.9" r="1.0" fill="#a3b86a" opacity="0.45"/>
<circle cx="238.2" cy="320.6" r="2.1" fill="#6f8444" opacity="0.45"/>
<circle cx="237.1" cy="324.0" r="1.7" fill="#6f8444" opacity="0.45"/>
<circle cx="244.0" cy="290.8" r="1.7" fill="#6f8444" opacity="0.45"/>
<circle cx="245.6" cy="318.0" r="1.6" fill="#b0c27a" opacity="0.45"/>
<circle cx="235.3" cy="321.8" r="1.9" fill="#a3b86a" opacity="0.45"/>
<circle cx="239.3" cy="281.8" r="1.6" fill="#b0c27a" opacity="0.45"/>
<circle cx="237.3" cy="304.4" r="1.9" fill="#6f8444" opacity="0.45"/>
<circle cx="241.6" cy="303.1" r="2.2" fill="#b0c27a" opacity="0.45"/>
<circle cx="239.2" cy="320.1" r="1.7" fill="#5b7035" opacity="0.45"/>
<circle cx="258.4" cy="293.4" r="2.1" fill="#b0c27a" opacity="0.45"/>
<circle cx="250.0" cy="291.8" r="1.2" fill="#5b7035" opacity="0.45"/>
<circle cx="241.7" cy="319.2" r="1.3" fill="#5b7035" opacity="0.45"/>
<circle cx="252.7" cy="285.6" r="1.4" fill="#6f8444" opacity="0.45"/>
<circle cx="242.3" cy="290.0" r="1.6" fill="#b0c27a" opacity="0.45"/>
<circle cx="249.2" cy="308.8" r="1.4" fill="#a3b86a" opacity="0.45"/>
<circle cx="257.2" cy="276.0" r="1.2" fill="#5b7035" opacity="0.45"/>
<circle cx="253.6" cy="279.1" r="1.0" fill="#6f8444" opacity="0.45"/>
<circle cx="256.0" cy="323.8" r="1.5" fill="#b0c27a" opacity="0.45"/>
<circle cx="249.9" cy="287.7" r="1.2" fill="#5b7035" opacity="0.45"/>
<circle cx="257.2" cy="309.9" r="1.9" fill="#6f8444" opacity="0.45"/>
<circle cx="851.0" cy="321.9" r="1.8" fill="#a3b86a" opacity="0.45"/>
<circle cx="880.8" cy="316.2" r="1.2" fill="#5b7035" opacity="0.45"/>
<circle cx="889.5" cy="321.6" r="1.5" fill="#b0c27a" opacity="0.45"/>
<circle cx="871.2" cy="317.8" r="1.5" fill="#a3b86a" opacity="0.45"/>
<circle cx="864.8" cy="292.8" r="1.5" fill="#5b7035" opacity="0.45"/>
<circle cx="859.6" cy="303.1" r="1.8" fill="#6f8444" opacity="0.45"/>
<circle cx="864.1" cy="320.9" r="2.1" fill="#a3b86a" opacity="0.45"/>
<circle cx="879.6" cy="315.3" r="1.5" fill="#b0c27a" opacity="0.45"/>
<circle cx="862.4" cy="302.8" r="1.0" fill="#b0c27a" opacity="0.45"/>
<circle cx="879.3" cy="325.9" r="1.6" fill="#a3b86a" opacity="0.45"/>
<circle cx="875.8" cy="299.6" r="2.0" fill="#6f8444" opacity="0.45"/>
<circle cx="868.0" cy="313.4" r="1.6" fill="#5b7035" opacity="0.45"/>
<circle cx="854.6" cy="311.0" r="2.0" fill="#6f8444" opacity="0.45"/>
<circle cx="875.3" cy="304.0" r="2.0" fill="#a3b86a" opacity="0.45"/>
<circle cx="856.7" cy="316.1" r="1.3" fill="#5b7035" opacity="0.45"/>
<circle cx="875.4" cy="317.5" r="1.2" fill="#5b7035" opacity="0.45"/>
<circle cx="870.1" cy="322.8" r="1.3" fill="#a3b86a" opacity="0.45"/>
<circle cx="885.1" cy="313.7" r="1.8" fill="#a3b86a" opacity="0.45"/>
<circle cx="886.0" cy="314.8" r="1.7" fill="#a3b86a" opacity="0.45"/>
<circle cx="854.7" cy="296.8" r="1.6" fill="#a3b86a" opacity="0.45"/>
<circle cx="857.1" cy="311.9" r="1.0" fill="#b0c27a" opacity="0.45"/>
<circle cx="889.3" cy="321.2" r="1.1" fill="#a3b86a" opacity="0.45"/>
<circle cx="873.6" cy="317.9" r="1.3" fill="#a3b86a" opacity="0.45"/>
<circle cx="877.4" cy="317.0" r="1.8" fill="#5b7035" opacity="0.45"/>
<circle cx="874.7" cy="308.2" r="1.7" fill="#b0c27a" opacity="0.45"/>
<circle cx="852.5" cy="321.2" r="1.9" fill="#a3b86a" opacity="0.45"/>
<circle cx="894.1" cy="319.9" r="1.2" fill="#6f8444" opacity="0.45"/>
<circle cx="857.9" cy="307.4" r="1.6" fill="#a3b86a" opacity="0.45"/>
<circle cx="880.0" cy="323.9" r="2.1" fill="#5b7035" opacity="0.45"/>
<circle cx="852.4" cy="283.0" r="1.3" fill="#b0c27a" opacity="0.45"/>
<circle cx="854.7" cy="301.5" r="1.8" fill="#5b7035" opacity="0.45"/>
<circle cx="860.7" cy="302.7" r="1.7" fill="#b0c27a" opacity="0.45"/>
<circle cx="872.1" cy="309.2" r="1.9" fill="#5b7035" opacity="0.45"/>
<circle cx="890.3" cy="320.2" r="1.0" fill="#6f8444" opacity="0.45"/>
<circle cx="866.8" cy="321.7" r="1.6" fill="#b0c27a" opacity="0.45"/>
<circle cx="884.3" cy="324.8" r="1.5" fill="#5b7035" opacity="0.45"/>
<circle cx="860.0" cy="295.4" r="1.2" fill="#5b7035" opacity="0.45"/>
<circle cx="856.5" cy="325.5" r="1.3" fill="#b0c27a" opacity="0.45"/>
<circle cx="856.6" cy="317.1" r="2.1" fill="#6f8444" opacity="0.45"/>
<circle cx="897.7" cy="318.0" r="1.5" fill="#5b7035" opacity="0.45"/>
<circle cx="873.3" cy="313.6" r="1.2" fill="#6f8444" opacity="0.45"/>
<circle cx="870.5" cy="318.9" r="1.7" fill="#5b7035" opacity="0.45"/>
<circle cx="861.5" cy="287.7" r="1.6" fill="#6f8444" opacity="0.45"/>
<circle cx="883.1" cy="319.7" r="2.2" fill="#b0c27a" opacity="0.45"/>
<circle cx="866.1" cy="317.7" r="2.0" fill="#b0c27a" opacity="0.45"/>
<circle cx="865.7" cy="324.7" r="1.7" fill="#6f8444" opacity="0.45"/>
<circle cx="888.9" cy="319.0" r="2.1" fill="#a3b86a" opacity="0.45"/>
<circle cx="850.5" cy="311.2" r="1.2" fill="#6f8444" opacity="0.45"/>
<circle cx="867.1" cy="322.2" r="1.3" fill="#6f8444" opacity="0.45"/>
<circle cx="870.1" cy="314.2" r="1.2" fill="#6f8444" opacity="0.45"/>
<circle cx="870.9" cy="312.6" r="2.0" fill="#5b7035" opacity="0.45"/>
<circle cx="863.8" cy="318.1" r="1.4" fill="#6f8444" opacity="0.45"/>
<circle cx="900.7" cy="323.7" r="1.2" fill="#b0c27a" opacity="0.45"/>
<circle cx="882.0" cy="309.1" r="1.0" fill="#5b7035" opacity="0.45"/>
<circle cx="870.3" cy="325.0" r="1.6" fill="#5b7035" opacity="0.45"/>
<circle cx="860.5" cy="291.2" r="1.8" fill="#5b7035" opacity="0.45"/>
<circle cx="850.1" cy="284.1" r="1.8" fill="#a3b86a" opacity="0.45"/>
<circle cx="863.2" cy="319.1" r="2.1" fill="#a3b86a" opacity="0.45"/>
<circle cx="894.1" cy="313.7" r="1.6" fill="#b0c27a" opacity="0.45"/>
<circle cx="871.9" cy="316.2" r="2.1" fill="#5b7035" opacity="0.45"/>
<circle cx="888.0" cy="324.5" r="1.9" fill="#a3b86a" opacity="0.45"/>
<circle cx="882.5" cy="316.4" r="2.0" fill="#b0c27a" opacity="0.45"/>
<circle cx="874.7" cy="306.0" r="1.0" fill="#b0c27a" opacity="0.45"/>
<circle cx="860.7" cy="289.7" r="1.6" fill="#6f8444" opacity="0.45"/>
<circle cx="871.9" cy="316.5" r="2.1" fill="#5b7035" opacity="0.45"/>
<circle cx="858.6" cy="317.3" r="1.1" fill="#b0c27a" opacity="0.45"/>
<circle cx="866.4" cy="292.0" r="1.6" fill="#a3b86a" opacity="0.45"/>
<circle cx="887.2" cy="321.8" r="1.8" fill="#5b7035" opacity="0.45"/>
<circle cx="858.4" cy="291.5" r="1.5" fill="#b0c27a" opacity="0.45"/>
<circle cx="885.7" cy="320.0" r="1.3" fill="#6f8444" opacity="0.45"/>
<circle cx="880.1" cy="313.7" r="1.9" fill="#b0c27a" opacity="0.45"/>
<circle cx="888.1" cy="320.4" r="2.0" fill="#5b7035" opacity="0.45"/>
<circle cx="870.3" cy="298.3" r="1.1" fill="#5b7035" opacity="0.45"/>
<circle cx="869.2" cy="314.4" r="1.7" fill="#a3b86a" opacity="0.45"/>
<circle cx="894.6" cy="322.8" r="1.6" fill="#b0c27a" opacity="0.45"/>
<circle cx="873.5" cy="312.3" r="1.2" fill="#b0c27a" opacity="0.45"/>
<circle cx="854.6" cy="290.6" r="1.2" fill="#a3b86a" opacity="0.45"/>
<circle cx="861.2" cy="311.9" r="1.3" fill="#b0c27a" opacity="0.45"/>
<circle cx="853.1" cy="318.0" r="1.1" fill="#b0c27a" opacity="0.45"/>
<circle cx="858.0" cy="288.7" r="1.3" fill="#5b7035" opacity="0.45"/>
<circle cx="905.6" cy="325.1" r="2.1" fill="#a3b86a" opacity="0.45"/>
<circle cx="851.6" cy="310.0" r="1.5" fill="#a3b86a" opacity="0.45"/>
<circle cx="889.7" cy="313.6" r="1.1" fill="#a3b86a" opacity="0.45"/>
<circle cx="866.1" cy="292.5" r="1.3" fill="#5b7035" opacity="0.45"/>
<circle cx="895.8" cy="325.2" r="2.0" fill="#a3b86a" opacity="0.45"/>
<circle cx="868.0" cy="325.5" r="1.7" fill="#6f8444" opacity="0.45"/>
<circle cx="854.6" cy="309.9" r="1.5" fill="#6f8444" opacity="0.45"/>
<circle cx="858.8" cy="311.1" r="1.7" fill="#6f8444" opacity="0.45"/>
<circle cx="887.0" cy="313.5" r="1.7" fill="#a3b86a" opacity="0.45"/>
<circle cx="887.6" cy="313.9" r="1.9" fill="#5b7035" opacity="0.45"/>
<circle cx="871.9" cy="301.5" r="1.1" fill="#6f8444" opacity="0.45"/>
<circle cx="893.8" cy="315.9" r="1.1" fill="#6f8444" opacity="0.45"/>
<circle cx="856.9" cy="284.1" r="1.6" fill="#b0c27a" opacity="0.45"/>
<circle cx="894.0" cy="315.8" r="1.9" fill="#6f8444" opacity="0.45"/>
<path d="M795,176 L795,198 Q795,212 801,224" fill="none" stroke="#e4e6df" stroke-width="11.6" stroke-linecap="butt"/>
<path d="M795,176 L795,198 Q795,212 801,224" fill="none" stroke="#8b8b8f" stroke-width="9.2" stroke-linecap="butt"/>
<polygon points="727.9,176.3 743.5,176.3 939.2,335 927.3,338" fill="#e4e6df"/>
<polygon points="729.4,176.3 742.0,176.3 937.7,335 928.8,338" fill="#8b8b8f"/>
<path d="M781,213 Q790,204 799,213 Q803,222 812,232 L800,236 Z" fill="#8b8b8f"/>
<line x1="751.1" y1="195.0" x2="759.1" y2="189.0" stroke="#c9c9c9" stroke-width="0.7" opacity="0.8"/>
<line x1="764.6" y1="206.0" x2="772.6" y2="200.0" stroke="#c9c9c9" stroke-width="0.7" opacity="0.8"/>
<line x1="778.2" y1="217.0" x2="786.2" y2="211.0" stroke="#c9c9c9" stroke-width="0.7" opacity="0.8"/>
<line x1="793.0" y1="229.0" x2="801.0" y2="223.0" stroke="#c9c9c9" stroke-width="0.7" opacity="0.8"/>
<line x1="807.8" y1="241.0" x2="815.8" y2="235.0" stroke="#c9c9c9" stroke-width="0.7" opacity="0.8"/>
<line x1="822.6" y1="253.0" x2="830.6" y2="247.0" stroke="#c9c9c9" stroke-width="0.7" opacity="0.8"/>
<line x1="837.4" y1="265.0" x2="845.4" y2="259.0" stroke="#c9c9c9" stroke-width="0.7" opacity="0.8"/>
<line x1="852.2" y1="277.0" x2="860.2" y2="271.0" stroke="#c9c9c9" stroke-width="0.7" opacity="0.8"/>
<line x1="867.0" y1="289.0" x2="875.0" y2="283.0" stroke="#c9c9c9" stroke-width="0.7" opacity="0.8"/>
<line x1="881.8" y1="301.0" x2="889.8" y2="295.0" stroke="#c9c9c9" stroke-width="0.7" opacity="0.8"/>
<line x1="896.6" y1="313.0" x2="904.6" y2="307.0" stroke="#c9c9c9" stroke-width="0.7" opacity="0.8"/>
<line x1="911.3" y1="325.0" x2="919.3" y2="319.0" stroke="#c9c9c9" stroke-width="0.7" opacity="0.8"/>
<path d="M803,258 L826,252" stroke="#8b8b8f" stroke-width="7" fill="none"/>
<rect x="273.0" y="238.8" width="12.3" height="12.0" fill="#26331c" opacity="0.65"/>
<rect x="275.0" y="238.0" width="11.5" height="10.5" fill="#f4f4f2"/>
<rect x="291.4" y="238.8" width="12.3" height="12.0" fill="#26331c" opacity="0.65"/>
<rect x="293.4" y="238.0" width="11.5" height="10.5" fill="#f4f4f2"/>
<rect x="309.7" y="238.8" width="12.3" height="12.0" fill="#26331c" opacity="0.65"/>
<rect x="311.7" y="238.0" width="11.5" height="10.5" fill="#f4f4f2"/>
<rect x="328.1" y="238.8" width="12.3" height="12.0" fill="#26331c" opacity="0.65"/>
<rect x="330.1" y="238.0" width="11.5" height="10.5" fill="#f4f4f2"/>
<rect x="346.4" y="238.8" width="12.3" height="12.0" fill="#26331c" opacity="0.65"/>
<rect x="348.4" y="238.0" width="11.5" height="10.5" fill="#f4f4f2"/>
<rect x="364.8" y="238.8" width="12.3" height="12.0" fill="#26331c" opacity="0.65"/>
<rect x="366.8" y="238.0" width="11.5" height="10.5" fill="#f4f4f2"/>
<rect x="383.1" y="238.8" width="12.3" height="12.0" fill="#26331c" opacity="0.65"/>
<rect x="385.1" y="238.0" width="11.5" height="10.5" fill="#f4f4f2"/>
<rect x="401.5" y="238.8" width="12.3" height="12.0" fill="#26331c" opacity="0.65"/>
<rect x="403.5" y="238.0" width="11.5" height="10.5" fill="#f4f4f2"/>
<rect x="419.8" y="238.8" width="12.3" height="12.0" fill="#26331c" opacity="0.65"/>
<rect x="421.8" y="238.0" width="11.5" height="10.5" fill="#f4f4f2"/>
<rect x="438.1" y="238.8" width="12.3" height="12.0" fill="#26331c" opacity="0.65"/>
<rect x="440.1" y="238.0" width="11.5" height="10.5" fill="#f4f4f2"/>
<rect x="456.5" y="238.8" width="12.3" height="12.0" fill="#26331c" opacity="0.65"/>
<rect x="458.5" y="238.0" width="11.5" height="10.5" fill="#f4f4f2"/>
<rect x="474.9" y="238.8" width="12.3" height="12.0" fill="#26331c" opacity="0.65"/>
<rect x="476.9" y="238.0" width="11.5" height="10.5" fill="#f4f4f2"/>
<rect x="493.2" y="238.8" width="12.3" height="12.0" fill="#26331c" opacity="0.65"/>
<rect x="495.2" y="238.0" width="11.5" height="10.5" fill="#f4f4f2"/>
<rect x="511.5" y="238.8" width="12.3" height="12.0" fill="#26331c" opacity="0.65"/>
<rect x="513.5" y="238.0" width="11.5" height="10.5" fill="#f4f4f2"/>
<rect x="529.9" y="238.8" width="12.3" height="12.0" fill="#26331c" opacity="0.65"/>
<rect x="531.9" y="238.0" width="11.5" height="10.5" fill="#f4f4f2"/>
<rect x="548.2" y="238.8" width="12.3" height="12.0" fill="#26331c" opacity="0.65"/>
<rect x="550.2" y="238.0" width="11.5" height="10.5" fill="#f4f4f2"/>
<rect x="566.6" y="238.8" width="12.3" height="12.0" fill="#26331c" opacity="0.65"/>
<rect x="568.6" y="238.0" width="11.5" height="10.5" fill="#f4f4f2"/>
<rect x="585.0" y="238.8" width="12.3" height="12.0" fill="#26331c" opacity="0.65"/>
<rect x="587.0" y="238.0" width="11.5" height="10.5" fill="#f4f4f2"/>
<rect x="603.3" y="238.8" width="12.3" height="12.0" fill="#26331c" opacity="0.65"/>
<rect x="605.3" y="238.0" width="11.5" height="10.5" fill="#f4f4f2"/>
<rect x="621.7" y="238.8" width="12.3" height="12.0" fill="#26331c" opacity="0.65"/>
<rect x="623.7" y="238.0" width="11.5" height="10.5" fill="#f4f4f2"/>
<rect x="640.0" y="238.8" width="12.3" height="12.0" fill="#26331c" opacity="0.65"/>
<rect x="642.0" y="238.0" width="11.5" height="10.5" fill="#f4f4f2"/>
<rect x="658.4" y="238.8" width="12.3" height="12.0" fill="#26331c" opacity="0.65"/>
<rect x="660.4" y="238.0" width="11.5" height="10.5" fill="#f4f4f2"/>
<rect x="676.7" y="238.8" width="12.3" height="12.0" fill="#26331c" opacity="0.65"/>
<rect x="678.7" y="238.0" width="11.5" height="10.5" fill="#f4f4f2"/>
<rect x="695.0" y="238.8" width="12.3" height="12.0" fill="#26331c" opacity="0.65"/>
<rect x="697.0" y="238.0" width="11.5" height="10.5" fill="#f4f4f2"/>
<rect x="713.4" y="238.8" width="12.3" height="12.0" fill="#26331c" opacity="0.65"/>
<rect x="715.4" y="238.0" width="11.5" height="10.5" fill="#f4f4f2"/>
<rect x="731.8" y="238.8" width="12.3" height="12.0" fill="#26331c" opacity="0.65"/>
<rect x="733.8" y="238.0" width="11.5" height="10.5" fill="#f4f4f2"/>
<rect x="750.1" y="238.8" width="12.3" height="12.0" fill="#26331c" opacity="0.65"/>
<rect x="752.1" y="238.0" width="11.5" height="10.5" fill="#f4f4f2"/>
<rect x="272.0" y="264.8" width="11.3" height="12.5" fill="#26331c" opacity="0.65"/>
<rect x="274.0" y="264.0" width="10.5" height="11.0" fill="#f4f4f2"/>
<rect x="302.0" y="264.8" width="11.3" height="12.5" fill="#26331c" opacity="0.65"/>
<rect x="304.0" y="264.0" width="10.5" height="11.0" fill="#f4f4f2"/>
<rect x="320.0" y="264.8" width="11.3" height="12.5" fill="#26331c" opacity="0.65"/>
<rect x="322.0" y="264.0" width="10.5" height="11.0" fill="#f4f4f2"/>
<rect x="339.0" y="264.8" width="11.3" height="12.5" fill="#26331c" opacity="0.65"/>
<rect x="341.0" y="264.0" width="10.5" height="11.0" fill="#f4f4f2"/>
<rect x="358.0" y="264.8" width="11.3" height="12.5" fill="#26331c" opacity="0.65"/>
<rect x="360.0" y="264.0" width="10.5" height="11.0" fill="#f4f4f2"/>
<rect x="374.0" y="264.8" width="11.3" height="12.5" fill="#26331c" opacity="0.65"/>
<rect x="376.0" y="264.0" width="10.5" height="11.0" fill="#f4f4f2"/>
<rect x="393.0" y="264.8" width="11.3" height="12.5" fill="#26331c" opacity="0.65"/>
<rect x="395.0" y="264.0" width="10.5" height="11.0" fill="#f4f4f2"/>
<rect x="419.5" y="264.8" width="11.3" height="12.5" fill="#26331c" opacity="0.65"/>
<rect x="421.5" y="264.0" width="10.5" height="11.0" fill="#f4f4f2"/>
<rect x="445.6" y="264.8" width="11.3" height="12.5" fill="#26331c" opacity="0.65"/>
<rect x="447.6" y="264.0" width="10.5" height="11.0" fill="#f4f4f2"/>
<rect x="468.0" y="264.8" width="11.3" height="12.5" fill="#26331c" opacity="0.65"/>
<rect x="470.0" y="264.0" width="10.5" height="11.0" fill="#f4f4f2"/>
<rect x="484.0" y="264.8" width="11.3" height="12.5" fill="#26331c" opacity="0.65"/>
<rect x="486.0" y="264.0" width="10.5" height="11.0" fill="#f4f4f2"/>
<rect x="505.0" y="264.8" width="11.3" height="12.5" fill="#26331c" opacity="0.65"/>
<rect x="507.0" y="264.0" width="10.5" height="11.0" fill="#f4f4f2"/>
<rect x="522.5" y="264.8" width="11.3" height="12.5" fill="#26331c" opacity="0.65"/>
<rect x="524.5" y="264.0" width="10.5" height="11.0" fill="#f4f4f2"/>
<rect x="541.0" y="264.8" width="11.3" height="12.5" fill="#26331c" opacity="0.65"/>
<rect x="543.0" y="264.0" width="10.5" height="11.0" fill="#f4f4f2"/>
<rect x="557.0" y="264.8" width="11.3" height="12.5" fill="#26331c" opacity="0.65"/>
<rect x="559.0" y="264.0" width="10.5" height="11.0" fill="#f4f4f2"/>
<rect x="578.0" y="264.8" width="11.3" height="12.5" fill="#26331c" opacity="0.65"/>
<rect x="580.0" y="264.0" width="10.5" height="11.0" fill="#f4f4f2"/>
<rect x="594.0" y="264.8" width="11.3" height="12.5" fill="#26331c" opacity="0.65"/>
<rect x="596.0" y="264.0" width="10.5" height="11.0" fill="#f4f4f2"/>
<rect x="620.7" y="264.8" width="11.3" height="12.5" fill="#26331c" opacity="0.65"/>
<rect x="622.7" y="264.0" width="10.5" height="11.0" fill="#f4f4f2"/>
<rect x="650.0" y="264.8" width="11.3" height="12.5" fill="#26331c" opacity="0.65"/>
<rect x="652.0" y="264.0" width="10.5" height="11.0" fill="#f4f4f2"/>
<rect x="668.6" y="264.8" width="11.3" height="12.5" fill="#26331c" opacity="0.65"/>
<rect x="670.6" y="264.0" width="10.5" height="11.0" fill="#f4f4f2"/>
<rect x="687.0" y="264.8" width="11.3" height="12.5" fill="#26331c" opacity="0.65"/>
<rect x="689.0" y="264.0" width="10.5" height="11.0" fill="#f4f4f2"/>
<rect x="705.0" y="264.8" width="11.3" height="12.5" fill="#26331c" opacity="0.65"/>
<rect x="707.0" y="264.0" width="10.5" height="11.0" fill="#f4f4f2"/>
<rect x="723.6" y="264.8" width="11.3" height="12.5" fill="#26331c" opacity="0.65"/>
<rect x="725.6" y="264.0" width="10.5" height="11.0" fill="#f4f4f2"/>
<rect x="742.0" y="264.8" width="11.3" height="12.5" fill="#26331c" opacity="0.65"/>
<rect x="744.0" y="264.0" width="10.5" height="11.0" fill="#f4f4f2"/>
<rect x="759.0" y="264.8" width="11.3" height="12.5" fill="#26331c" opacity="0.65"/>
<rect x="761.0" y="264.0" width="10.5" height="11.0" fill="#f4f4f2"/>
<rect x="272.0" y="284.8" width="11.3" height="13.0" fill="#26331c" opacity="0.65"/>
<rect x="274.0" y="284.0" width="10.5" height="11.5" fill="#f4f4f2"/>
<rect x="292.0" y="284.8" width="11.3" height="13.0" fill="#26331c" opacity="0.65"/>
<rect x="294.0" y="284.0" width="10.5" height="11.5" fill="#f4f4f2"/>
<rect x="311.0" y="284.8" width="11.3" height="13.0" fill="#26331c" opacity="0.65"/>
<rect x="313.0" y="284.0" width="10.5" height="11.5" fill="#f4f4f2"/>
<rect x="330.0" y="284.8" width="11.3" height="13.0" fill="#26331c" opacity="0.65"/>
<rect x="332.0" y="284.0" width="10.5" height="11.5" fill="#f4f4f2"/>
<rect x="346.0" y="284.8" width="11.3" height="13.0" fill="#26331c" opacity="0.65"/>
<rect x="348.0" y="284.0" width="10.5" height="11.5" fill="#f4f4f2"/>
<rect x="366.5" y="284.8" width="11.3" height="13.0" fill="#26331c" opacity="0.65"/>
<rect x="368.5" y="284.0" width="10.5" height="11.5" fill="#f4f4f2"/>
<rect x="385.5" y="284.8" width="11.3" height="13.0" fill="#26331c" opacity="0.65"/>
<rect x="387.5" y="284.0" width="10.5" height="11.5" fill="#f4f4f2"/>
<rect x="401.0" y="284.8" width="11.3" height="13.0" fill="#26331c" opacity="0.65"/>
<rect x="403.0" y="284.0" width="10.5" height="11.5" fill="#f4f4f2"/>
<rect x="418.0" y="284.8" width="11.3" height="13.0" fill="#26331c" opacity="0.65"/>
<rect x="420.0" y="284.0" width="10.5" height="11.5" fill="#f4f4f2"/>
<rect x="447.0" y="284.8" width="11.3" height="13.0" fill="#26331c" opacity="0.65"/>
<rect x="449.0" y="284.0" width="10.5" height="11.5" fill="#f4f4f2"/>
<rect x="476.0" y="284.8" width="11.3" height="13.0" fill="#26331c" opacity="0.65"/>
<rect x="478.0" y="284.0" width="10.5" height="11.5" fill="#f4f4f2"/>
<rect x="495.0" y="284.8" width="11.3" height="13.0" fill="#26331c" opacity="0.65"/>
<rect x="497.0" y="284.0" width="10.5" height="11.5" fill="#f4f4f2"/>
<rect x="513.7" y="284.8" width="11.3" height="13.0" fill="#26331c" opacity="0.65"/>
<rect x="515.7" y="284.0" width="10.5" height="11.5" fill="#f4f4f2"/>
<rect x="530.0" y="284.8" width="11.3" height="13.0" fill="#26331c" opacity="0.65"/>
<rect x="532.0" y="284.0" width="10.5" height="11.5" fill="#f4f4f2"/>
<rect x="550.0" y="284.8" width="11.3" height="13.0" fill="#26331c" opacity="0.65"/>
<rect x="552.0" y="284.0" width="10.5" height="11.5" fill="#f4f4f2"/>
<rect x="568.6" y="284.8" width="11.3" height="13.0" fill="#26331c" opacity="0.65"/>
<rect x="570.6" y="284.0" width="10.5" height="11.5" fill="#f4f4f2"/>
<rect x="593.0" y="284.8" width="11.3" height="13.0" fill="#26331c" opacity="0.65"/>
<rect x="595.0" y="284.0" width="10.5" height="11.5" fill="#f4f4f2"/>
<rect x="620.0" y="284.8" width="11.3" height="13.0" fill="#26331c" opacity="0.65"/>
<rect x="622.0" y="284.0" width="10.5" height="11.5" fill="#f4f4f2"/>
<rect x="641.0" y="284.8" width="11.3" height="13.0" fill="#26331c" opacity="0.65"/>
<rect x="643.0" y="284.0" width="10.5" height="11.5" fill="#f4f4f2"/>
<rect x="660.0" y="284.8" width="11.3" height="13.0" fill="#26331c" opacity="0.65"/>
<rect x="662.0" y="284.0" width="10.5" height="11.5" fill="#f4f4f2"/>
<rect x="675.0" y="284.8" width="11.3" height="13.0" fill="#26331c" opacity="0.65"/>
<rect x="677.0" y="284.0" width="10.5" height="11.5" fill="#f4f4f2"/>
<rect x="695.6" y="284.8" width="11.3" height="13.0" fill="#26331c" opacity="0.65"/>
<rect x="697.6" y="284.0" width="10.5" height="11.5" fill="#f4f4f2"/>
<rect x="714.8" y="284.8" width="11.3" height="13.0" fill="#26331c" opacity="0.65"/>
<rect x="716.8" y="284.0" width="10.5" height="11.5" fill="#f4f4f2"/>
<rect x="733.0" y="284.8" width="11.3" height="13.0" fill="#26331c" opacity="0.65"/>
<rect x="735.0" y="284.0" width="10.5" height="11.5" fill="#f4f4f2"/>
<rect x="751.5" y="284.8" width="11.3" height="13.0" fill="#26331c" opacity="0.65"/>
<rect x="753.5" y="284.0" width="10.5" height="11.5" fill="#f4f4f2"/>
<rect x="771.5" y="284.8" width="11.3" height="13.0" fill="#26331c" opacity="0.65"/>
<rect x="773.5" y="284.0" width="10.5" height="11.5" fill="#f4f4f2"/>
<rect x="799.0" y="284.8" width="11.3" height="13.0" fill="#26331c" opacity="0.65"/>
<rect x="801.0" y="284.0" width="10.5" height="11.5" fill="#f4f4f2"/>
<rect x="816.0" y="284.8" width="11.3" height="13.0" fill="#26331c" opacity="0.65"/>
<rect x="818.0" y="284.0" width="10.5" height="11.5" fill="#f4f4f2"/>
<rect x="830.0" y="284.8" width="11.3" height="13.0" fill="#26331c" opacity="0.65"/>
<rect x="832.0" y="284.0" width="10.5" height="11.5" fill="#f4f4f2"/>
<rect x="268.0" y="310.8" width="10.8" height="13.0" fill="#26331c" opacity="0.65"/>
<rect x="270.0" y="310.0" width="10.0" height="11.5" fill="#f4f4f2"/>
<rect x="284.6" y="310.8" width="10.8" height="13.0" fill="#26331c" opacity="0.65"/>
<rect x="286.6" y="310.0" width="10.0" height="11.5" fill="#f4f4f2"/>
<rect x="302.0" y="310.8" width="10.8" height="13.0" fill="#26331c" opacity="0.65"/>
<rect x="304.0" y="310.0" width="10.0" height="11.5" fill="#f4f4f2"/>
<rect x="321.0" y="310.8" width="10.8" height="13.0" fill="#26331c" opacity="0.65"/>
<rect x="323.0" y="310.0" width="10.0" height="11.5" fill="#f4f4f2"/>
<rect x="340.0" y="310.8" width="10.8" height="13.0" fill="#26331c" opacity="0.65"/>
<rect x="342.0" y="310.0" width="10.0" height="11.5" fill="#f4f4f2"/>
<rect x="357.7" y="310.8" width="10.8" height="13.0" fill="#26331c" opacity="0.65"/>
<rect x="359.7" y="310.0" width="10.0" height="11.5" fill="#f4f4f2"/>
<rect x="375.0" y="310.8" width="10.8" height="13.0" fill="#26331c" opacity="0.65"/>
<rect x="377.0" y="310.0" width="10.0" height="11.5" fill="#f4f4f2"/>
<rect x="394.0" y="310.8" width="10.8" height="13.0" fill="#26331c" opacity="0.65"/>
<rect x="396.0" y="310.0" width="10.0" height="11.5" fill="#f4f4f2"/>
<rect x="412.0" y="310.8" width="10.8" height="13.0" fill="#26331c" opacity="0.65"/>
<rect x="414.0" y="310.0" width="10.0" height="11.5" fill="#f4f4f2"/>
<rect x="428.0" y="310.8" width="10.8" height="13.0" fill="#26331c" opacity="0.65"/>
<rect x="430.0" y="310.0" width="10.0" height="11.5" fill="#f4f4f2"/>
<rect x="449.0" y="310.8" width="10.8" height="13.0" fill="#26331c" opacity="0.65"/>
<rect x="451.0" y="310.0" width="10.0" height="11.5" fill="#f4f4f2"/>
<rect x="468.0" y="310.8" width="10.8" height="13.0" fill="#26331c" opacity="0.65"/>
<rect x="470.0" y="310.0" width="10.0" height="11.5" fill="#f4f4f2"/>
<rect x="486.0" y="310.8" width="10.8" height="13.0" fill="#26331c" opacity="0.65"/>
<rect x="488.0" y="310.0" width="10.0" height="11.5" fill="#f4f4f2"/>
<rect x="503.6" y="310.8" width="10.8" height="13.0" fill="#26331c" opacity="0.65"/>
<rect x="505.6" y="310.0" width="10.0" height="11.5" fill="#f4f4f2"/>
<rect x="520.0" y="310.8" width="10.8" height="13.0" fill="#26331c" opacity="0.65"/>
<rect x="522.0" y="310.0" width="10.0" height="11.5" fill="#f4f4f2"/>
<rect x="541.0" y="310.8" width="10.8" height="13.0" fill="#26331c" opacity="0.65"/>
<rect x="543.0" y="310.0" width="10.0" height="11.5" fill="#f4f4f2"/>
<rect x="560.0" y="310.8" width="10.8" height="13.0" fill="#26331c" opacity="0.65"/>
<rect x="562.0" y="310.0" width="10.0" height="11.5" fill="#f4f4f2"/>
<rect x="578.0" y="310.8" width="10.8" height="13.0" fill="#26331c" opacity="0.65"/>
<rect x="580.0" y="310.0" width="10.0" height="11.5" fill="#f4f4f2"/>
<rect x="595.6" y="310.8" width="10.8" height="13.0" fill="#26331c" opacity="0.65"/>
<rect x="597.6" y="310.0" width="10.0" height="11.5" fill="#f4f4f2"/>
<rect x="612.0" y="310.8" width="10.8" height="13.0" fill="#26331c" opacity="0.65"/>
<rect x="614.0" y="310.0" width="10.0" height="11.5" fill="#f4f4f2"/>
<rect x="632.0" y="310.8" width="10.8" height="13.0" fill="#26331c" opacity="0.65"/>
<rect x="634.0" y="310.0" width="10.0" height="11.5" fill="#f4f4f2"/>
<rect x="650.0" y="310.8" width="10.8" height="13.0" fill="#26331c" opacity="0.65"/>
<rect x="652.0" y="310.0" width="10.0" height="11.5" fill="#f4f4f2"/>
<rect x="669.0" y="310.8" width="10.8" height="13.0" fill="#26331c" opacity="0.65"/>
<rect x="671.0" y="310.0" width="10.0" height="11.5" fill="#f4f4f2"/>
<rect x="686.8" y="310.8" width="10.8" height="13.0" fill="#26331c" opacity="0.65"/>
<rect x="688.8" y="310.0" width="10.0" height="11.5" fill="#f4f4f2"/>
<rect x="703.0" y="310.8" width="10.8" height="13.0" fill="#26331c" opacity="0.65"/>
<rect x="705.0" y="310.0" width="10.0" height="11.5" fill="#f4f4f2"/>
<rect x="723.6" y="310.8" width="10.8" height="13.0" fill="#26331c" opacity="0.65"/>
<rect x="725.6" y="310.0" width="10.0" height="11.5" fill="#f4f4f2"/>
<rect x="742.7" y="310.8" width="10.8" height="13.0" fill="#26331c" opacity="0.65"/>
<rect x="744.7" y="310.0" width="10.0" height="11.5" fill="#f4f4f2"/>
<rect x="760.0" y="310.8" width="10.8" height="13.0" fill="#26331c" opacity="0.65"/>
<rect x="762.0" y="310.0" width="10.0" height="11.5" fill="#f4f4f2"/>
<rect x="776.5" y="310.8" width="10.8" height="13.0" fill="#26331c" opacity="0.65"/>
<rect x="778.5" y="310.0" width="10.0" height="11.5" fill="#f4f4f2"/>
<rect x="797.5" y="310.8" width="10.8" height="13.0" fill="#26331c" opacity="0.65"/>
<rect x="799.5" y="310.0" width="10.0" height="11.5" fill="#f4f4f2"/>
<rect x="816.0" y="310.8" width="10.8" height="13.0" fill="#26331c" opacity="0.65"/>
<rect x="818.0" y="310.0" width="10.0" height="11.5" fill="#f4f4f2"/>
<rect x="834.5" y="310.8" width="10.8" height="13.0" fill="#26331c" opacity="0.65"/>
<rect x="836.5" y="310.0" width="10.0" height="11.5" fill="#f4f4f2"/>
<rect x="849.0" y="310.8" width="10.8" height="13.0" fill="#26331c" opacity="0.65"/>
<rect x="851.0" y="310.0" width="10.0" height="11.5" fill="#f4f4f2"/>
<rect x="812.5" y="256.8" width="6.5" height="17" fill="#f4f4f2" stroke="#555" stroke-width="0.5"/>
<rect x="397.6" y="245.5" width="3" height="5" fill="#a9dcd2"/>
<rect x="471.0" y="245.5" width="3" height="5" fill="#a9dcd2"/>
<rect x="489.4" y="245.5" width="3" height="5" fill="#a9dcd2"/>
<rect x="507.7" y="245.5" width="3" height="5" fill="#a9dcd2"/>
<rect x="562.8" y="245.5" width="3" height="5" fill="#a9dcd2"/>
<rect x="654.5" y="245.5" width="3" height="5" fill="#a9dcd2"/>
<rect x="672.9" y="245.5" width="3" height="5" fill="#a9dcd2"/>
<rect x="709.5" y="245.5" width="3" height="5" fill="#a9dcd2"/>
<rect x="727.9" y="245.5" width="3" height="5" fill="#a9dcd2"/>
<rect x="746.2" y="245.5" width="3" height="5" fill="#a9dcd2"/>
<rect x="764.6" y="245.5" width="3" height="5" fill="#a9dcd2"/>
<rect x="460.1" y="272.0" width="3" height="5" fill="#a9dcd2"/>
<rect x="555.5" y="272.0" width="3" height="5" fill="#a9dcd2"/>
<rect x="571.5" y="272.0" width="3" height="5" fill="#a9dcd2"/>
<rect x="592.5" y="272.0" width="3" height="5" fill="#a9dcd2"/>
<rect x="608.5" y="272.0" width="3" height="5" fill="#a9dcd2"/>
<rect x="756.5" y="272.0" width="3" height="5" fill="#a9dcd2"/>
<rect x="773.5" y="272.0" width="3" height="5" fill="#a9dcd2"/>
<rect x="360.5" y="292.5" width="3" height="5" fill="#a9dcd2"/>
<rect x="415.5" y="292.5" width="3" height="5" fill="#a9dcd2"/>
<rect x="432.5" y="292.5" width="3" height="5" fill="#a9dcd2"/>
<rect x="461.5" y="292.5" width="3" height="5" fill="#a9dcd2"/>
<rect x="528.2" y="292.5" width="3" height="5" fill="#a9dcd2"/>
<rect x="544.5" y="292.5" width="3" height="5" fill="#a9dcd2"/>
<rect x="564.5" y="292.5" width="3" height="5" fill="#a9dcd2"/>
<rect x="583.1" y="292.5" width="3" height="5" fill="#a9dcd2"/>
<rect x="634.5" y="292.5" width="3" height="5" fill="#a9dcd2"/>
<rect x="689.5" y="292.5" width="3" height="5" fill="#a9dcd2"/>
<rect x="729.3" y="292.5" width="3" height="5" fill="#a9dcd2"/>
<rect x="766.0" y="292.5" width="3" height="5" fill="#a9dcd2"/>
<rect x="813.5" y="292.5" width="3" height="5" fill="#a9dcd2"/>
<rect x="830.5" y="292.5" width="3" height="5" fill="#a9dcd2"/>
<rect x="299.1" y="318.5" width="3" height="5" fill="#a9dcd2"/>
<rect x="335.5" y="318.5" width="3" height="5" fill="#a9dcd2"/>
<rect x="408.5" y="318.5" width="3" height="5" fill="#a9dcd2"/>
<rect x="442.5" y="318.5" width="3" height="5" fill="#a9dcd2"/>
<rect x="463.5" y="318.5" width="3" height="5" fill="#a9dcd2"/>
<rect x="500.5" y="318.5" width="3" height="5" fill="#a9dcd2"/>
<rect x="518.1" y="318.5" width="3" height="5" fill="#a9dcd2"/>
<rect x="534.5" y="318.5" width="3" height="5" fill="#a9dcd2"/>
<rect x="555.5" y="318.5" width="3" height="5" fill="#a9dcd2"/>
<rect x="592.5" y="318.5" width="3" height="5" fill="#a9dcd2"/>
<rect x="738.1" y="318.5" width="3" height="5" fill="#a9dcd2"/>
<rect x="757.2" y="318.5" width="3" height="5" fill="#a9dcd2"/>
<rect x="812.0" y="318.5" width="3" height="5" fill="#a9dcd2"/>
<rect x="830.5" y="318.5" width="3" height="5" fill="#a9dcd2"/>
<ellipse cx="289.9" cy="236.6" rx="3.6" ry="4.0" fill="#2f4026" opacity="0.3"/>
<polygon points="288.2,236.5 289.9,234.7 288.0,233.1 290.5,233.3 290.6,230.8 292.0,232.9 294.1,231.4 293.3,233.8 295.7,234.5 293.4,235.4 294.3,237.7 292.2,236.4 291.0,238.6 290.6,236.1" fill="#45613a"/>
<circle cx="291.7" cy="234.6" r="1.8" fill="#5d7d45"/>
<ellipse cx="302.8" cy="236.9" rx="3.3" ry="3.6" fill="#2f4026" opacity="0.3"/>
<polygon points="303.6,231.4 304.8,233.3 306.7,231.9 306.0,234.1 308.2,234.7 306.1,235.5 307.0,237.6 305.0,236.5 304.0,238.5 303.6,236.2 301.4,236.7 302.9,235.0 301.2,233.5 303.5,233.7" fill="#45613a"/>
<circle cx="304.6" cy="234.9" r="1.6" fill="#5d7d45"/>
<ellipse cx="325.8" cy="235.8" rx="3.3" ry="3.7" fill="#2f4026" opacity="0.3"/>
<polygon points="329.3,237.1 327.7,235.5 326.1,237.1 326.4,234.9 324.1,234.7 326.0,233.5 324.7,231.5 326.9,232.3 327.6,230.1 328.3,232.3 330.5,231.4 329.3,233.4 331.3,234.5 329.0,234.8" fill="#45613a"/>
<circle cx="327.6" cy="233.8" r="1.7" fill="#5d7d45"/>
<ellipse cx="339.7" cy="234.7" rx="3.6" ry="4.0" fill="#2f4026" opacity="0.3"/>
<polygon points="343.8,229.5 343.0,231.9 345.4,232.6 343.1,233.4 344.0,235.7 341.9,234.4 340.7,236.6 340.4,234.1 338.0,234.5 339.7,232.7 337.8,231.1 340.3,231.3 340.5,228.9 341.8,230.9" fill="#45613a"/>
<circle cx="341.5" cy="232.7" r="1.8" fill="#5d7d45"/>
<ellipse cx="359.3" cy="236.8" rx="3.2" ry="3.6" fill="#2f4026" opacity="0.3"/>
<polygon points="364.7,235.1 362.5,235.6 363.0,237.8 361.3,236.4 359.9,238.2 359.9,235.9 357.7,236.0 359.5,234.6 358.0,232.9 360.2,233.4 360.6,231.2 361.6,233.2 363.6,232.2 362.6,234.2" fill="#45613a"/>
<circle cx="361.1" cy="234.8" r="1.6" fill="#5d7d45"/>
<ellipse cx="378.6" cy="234.2" rx="3.2" ry="3.6" fill="#2f4026" opacity="0.3"/>
<polygon points="378.0,234.8 378.9,232.8 376.9,231.9 379.0,231.4 378.4,229.2 380.2,230.6 381.5,228.8 381.5,231.0 383.7,230.9 382.0,232.3 383.5,234.0 381.3,233.5 381.0,235.7 380.0,233.7" fill="#45613a"/>
<circle cx="380.4" cy="232.2" r="1.6" fill="#5d7d45"/>
<ellipse cx="395.1" cy="235.1" rx="3.9" ry="4.3" fill="#2f4026" opacity="0.3"/>
<polygon points="401.1,232.5 398.7,233.7 400.0,236.1 397.6,234.9 396.5,237.4 395.9,234.7 393.3,235.4 395.0,233.3 392.8,231.7 395.5,231.7 395.4,229.1 397.1,231.2 399.1,229.4 398.5,232.0" fill="#45613a"/>
<circle cx="396.9" cy="233.1" r="1.9" fill="#5d7d45"/>
<ellipse cx="416.8" cy="235.8" rx="3.2" ry="3.5" fill="#2f4026" opacity="0.3"/>
<polygon points="422.1,234.5 419.8,234.7 420.1,236.9 418.6,235.3 417.1,236.9 417.4,234.8 415.1,234.6 417.0,233.4 415.8,231.6 417.9,232.3 418.6,230.2 419.3,232.3 421.4,231.5 420.1,233.4" fill="#45613a"/>
<circle cx="418.6" cy="233.8" r="1.6" fill="#5d7d45"/>
<ellipse cx="436.5" cy="236.1" rx="3.9" ry="4.4" fill="#2f4026" opacity="0.3"/>
<polygon points="442.6,234.7 439.9,235.2 440.5,237.8 438.4,236.1 436.7,238.2 436.8,235.5 434.1,235.5 436.3,233.8 434.6,231.7 437.3,232.4 437.9,229.8 438.9,232.3 441.4,231.1 440.1,233.5" fill="#45613a"/>
<circle cx="438.3" cy="234.1" r="2.0" fill="#5d7d45"/>
<ellipse cx="452.2" cy="236.2" rx="3.3" ry="3.7" fill="#2f4026" opacity="0.3"/>
<polygon points="457.8,234.2 455.6,234.9 456.4,237.1 454.4,235.8 453.2,237.8 453.0,235.5 450.7,235.8 452.4,234.2 450.7,232.6 453.0,232.9 453.2,230.6 454.4,232.6 456.3,231.3 455.5,233.5" fill="#45613a"/>
<circle cx="454.0" cy="234.2" r="1.7" fill="#5d7d45"/>
<ellipse cx="471.0" cy="236.2" rx="3.9" ry="4.3" fill="#2f4026" opacity="0.3"/>
<polygon points="472.4,229.9 473.5,232.4 475.9,231.3 474.6,233.6 477.0,234.8 474.4,235.3 475.0,237.9 472.9,236.1 471.2,238.2 471.4,235.5 468.7,235.5 470.9,233.9 469.2,231.8 471.8,232.5" fill="#45613a"/>
<circle cx="472.8" cy="234.2" r="1.9" fill="#5d7d45"/>
<ellipse cx="490.8" cy="236.7" rx="3.4" ry="3.8" fill="#2f4026" opacity="0.3"/>
<polygon points="491.1,231.3 492.7,233.1 494.4,231.4 494.0,233.7 496.3,234.1 494.2,235.2 495.4,237.2 493.3,236.3 492.5,238.5 491.8,236.2 489.6,237.0 491.0,235.1 489.0,233.8 491.3,233.6" fill="#45613a"/>
<circle cx="492.6" cy="234.7" r="1.7" fill="#5d7d45"/>
<ellipse cx="545.8" cy="236.6" rx="3.6" ry="4.0" fill="#2f4026" opacity="0.3"/>
<polygon points="544.8,231.8 547.0,232.9 548.1,230.6 548.6,233.1 551.0,232.5 549.4,234.4 551.4,235.9 548.9,235.9 549.0,238.3 547.4,236.4 545.5,238.0 546.1,235.5 543.7,235.0 546.0,234.0" fill="#45613a"/>
<circle cx="547.6" cy="234.6" r="1.8" fill="#5d7d45"/>
<ellipse cx="562.9" cy="235.8" rx="3.1" ry="3.5" fill="#2f4026" opacity="0.3"/>
<polygon points="562.5,231.2 564.4,232.3 565.4,230.4 565.7,232.6 567.8,232.2 566.3,233.8 567.9,235.3 565.8,235.0 565.6,237.2 564.4,235.4 562.6,236.6 563.4,234.5 561.3,233.9 563.3,233.2" fill="#45613a"/>
<circle cx="564.7" cy="233.8" r="1.6" fill="#5d7d45"/>
<ellipse cx="616.8" cy="236.2" rx="3.6" ry="4.0" fill="#2f4026" opacity="0.3"/>
<polygon points="614.9,235.7 616.8,234.1 615.2,232.2 617.6,232.7 618.0,230.3 619.2,232.5 621.3,231.3 620.3,233.5 622.6,234.5 620.2,235.1 620.9,237.5 618.9,236.0 617.5,238.0 617.4,235.5" fill="#45613a"/>
<circle cx="618.6" cy="234.2" r="1.8" fill="#5d7d45"/>
<ellipse cx="655.7" cy="234.1" rx="3.6" ry="4.0" fill="#2f4026" opacity="0.3"/>
<polygon points="653.5,232.6 655.8,231.5 654.6,229.3 656.9,230.4 657.9,228.1 658.4,230.6 660.9,229.9 659.3,231.9 661.3,233.4 658.8,233.4 658.9,235.9 657.3,233.9 655.4,235.5 656.0,233.1" fill="#45613a"/>
<circle cx="657.5" cy="232.1" r="1.8" fill="#5d7d45"/>
<ellipse cx="673.7" cy="235.5" rx="3.6" ry="4.0" fill="#2f4026" opacity="0.3"/>
<polygon points="679.1,231.6 677.3,233.4 679.2,235.0 676.7,234.8 676.6,237.4 675.2,235.3 673.2,236.8 674.0,234.4 671.5,233.7 673.9,232.8 672.9,230.5 675.0,231.8 676.2,229.5 676.6,232.0" fill="#45613a"/>
<circle cx="675.5" cy="233.5" r="1.8" fill="#5d7d45"/>
<ellipse cx="688.0" cy="234.9" rx="3.7" ry="4.1" fill="#2f4026" opacity="0.3"/>
<polygon points="691.0,236.8 689.5,234.7 687.5,236.3 688.2,233.8 685.7,233.2 688.1,232.2 687.0,229.9 689.2,231.1 690.4,228.9 690.8,231.4 693.3,230.9 691.6,232.8 693.6,234.4 691.0,234.2" fill="#45613a"/>
<circle cx="689.8" cy="232.9" r="1.8" fill="#5d7d45"/>
<ellipse cx="711.7" cy="236.0" rx="3.5" ry="3.8" fill="#2f4026" opacity="0.3"/>
<polygon points="716.5,231.6 715.2,233.6 717.2,234.8 714.8,235.0 715.2,237.4 713.5,235.7 711.9,237.5 712.1,235.1 709.7,234.9 711.8,233.6 710.5,231.6 712.7,232.4 713.4,230.1 714.2,232.4" fill="#45613a"/>
<circle cx="713.5" cy="234.0" r="1.7" fill="#5d7d45"/>
<ellipse cx="728.6" cy="234.6" rx="3.4" ry="3.8" fill="#2f4026" opacity="0.3"/>
<polygon points="731.7,229.0 731.6,231.4 734.0,231.4 732.1,232.8 733.6,234.7 731.3,234.1 730.8,236.4 729.8,234.2 727.7,235.3 728.8,233.1 726.6,232.1 728.9,231.7 728.4,229.3 730.2,230.9" fill="#45613a"/>
<circle cx="730.4" cy="232.6" r="1.7" fill="#5d7d45"/>
<ellipse cx="288.1" cy="245.1" rx="3.0" ry="3.4" fill="#2f4026" opacity="0.3"/>
<polygon points="286.6,243.2 288.5,242.5 287.8,240.6 289.6,241.7 290.6,239.8 290.8,241.9 292.9,241.6 291.4,243.1 293.0,244.5 290.9,244.3 290.8,246.4 289.6,244.6 287.9,245.8 288.6,243.8" fill="#45613a"/>
<circle cx="289.9" cy="243.1" r="1.5" fill="#5d7d45"/>
<line x1="272.5" y1="237.0" x2="272.5" y2="251.5" stroke="#3d5230" stroke-width="0.9" opacity="0.55"/>
<ellipse cx="306.9" cy="249.1" rx="3.2" ry="3.5" fill="#2f4026" opacity="0.3"/>
<polygon points="310.4,250.2 308.8,248.7 307.3,250.4 307.5,248.2 305.3,248.1 307.1,246.9 305.8,245.1 307.9,245.7 308.4,243.6 309.3,245.7 311.3,244.8 310.2,246.7 312.1,247.7 310.0,248.0" fill="#45613a"/>
<circle cx="308.7" cy="247.1" r="1.6" fill="#5d7d45"/>
<line x1="290.9" y1="237.0" x2="290.9" y2="251.5" stroke="#3d5230" stroke-width="0.9" opacity="0.55"/>
<ellipse cx="323.7" cy="245.8" rx="3.6" ry="4.0" fill="#2f4026" opacity="0.3"/>
<polygon points="321.6,243.9 323.9,243.1 322.9,240.8 325.1,242.0 326.2,239.9 326.6,242.3 329.0,241.9 327.3,243.7 329.1,245.3 326.7,245.1 326.5,247.6 325.2,245.5 323.2,246.9 323.9,244.6" fill="#45613a"/>
<circle cx="325.5" cy="243.8" r="1.8" fill="#5d7d45"/>
<line x1="309.2" y1="237.0" x2="309.2" y2="251.5" stroke="#3d5230" stroke-width="0.9" opacity="0.55"/>
<ellipse cx="344.4" cy="246.0" rx="3.0" ry="3.3" fill="#2f4026" opacity="0.3"/>
<polygon points="349.4,244.6 347.4,244.9 347.7,246.9 346.2,245.5 344.8,247.0 345.0,245.0 343.0,244.8 344.7,243.7 343.5,242.0 345.5,242.7 346.1,240.7 346.8,242.7 348.7,241.9 347.6,243.6" fill="#45613a"/>
<circle cx="346.2" cy="244.0" r="1.5" fill="#5d7d45"/>
<line x1="327.6" y1="237.0" x2="327.6" y2="251.5" stroke="#3d5230" stroke-width="0.9" opacity="0.55"/>
<ellipse cx="361.9" cy="246.7" rx="3.2" ry="3.6" fill="#2f4026" opacity="0.3"/>
<polygon points="364.6,241.3 364.7,243.5 367.0,243.3 365.3,244.8 366.9,246.4 364.7,246.0 364.4,248.3 363.3,246.3 361.4,247.5 362.2,245.4 360.1,244.6 362.3,244.0 361.6,241.9 363.4,243.2" fill="#45613a"/>
<circle cx="363.7" cy="244.7" r="1.6" fill="#5d7d45"/>
<ellipse cx="349.6" cy="252.4" rx="2.5" ry="2.8" fill="#2f4026" opacity="0.3"/>
<polygon points="352.7,247.9 352.4,249.7 354.1,249.9 352.6,250.8 353.5,252.3 351.8,251.6 351.2,253.2 350.7,251.5 349.1,252.1 350.1,250.6 348.6,249.6 350.4,249.6 350.3,247.8 351.4,249.1" fill="#45613a"/>
<circle cx="351.4" cy="250.4" r="1.3" fill="#5d7d45"/>
<line x1="345.9" y1="237.0" x2="345.9" y2="251.5" stroke="#3d5230" stroke-width="0.9" opacity="0.55"/>
<ellipse cx="378.5" cy="243.4" rx="3.6" ry="4.0" fill="#2f4026" opacity="0.3"/>
<polygon points="376.6,242.8 378.6,241.2 377.0,239.3 379.4,239.9 379.9,237.5 380.9,239.8 383.1,238.6 382.0,240.9 384.3,241.9 381.9,242.4 382.5,244.8 380.5,243.2 379.0,245.2 379.1,242.7" fill="#45613a"/>
<circle cx="380.3" cy="241.4" r="1.8" fill="#5d7d45"/>
<line x1="364.2" y1="237.0" x2="364.2" y2="251.5" stroke="#3d5230" stroke-width="0.9" opacity="0.55"/>
<ellipse cx="398.9" cy="249.2" rx="3.6" ry="4.0" fill="#2f4026" opacity="0.3"/>
<polygon points="402.0,251.0 400.5,249.0 398.5,250.6 399.1,248.1 396.7,247.6 399.0,246.6 397.9,244.3 400.1,245.5 401.2,243.2 401.7,245.7 404.1,245.1 402.5,247.0 404.5,248.6 402.0,248.5" fill="#45613a"/>
<circle cx="400.7" cy="247.2" r="1.8" fill="#5d7d45"/>
<line x1="382.6" y1="237.0" x2="382.6" y2="251.5" stroke="#3d5230" stroke-width="0.9" opacity="0.55"/>
<ellipse cx="414.9" cy="246.1" rx="3.7" ry="4.1" fill="#2f4026" opacity="0.3"/>
<polygon points="418.4,247.8 416.7,246.0 414.9,247.8 415.2,245.3 412.7,245.0 414.9,243.7 413.5,241.6 415.9,242.5 416.7,240.1 417.5,242.5 419.8,241.6 418.4,243.7 420.6,245.0 418.1,245.3" fill="#45613a"/>
<circle cx="416.7" cy="244.1" r="1.8" fill="#5d7d45"/>
<ellipse cx="406.1" cy="252.9" rx="2.9" ry="3.2" fill="#2f4026" opacity="0.3"/>
<polygon points="405.4,248.8 407.3,249.6 408.0,247.7 408.6,249.6 410.5,249.0 409.3,250.6 411.0,251.7 409.0,251.8 409.1,253.9 407.8,252.3 406.3,253.7 406.7,251.7 404.7,251.5 406.5,250.5" fill="#45613a"/>
<circle cx="407.9" cy="250.9" r="1.4" fill="#5d7d45"/>
<line x1="401.0" y1="237.0" x2="401.0" y2="251.5" stroke="#3d5230" stroke-width="0.9" opacity="0.55"/>
<ellipse cx="434.4" cy="248.1" rx="3.9" ry="4.3" fill="#2f4026" opacity="0.3"/>
<polygon points="439.8,248.4 437.2,247.8 436.7,250.4 435.5,248.0 433.2,249.2 434.3,246.8 431.9,245.7 434.5,245.1 433.8,242.5 435.9,244.2 437.5,242.1 437.5,244.8 440.2,244.7 438.1,246.3" fill="#45613a"/>
<circle cx="436.2" cy="246.1" r="1.9" fill="#5d7d45"/>
<line x1="419.3" y1="237.0" x2="419.3" y2="251.5" stroke="#3d5230" stroke-width="0.9" opacity="0.55"/>
<ellipse cx="451.9" cy="246.0" rx="3.6" ry="4.0" fill="#2f4026" opacity="0.3"/>
<polygon points="457.0,241.9 455.5,243.8 457.5,245.3 455.0,245.3 455.0,247.7 453.5,245.8 451.6,247.4 452.2,245.0 449.8,244.5 452.0,243.4 450.9,241.2 453.1,242.3 454.1,240.1 454.6,242.5" fill="#45613a"/>
<circle cx="453.7" cy="244.0" r="1.8" fill="#5d7d45"/>
<line x1="437.6" y1="237.0" x2="437.6" y2="251.5" stroke="#3d5230" stroke-width="0.9" opacity="0.55"/>
<ellipse cx="472.5" cy="248.2" rx="3.9" ry="4.3" fill="#2f4026" opacity="0.3"/>
<polygon points="470.1,247.2 472.4,245.7 470.9,243.5 473.5,244.4 474.3,241.8 475.2,244.4 477.7,243.5 476.2,245.7 478.5,247.1 475.8,247.4 476.2,250.1 474.3,248.1 472.5,250.1 472.8,247.4" fill="#45613a"/>
<circle cx="474.3" cy="246.2" r="1.9" fill="#5d7d45"/>
<line x1="456.0" y1="237.0" x2="456.0" y2="251.5" stroke="#3d5230" stroke-width="0.9" opacity="0.55"/>
<ellipse cx="490.4" cy="248.3" rx="3.6" ry="4.0" fill="#2f4026" opacity="0.3"/>
<polygon points="491.4,242.4 492.6,244.6 494.7,243.2 493.8,245.6 496.2,246.4 493.8,247.1 494.6,249.5 492.6,248.1 491.2,250.2 491.1,247.7 488.6,248.0 490.4,246.3 488.6,244.5 491.1,244.9" fill="#45613a"/>
<circle cx="492.2" cy="246.3" r="1.8" fill="#5d7d45"/>
<ellipse cx="483.3" cy="253.5" rx="3.2" ry="3.6" fill="#2f4026" opacity="0.3"/>
<polygon points="481.7,250.6 483.9,250.4 483.6,248.2 485.2,249.8 486.7,248.2 486.4,250.5 488.6,250.7 486.7,251.8 487.9,253.7 485.8,252.9 485.1,255.0 484.4,252.9 482.3,253.7 483.6,251.8" fill="#45613a"/>
<circle cx="485.1" cy="251.5" r="1.6" fill="#5d7d45"/>
<line x1="474.4" y1="237.0" x2="474.4" y2="251.5" stroke="#3d5230" stroke-width="0.9" opacity="0.55"/>
<ellipse cx="507.5" cy="248.9" rx="3.8" ry="4.2" fill="#2f4026" opacity="0.3"/>
<polygon points="506.9,250.3 507.7,247.8 505.1,247.1 507.6,246.2 506.5,243.7 508.8,245.1 510.0,242.7 510.4,245.3 513.0,244.8 511.2,246.8 513.2,248.5 510.6,248.3 510.5,250.9 509.0,248.8" fill="#45613a"/>
<circle cx="509.3" cy="246.9" r="1.9" fill="#5d7d45"/>
<ellipse cx="498.5" cy="252.6" rx="3.1" ry="3.4" fill="#2f4026" opacity="0.3"/>
<polygon points="496.9,250.9 498.9,250.0 497.9,248.1 499.8,249.1 500.8,247.2 501.1,249.3 503.2,248.9 501.8,250.5 503.5,251.8 501.3,251.7 501.3,253.9 500.1,252.1 498.4,253.4 499.0,251.4" fill="#45613a"/>
<circle cx="500.3" cy="250.6" r="1.5" fill="#5d7d45"/>
<line x1="492.7" y1="237.0" x2="492.7" y2="251.5" stroke="#3d5230" stroke-width="0.9" opacity="0.55"/>
<ellipse cx="527.4" cy="243.6" rx="3.7" ry="4.2" fill="#2f4026" opacity="0.3"/>
<polygon points="531.1,245.2 529.2,243.4 527.5,245.4 527.7,242.8 525.1,242.6 527.3,241.2 525.8,239.1 528.3,239.9 529.0,237.4 529.9,239.8 532.3,238.8 531.0,241.1 533.2,242.3 530.7,242.7" fill="#45613a"/>
<circle cx="529.2" cy="241.6" r="1.9" fill="#5d7d45"/>
<line x1="511.0" y1="237.0" x2="511.0" y2="251.5" stroke="#3d5230" stroke-width="0.9" opacity="0.55"/>
<ellipse cx="543.7" cy="244.1" rx="3.4" ry="3.8" fill="#2f4026" opacity="0.3"/>
<polygon points="544.9,238.3 546.0,240.4 548.0,239.2 547.1,241.4 549.3,242.3 547.0,242.9 547.7,245.2 545.8,243.8 544.4,245.8 544.4,243.4 542.0,243.5 543.8,242.0 542.2,240.2 544.5,240.7" fill="#45613a"/>
<circle cx="545.5" cy="242.1" r="1.7" fill="#5d7d45"/>
<line x1="529.4" y1="237.0" x2="529.4" y2="251.5" stroke="#3d5230" stroke-width="0.9" opacity="0.55"/>
<ellipse cx="564.5" cy="246.3" rx="3.9" ry="4.3" fill="#2f4026" opacity="0.3"/>
<polygon points="570.0,246.5 567.3,245.9 566.8,248.6 565.7,246.1 563.3,247.4 564.4,244.9 561.9,243.9 564.6,243.2 563.9,240.6 566.0,242.3 567.6,240.1 567.6,242.8 570.3,242.7 568.2,244.4" fill="#45613a"/>
<circle cx="566.3" cy="244.3" r="2.0" fill="#5d7d45"/>
<ellipse cx="554.1" cy="252.1" rx="3.0" ry="3.4" fill="#2f4026" opacity="0.3"/>
<polygon points="553.8,247.5 555.6,248.6 556.6,246.8 556.9,248.9 558.9,248.5 557.5,250.0 559.0,251.5 556.9,251.2 556.8,253.4 555.6,251.6 553.9,252.8 554.6,250.8 552.6,250.2 554.5,249.5" fill="#45613a"/>
<circle cx="555.9" cy="250.1" r="1.5" fill="#5d7d45"/>
<line x1="547.8" y1="237.0" x2="547.8" y2="251.5" stroke="#3d5230" stroke-width="0.9" opacity="0.55"/>
<ellipse cx="582.5" cy="246.7" rx="3.2" ry="3.6" fill="#2f4026" opacity="0.3"/>
<polygon points="581.7,247.1 582.8,245.2 580.8,244.1 583.0,243.8 582.5,241.6 584.2,243.1 585.6,241.4 585.5,243.6 587.7,243.6 585.9,244.9 587.3,246.7 585.1,246.1 584.6,248.2 583.7,246.2" fill="#45613a"/>
<circle cx="584.3" cy="244.7" r="1.6" fill="#5d7d45"/>
<line x1="566.1" y1="237.0" x2="566.1" y2="251.5" stroke="#3d5230" stroke-width="0.9" opacity="0.55"/>
<ellipse cx="593.1" cy="253.4" rx="2.9" ry="3.2" fill="#2f4026" opacity="0.3"/>
<polygon points="592.0,250.0 594.0,250.3 594.2,248.3 595.2,250.0 596.9,248.9 596.2,250.8 598.1,251.5 596.2,252.1 596.9,254.0 595.2,252.9 594.2,254.6 594.0,252.6 592.0,252.8 593.5,251.4" fill="#45613a"/>
<circle cx="594.9" cy="251.4" r="1.4" fill="#5d7d45"/>
<line x1="584.5" y1="237.0" x2="584.5" y2="251.5" stroke="#3d5230" stroke-width="0.9" opacity="0.55"/>
<ellipse cx="618.3" cy="246.3" rx="3.5" ry="3.9" fill="#2f4026" opacity="0.3"/>
<polygon points="623.9,245.0 621.5,245.4 622.0,247.8 620.2,246.1 618.6,247.9 618.8,245.5 616.3,245.4 618.3,244.0 616.9,242.0 619.2,242.8 619.9,240.4 620.8,242.7 623.0,241.7 621.8,243.8" fill="#45613a"/>
<circle cx="620.1" cy="244.3" r="1.8" fill="#5d7d45"/>
<line x1="602.8" y1="237.0" x2="602.8" y2="251.5" stroke="#3d5230" stroke-width="0.9" opacity="0.55"/>
<ellipse cx="636.2" cy="248.2" rx="3.5" ry="3.9" fill="#2f4026" opacity="0.3"/>
<polygon points="634.2,246.4 636.4,245.5 635.4,243.3 637.5,244.5 638.7,242.4 639.0,244.8 641.4,244.3 639.8,246.1 641.6,247.7 639.2,247.5 639.1,249.9 637.7,247.9 635.8,249.4 636.5,247.0" fill="#45613a"/>
<circle cx="638.0" cy="246.2" r="1.7" fill="#5d7d45"/>
<line x1="621.2" y1="237.0" x2="621.2" y2="251.5" stroke="#3d5230" stroke-width="0.9" opacity="0.55"/>
<ellipse cx="655.0" cy="245.8" rx="3.9" ry="4.3" fill="#2f4026" opacity="0.3"/>
<polygon points="660.6,241.7 658.7,243.7 660.8,245.5 658.1,245.2 657.9,248.0 656.4,245.7 654.2,247.2 655.1,244.7 652.4,243.9 655.0,243.0 654.0,240.5 656.3,241.9 657.6,239.5 658.0,242.2" fill="#45613a"/>
<circle cx="656.8" cy="243.8" r="2.0" fill="#5d7d45"/>
<ellipse cx="645.5" cy="251.8" rx="2.8" ry="3.1" fill="#2f4026" opacity="0.3"/>
<polygon points="648.6,246.9 648.4,248.8 650.4,248.9 648.7,250.0 649.8,251.6 648.0,251.0 647.4,252.9 646.7,251.1 644.9,251.8 645.9,250.1 644.2,249.2 646.2,248.9 645.8,247.0 647.3,248.3" fill="#45613a"/>
<circle cx="647.3" cy="249.8" r="1.4" fill="#5d7d45"/>
<line x1="639.5" y1="237.0" x2="639.5" y2="251.5" stroke="#3d5230" stroke-width="0.9" opacity="0.55"/>
<line x1="657.9" y1="237.0" x2="657.9" y2="251.5" stroke="#3d5230" stroke-width="0.9" opacity="0.55"/>
<ellipse cx="690.6" cy="247.0" rx="3.9" ry="4.3" fill="#2f4026" opacity="0.3"/>
<polygon points="695.4,248.2 693.0,246.9 691.8,249.3 691.4,246.7 688.7,247.2 690.5,245.2 688.4,243.5 691.1,243.6 691.1,240.9 692.7,243.1 694.8,241.5 694.1,244.1 696.7,244.7 694.3,245.7" fill="#45613a"/>
<circle cx="692.4" cy="245.0" r="1.9" fill="#5d7d45"/>
<line x1="676.2" y1="237.0" x2="676.2" y2="251.5" stroke="#3d5230" stroke-width="0.9" opacity="0.55"/>
<ellipse cx="709.0" cy="244.6" rx="3.6" ry="4.0" fill="#2f4026" opacity="0.3"/>
<polygon points="709.1,246.2 709.4,243.7 706.9,243.5 709.0,242.2 707.7,240.1 710.0,240.9 710.8,238.6 711.6,241.0 714.0,240.1 712.6,242.2 714.7,243.5 712.2,243.7 712.5,246.2 710.8,244.4" fill="#45613a"/>
<circle cx="710.8" cy="242.6" r="1.8" fill="#5d7d45"/>
<line x1="694.5" y1="237.0" x2="694.5" y2="251.5" stroke="#3d5230" stroke-width="0.9" opacity="0.55"/>
<ellipse cx="727.1" cy="247.8" rx="3.0" ry="3.3" fill="#2f4026" opacity="0.3"/>
<polygon points="725.5,245.5 727.6,245.0 727.0,243.0 728.6,244.3 729.8,242.5 729.9,244.6 732.0,244.5 730.4,245.9 731.8,247.4 729.8,247.0 729.4,249.1 728.5,247.2 726.6,248.2 727.5,246.3" fill="#45613a"/>
<circle cx="728.9" cy="245.8" r="1.5" fill="#5d7d45"/>
<ellipse cx="717.0" cy="252.6" rx="2.8" ry="3.1" fill="#2f4026" opacity="0.3"/>
<polygon points="716.5,252.8 717.4,251.0 715.7,250.2 717.6,249.8 717.1,247.9 718.6,249.2 719.8,247.6 719.8,249.6 721.8,249.5 720.2,250.7 721.4,252.2 719.5,251.8 719.1,253.7 718.3,251.9" fill="#45613a"/>
<circle cx="718.8" cy="250.6" r="1.4" fill="#5d7d45"/>
<line x1="712.9" y1="237.0" x2="712.9" y2="251.5" stroke="#3d5230" stroke-width="0.9" opacity="0.55"/>
<ellipse cx="746.7" cy="244.2" rx="3.1" ry="3.4" fill="#2f4026" opacity="0.3"/>
<polygon points="746.2,239.6 748.1,240.7 749.0,238.7 749.4,240.9 751.5,240.4 750.1,242.0 751.7,243.4 749.6,243.3 749.5,245.4 748.3,243.7 746.6,245.0 747.2,242.9 745.1,242.4 747.1,241.6" fill="#45613a"/>
<circle cx="748.5" cy="242.2" r="1.6" fill="#5d7d45"/>
<line x1="731.2" y1="237.0" x2="731.2" y2="251.5" stroke="#3d5230" stroke-width="0.9" opacity="0.55"/>
<ellipse cx="765.9" cy="247.0" rx="3.8" ry="4.2" fill="#2f4026" opacity="0.3"/>
<polygon points="768.1,249.2 767.0,246.8 764.7,248.0 765.9,245.6 763.5,244.5 766.0,244.0 765.4,241.4 767.4,243.1 769.1,241.0 769.0,243.7 771.6,243.6 769.5,245.2 771.2,247.3 768.7,246.6" fill="#45613a"/>
<circle cx="767.7" cy="245.0" r="1.9" fill="#5d7d45"/>
<line x1="749.6" y1="237.0" x2="749.6" y2="251.5" stroke="#3d5230" stroke-width="0.9" opacity="0.55"/>
<ellipse cx="293.9" cy="271.4" rx="3.2" ry="3.6" fill="#2f4026" opacity="0.3"/>
<polygon points="298.9,267.7 297.3,269.3 299.0,270.8 296.8,270.6 296.6,272.8 295.4,271.0 293.6,272.3 294.3,270.1 292.1,269.5 294.2,268.7 293.4,266.7 295.3,267.8 296.4,265.9 296.7,268.1" fill="#45613a"/>
<circle cx="295.7" cy="269.4" r="1.6" fill="#5d7d45"/>
<ellipse cx="281.2" cy="279.8" rx="2.6" ry="2.9" fill="#2f4026" opacity="0.3"/>
<polygon points="283.2,280.7 282.5,279.0 280.8,279.7 281.7,278.2 280.1,277.3 281.9,277.0 281.6,275.2 282.9,276.5 284.1,275.1 284.0,276.9 285.8,276.9 284.3,278.0 285.4,279.4 283.6,278.9" fill="#45613a"/>
<circle cx="283.0" cy="277.8" r="1.3" fill="#5d7d45"/>
<line x1="271.5" y1="263.0" x2="271.5" y2="278.0" stroke="#3d5230" stroke-width="0.9" opacity="0.55"/>
<ellipse cx="316.0" cy="269.9" rx="3.8" ry="4.2" fill="#2f4026" opacity="0.3"/>
<polygon points="314.1,269.9 315.9,268.0 313.9,266.3 316.5,266.5 316.7,263.9 318.1,266.1 320.2,264.5 319.4,267.0 322.0,267.8 319.5,268.7 320.5,271.1 318.3,269.8 317.0,272.1 316.7,269.5" fill="#45613a"/>
<circle cx="317.8" cy="267.9" r="1.9" fill="#5d7d45"/>
<line x1="301.5" y1="263.0" x2="301.5" y2="278.0" stroke="#3d5230" stroke-width="0.9" opacity="0.55"/>
<ellipse cx="334.9" cy="273.8" rx="2.9" ry="3.2" fill="#2f4026" opacity="0.3"/>
<polygon points="337.7,274.9 336.5,273.3 334.9,274.5 335.5,272.6 333.5,272.1 335.4,271.3 334.5,269.5 336.3,270.4 337.2,268.6 337.5,270.6 339.5,270.2 338.2,271.7 339.7,273.0 337.7,272.9" fill="#45613a"/>
<circle cx="336.7" cy="271.8" r="1.4" fill="#5d7d45"/>
<line x1="319.5" y1="263.0" x2="319.5" y2="278.0" stroke="#3d5230" stroke-width="0.9" opacity="0.55"/>
<line x1="338.5" y1="263.0" x2="338.5" y2="278.0" stroke="#3d5230" stroke-width="0.9" opacity="0.55"/>
<ellipse cx="371.7" cy="274.3" rx="3.4" ry="3.8" fill="#2f4026" opacity="0.3"/>
<polygon points="372.0,268.8 373.6,270.6 375.3,269.0 374.9,271.3 377.3,271.6 375.2,272.8 376.4,274.8 374.2,273.9 373.4,276.1 372.7,273.8 370.4,274.5 371.8,272.6 369.8,271.3 372.2,271.2" fill="#45613a"/>
<circle cx="373.5" cy="272.3" r="1.7" fill="#5d7d45"/>
<ellipse cx="360.7" cy="278.2" rx="2.5" ry="2.8" fill="#2f4026" opacity="0.3"/>
<polygon points="359.8,275.3 361.6,275.3 361.5,273.6 362.6,274.9 364.0,273.8 363.6,275.5 365.3,275.9 363.7,276.6 364.5,278.2 362.9,277.4 362.2,279.0 361.8,277.3 360.1,277.8 361.2,276.4" fill="#45613a"/>
<circle cx="362.5" cy="276.2" r="1.3" fill="#5d7d45"/>
<line x1="357.5" y1="263.0" x2="357.5" y2="278.0" stroke="#3d5230" stroke-width="0.9" opacity="0.55"/>
<ellipse cx="389.4" cy="270.3" rx="3.1" ry="3.4" fill="#2f4026" opacity="0.3"/>
<polygon points="392.2,271.5 391.0,269.8 389.3,271.1 389.9,269.0 387.8,268.5 389.8,267.7 388.9,265.7 390.8,266.8 391.7,264.9 392.1,267.0 394.2,266.6 392.7,268.2 394.4,269.5 392.2,269.4" fill="#45613a"/>
<circle cx="391.2" cy="268.3" r="1.5" fill="#5d7d45"/>
<line x1="373.5" y1="263.0" x2="373.5" y2="278.0" stroke="#3d5230" stroke-width="0.9" opacity="0.55"/>
<line x1="392.5" y1="263.0" x2="392.5" y2="278.0" stroke="#3d5230" stroke-width="0.9" opacity="0.55"/>
<ellipse cx="436.9" cy="275.6" rx="3.4" ry="3.8" fill="#2f4026" opacity="0.3"/>
<polygon points="439.1,269.8 439.6,272.1 441.9,271.5 440.4,273.4 442.3,274.7 440.0,274.7 440.1,277.1 438.6,275.3 436.8,276.8 437.3,274.5 435.0,274.1 437.1,273.1 436.0,271.0 438.1,272.0" fill="#45613a"/>
<circle cx="438.7" cy="273.6" r="1.7" fill="#5d7d45"/>
<line x1="419.0" y1="263.0" x2="419.0" y2="278.0" stroke="#3d5230" stroke-width="0.9" opacity="0.55"/>
<ellipse cx="462.5" cy="272.1" rx="3.5" ry="3.9" fill="#2f4026" opacity="0.3"/>
<polygon points="468.3,270.5 465.9,271.0 466.5,273.4 464.6,271.9 463.2,273.9 463.1,271.4 460.7,271.5 462.6,270.0 461.0,268.1 463.4,268.7 463.8,266.3 464.9,268.5 467.0,267.3 466.0,269.5" fill="#45613a"/>
<circle cx="464.3" cy="270.1" r="1.8" fill="#5d7d45"/>
<line x1="445.1" y1="263.0" x2="445.1" y2="278.0" stroke="#3d5230" stroke-width="0.9" opacity="0.55"/>
<ellipse cx="480.7" cy="272.3" rx="3.7" ry="4.1" fill="#2f4026" opacity="0.3"/>
<polygon points="479.2,272.6 480.7,270.6 478.6,269.1 481.2,269.0 481.1,266.5 482.7,268.5 484.6,266.8 484.1,269.3 486.6,269.7 484.3,270.8 485.5,273.1 483.2,272.0 482.2,274.4 481.6,271.9" fill="#45613a"/>
<circle cx="482.5" cy="270.3" r="1.8" fill="#5d7d45"/>
<ellipse cx="471.4" cy="279.0" rx="2.5" ry="2.8" fill="#2f4026" opacity="0.3"/>
<polygon points="475.4,275.3 474.4,276.7 475.9,277.6 474.1,277.8 474.4,279.6 473.2,278.3 471.9,279.6 472.2,277.8 470.4,277.7 471.9,276.7 471.0,275.3 472.6,275.9 473.2,274.2 473.7,275.9" fill="#45613a"/>
<circle cx="473.2" cy="277.0" r="1.3" fill="#5d7d45"/>
<line x1="467.5" y1="263.0" x2="467.5" y2="278.0" stroke="#3d5230" stroke-width="0.9" opacity="0.55"/>
<ellipse cx="500.8" cy="275.0" rx="3.6" ry="4.0" fill="#2f4026" opacity="0.3"/>
<polygon points="499.4,275.2 500.9,273.3 498.8,271.8 501.3,271.8 501.2,269.3 502.7,271.2 504.6,269.5 504.1,272.0 506.5,272.4 504.3,273.5 505.5,275.7 503.3,274.6 502.3,276.9 501.7,274.5" fill="#45613a"/>
<circle cx="502.6" cy="273.0" r="1.8" fill="#5d7d45"/>
<line x1="483.5" y1="263.0" x2="483.5" y2="278.0" stroke="#3d5230" stroke-width="0.9" opacity="0.55"/>
<ellipse cx="520.9" cy="274.6" rx="3.2" ry="3.5" fill="#2f4026" opacity="0.3"/>
<polygon points="525.7,270.7 524.3,272.4 526.0,273.8 523.8,273.7 523.9,275.9 522.5,274.2 520.8,275.6 521.4,273.5 519.2,273.0 521.2,272.1 520.2,270.1 522.2,271.1 523.1,269.1 523.5,271.3" fill="#45613a"/>
<circle cx="522.7" cy="272.6" r="1.6" fill="#5d7d45"/>
<line x1="504.5" y1="263.0" x2="504.5" y2="278.0" stroke="#3d5230" stroke-width="0.9" opacity="0.55"/>
<ellipse cx="538.4" cy="272.0" rx="3.8" ry="4.3" fill="#2f4026" opacity="0.3"/>
<polygon points="543.3,267.0 542.0,269.4 544.4,270.6 541.8,271.0 542.4,273.7 540.4,271.9 538.7,274.0 538.8,271.3 536.1,271.3 538.3,269.7 536.6,267.6 539.2,268.3 539.8,265.7 540.9,268.2" fill="#45613a"/>
<circle cx="540.2" cy="270.0" r="1.9" fill="#5d7d45"/>
<line x1="522.0" y1="263.0" x2="522.0" y2="278.0" stroke="#3d5230" stroke-width="0.9" opacity="0.55"/>
<ellipse cx="555.5" cy="272.0" rx="3.7" ry="4.1" fill="#2f4026" opacity="0.3"/>
<polygon points="561.0,271.7 558.4,271.4 558.2,273.9 556.9,271.8 554.8,273.2 555.7,270.8 553.2,270.0 555.6,269.2 554.7,266.8 556.9,268.2 558.2,266.0 558.4,268.5 560.9,268.2 559.1,270.0" fill="#45613a"/>
<circle cx="557.3" cy="270.0" r="1.8" fill="#5d7d45"/>
<line x1="540.5" y1="263.0" x2="540.5" y2="278.0" stroke="#3d5230" stroke-width="0.9" opacity="0.55"/>
<ellipse cx="571.7" cy="271.6" rx="3.6" ry="4.0" fill="#2f4026" opacity="0.3"/>
<polygon points="570.7,266.9 572.9,268.0 573.9,265.7 574.5,268.1 576.9,267.5 575.3,269.4 577.3,270.9 574.8,270.9 574.9,273.4 573.3,271.4 571.4,273.0 572.0,270.6 569.6,270.1 571.8,269.1" fill="#45613a"/>
<circle cx="573.5" cy="269.6" r="1.8" fill="#5d7d45"/>
<ellipse cx="565.8" cy="279.3" rx="2.8" ry="3.1" fill="#2f4026" opacity="0.3"/>
<polygon points="566.0,274.7 567.4,276.0 568.6,274.4 568.6,276.3 570.5,276.3 569.0,277.5 570.2,278.9 568.4,278.5 568.0,280.4 567.2,278.6 565.5,279.5 566.3,277.8 564.6,277.0 566.4,276.6" fill="#45613a"/>
<circle cx="567.6" cy="277.3" r="1.4" fill="#5d7d45"/>
<line x1="556.5" y1="263.0" x2="556.5" y2="278.0" stroke="#3d5230" stroke-width="0.9" opacity="0.55"/>
<ellipse cx="591.8" cy="271.9" rx="4.0" ry="4.4" fill="#2f4026" opacity="0.3"/>
<polygon points="590.8,266.4 593.1,267.9 594.6,265.6 594.8,268.3 597.6,267.9 595.6,269.9 597.6,271.8 594.8,271.4 594.6,274.2 593.2,271.8 590.9,273.3 591.8,270.7 589.2,269.9 591.8,269.0" fill="#45613a"/>
<circle cx="593.6" cy="269.9" r="2.0" fill="#5d7d45"/>
<line x1="577.5" y1="263.0" x2="577.5" y2="278.0" stroke="#3d5230" stroke-width="0.9" opacity="0.55"/>
<ellipse cx="614.5" cy="269.5" rx="3.5" ry="3.9" fill="#2f4026" opacity="0.3"/>
<polygon points="616.0,263.5 616.9,265.8 619.2,264.8 618.0,266.9 620.2,268.0 617.8,268.5 618.3,270.9 616.4,269.2 614.8,271.1 615.0,268.7 612.5,268.6 614.5,267.2 613.0,265.2 615.4,265.9" fill="#45613a"/>
<circle cx="616.3" cy="267.5" r="1.8" fill="#5d7d45"/>
<ellipse cx="599.0" cy="278.1" rx="2.7" ry="3.0" fill="#2f4026" opacity="0.3"/>
<polygon points="598.7,278.2 599.6,276.5 597.9,275.8 599.7,275.4 599.2,273.6 600.7,274.8 601.8,273.3 601.8,275.2 603.6,275.1 602.1,276.3 603.3,277.7 601.5,277.2 601.1,279.0 600.4,277.4" fill="#45613a"/>
<circle cx="600.8" cy="276.1" r="1.3" fill="#5d7d45"/>
<line x1="593.5" y1="263.0" x2="593.5" y2="278.0" stroke="#3d5230" stroke-width="0.9" opacity="0.55"/>
<ellipse cx="640.3" cy="275.3" rx="3.5" ry="3.9" fill="#2f4026" opacity="0.3"/>
<polygon points="638.2,273.1 640.6,272.5 639.8,270.1 641.8,271.6 643.1,269.6 643.2,272.0 645.7,271.8 643.8,273.4 645.5,275.1 643.1,274.7 642.8,277.1 641.6,275.0 639.6,276.2 640.5,274.0" fill="#45613a"/>
<circle cx="642.1" cy="273.3" r="1.7" fill="#5d7d45"/>
<line x1="620.2" y1="263.0" x2="620.2" y2="278.0" stroke="#3d5230" stroke-width="0.9" opacity="0.55"/>
<ellipse cx="666.5" cy="273.5" rx="3.8" ry="4.2" fill="#2f4026" opacity="0.3"/>
<polygon points="672.0,273.4 669.4,273.0 669.1,275.6 667.8,273.3 665.6,274.7 666.6,272.3 664.1,271.4 666.6,270.6 665.8,268.2 667.9,269.7 669.3,267.5 669.5,270.1 672.1,269.8 670.2,271.6" fill="#45613a"/>
<circle cx="668.3" cy="271.5" r="1.9" fill="#5d7d45"/>
<line x1="649.5" y1="263.0" x2="649.5" y2="278.0" stroke="#3d5230" stroke-width="0.9" opacity="0.55"/>
<ellipse cx="682.1" cy="275.4" rx="3.1" ry="3.4" fill="#2f4026" opacity="0.3"/>
<polygon points="680.6,274.0 682.5,273.0 681.4,271.2 683.3,272.0 684.1,270.1 684.7,272.1 686.7,271.4 685.4,273.2 687.2,274.3 685.1,274.4 685.3,276.6 683.9,275.0 682.3,276.4 682.7,274.3" fill="#45613a"/>
<circle cx="683.9" cy="273.4" r="1.5" fill="#5d7d45"/>
<ellipse cx="674.3" cy="279.2" rx="2.6" ry="2.8" fill="#2f4026" opacity="0.3"/>
<polygon points="678.7,276.3 677.3,277.4 678.5,278.7 676.8,278.3 676.4,280.0 675.7,278.4 674.1,279.3 674.9,277.7 673.2,276.9 675.0,276.6 674.5,274.8 675.9,276.0 677.0,274.5 677.0,276.3" fill="#45613a"/>
<circle cx="676.1" cy="277.2" r="1.3" fill="#5d7d45"/>
<line x1="668.1" y1="263.0" x2="668.1" y2="278.0" stroke="#3d5230" stroke-width="0.9" opacity="0.55"/>
<ellipse cx="701.8" cy="273.2" rx="3.3" ry="3.6" fill="#2f4026" opacity="0.3"/>
<polygon points="702.8,274.8 702.6,272.5 700.3,272.8 701.9,271.2 700.3,269.7 702.6,270.0 702.8,267.7 703.9,269.6 705.8,268.4 705.1,270.5 707.2,271.2 705.1,272.0 705.9,274.1 703.9,272.8" fill="#45613a"/>
<circle cx="703.6" cy="271.2" r="1.6" fill="#5d7d45"/>
<line x1="686.5" y1="263.0" x2="686.5" y2="278.0" stroke="#3d5230" stroke-width="0.9" opacity="0.55"/>
<ellipse cx="719.4" cy="274.0" rx="3.2" ry="3.6" fill="#2f4026" opacity="0.3"/>
<polygon points="724.7,272.3 722.5,272.8 723.1,275.0 721.4,273.6 720.1,275.4 720.0,273.2 717.8,273.3 719.6,271.9 718.1,270.2 720.3,270.7 720.7,268.5 721.6,270.5 723.6,269.5 722.6,271.5" fill="#45613a"/>
<circle cx="721.2" cy="272.0" r="1.6" fill="#5d7d45"/>
<ellipse cx="707.5" cy="278.3" rx="3.1" ry="3.4" fill="#2f4026" opacity="0.3"/>
<polygon points="706.7,278.5 707.8,276.7 706.0,275.6 708.1,275.4 707.8,273.3 709.3,274.8 710.7,273.2 710.5,275.3 712.6,275.5 710.8,276.6 712.0,278.4 710.0,277.7 709.4,279.7 708.7,277.7" fill="#45613a"/>
<circle cx="709.3" cy="276.3" r="1.5" fill="#5d7d45"/>
<line x1="704.5" y1="263.0" x2="704.5" y2="278.0" stroke="#3d5230" stroke-width="0.9" opacity="0.55"/>
<line x1="723.1" y1="263.0" x2="723.1" y2="278.0" stroke="#3d5230" stroke-width="0.9" opacity="0.55"/>
<ellipse cx="757.7" cy="275.5" rx="3.0" ry="3.3" fill="#2f4026" opacity="0.3"/>
<polygon points="762.2,271.7 760.9,273.3 762.6,274.5 760.5,274.5 760.7,276.6 759.4,275.0 757.8,276.4 758.2,274.4 756.2,274.0 758.1,273.1 757.1,271.3 758.9,272.2 759.7,270.3 760.2,272.3" fill="#45613a"/>
<circle cx="759.5" cy="273.5" r="1.5" fill="#5d7d45"/>
<line x1="741.5" y1="263.0" x2="741.5" y2="278.0" stroke="#3d5230" stroke-width="0.9" opacity="0.55"/>
<ellipse cx="775.1" cy="270.9" rx="3.4" ry="3.8" fill="#2f4026" opacity="0.3"/>
<polygon points="780.4,267.4 778.6,269.0 780.3,270.7 777.9,270.3 777.6,272.7 776.4,270.6 774.4,271.8 775.3,269.6 773.1,268.7 775.4,268.1 774.7,265.8 776.6,267.2 778.0,265.2 778.1,267.6" fill="#45613a"/>
<circle cx="776.9" cy="268.9" r="1.7" fill="#5d7d45"/>
<line x1="758.5" y1="263.0" x2="758.5" y2="278.0" stroke="#3d5230" stroke-width="0.9" opacity="0.55"/>
<ellipse cx="289.1" cy="295.1" rx="3.5" ry="3.9" fill="#2f4026" opacity="0.3"/>
<polygon points="293.9,295.7 291.6,294.7 290.7,297.0 290.1,294.6 287.8,295.4 289.2,293.4 287.2,292.0 289.6,291.9 289.4,289.5 291.0,291.3 292.8,289.6 292.4,292.1 294.8,292.4 292.6,293.6" fill="#45613a"/>
<circle cx="290.9" cy="293.1" r="1.8" fill="#5d7d45"/>
<line x1="271.5" y1="283.0" x2="271.5" y2="298.5" stroke="#3d5230" stroke-width="0.9" opacity="0.55"/>
<ellipse cx="306.3" cy="289.8" rx="3.5" ry="3.8" fill="#2f4026" opacity="0.3"/>
<polygon points="310.8,290.5 308.7,289.4 307.7,291.6 307.2,289.3 304.9,289.9 306.4,288.0 304.5,286.6 306.9,286.6 306.8,284.2 308.3,286.1 310.1,284.6 309.6,286.9 311.9,287.4 309.7,288.4" fill="#45613a"/>
<circle cx="308.1" cy="287.8" r="1.7" fill="#5d7d45"/>
<line x1="291.5" y1="283.0" x2="291.5" y2="298.5" stroke="#3d5230" stroke-width="0.9" opacity="0.55"/>
<ellipse cx="326.1" cy="291.3" rx="3.5" ry="3.9" fill="#2f4026" opacity="0.3"/>
<polygon points="324.5,291.2 326.1,289.4 324.3,287.8 326.7,288.0 326.8,285.5 328.2,287.5 330.1,286.1 329.4,288.4 331.8,289.0 329.5,289.9 330.5,292.2 328.4,290.9 327.2,293.1 326.9,290.7" fill="#45613a"/>
<circle cx="327.9" cy="289.3" r="1.8" fill="#5d7d45"/>
<line x1="310.5" y1="283.0" x2="310.5" y2="298.5" stroke="#3d5230" stroke-width="0.9" opacity="0.55"/>
<ellipse cx="345.2" cy="296.0" rx="3.7" ry="4.1" fill="#2f4026" opacity="0.3"/>
<polygon points="347.3,298.1 346.3,295.7 344.0,296.8 345.2,294.6 343.0,293.4 345.5,293.0 345.0,290.5 346.9,292.2 348.5,290.2 348.3,292.8 350.9,292.8 348.8,294.3 350.4,296.3 347.9,295.6" fill="#45613a"/>
<circle cx="347.0" cy="294.0" r="1.8" fill="#5d7d45"/>
<ellipse cx="338.4" cy="300.1" rx="3.0" ry="3.3" fill="#2f4026" opacity="0.3"/>
<polygon points="338.2,300.6 338.9,298.7 336.9,298.0 338.9,297.4 338.2,295.5 339.9,296.6 341.0,294.9 341.2,296.9 343.2,296.7 341.7,298.1 343.2,299.5 341.2,299.2 340.9,301.3 339.9,299.5" fill="#45613a"/>
<circle cx="340.2" cy="298.1" r="1.5" fill="#5d7d45"/>
<line x1="329.5" y1="283.0" x2="329.5" y2="298.5" stroke="#3d5230" stroke-width="0.9" opacity="0.55"/>
<ellipse cx="362.5" cy="293.3" rx="3.5" ry="3.9" fill="#2f4026" opacity="0.3"/>
<polygon points="361.7,288.5 363.8,289.7 364.9,287.5 365.3,289.9 367.7,289.4 366.1,291.2 367.9,292.8 365.5,292.7 365.4,295.1 364.0,293.1 362.1,294.6 362.8,292.2 360.4,291.6 362.7,290.7" fill="#45613a"/>
<circle cx="364.3" cy="291.3" r="1.8" fill="#5d7d45"/>
<line x1="345.5" y1="283.0" x2="345.5" y2="298.5" stroke="#3d5230" stroke-width="0.9" opacity="0.55"/>
<ellipse cx="380.9" cy="296.2" rx="3.9" ry="4.3" fill="#2f4026" opacity="0.3"/>
<polygon points="385.8,291.2 384.6,293.6 387.0,294.8 384.4,295.3 385.0,297.9 382.9,296.1 381.2,298.2 381.4,295.5 378.7,295.5 380.8,294.0 379.2,291.8 381.8,292.6 382.4,289.9 383.4,292.4" fill="#45613a"/>
<circle cx="382.7" cy="294.2" r="1.9" fill="#5d7d45"/>
<ellipse cx="369.1" cy="299.0" rx="2.8" ry="3.1" fill="#2f4026" opacity="0.3"/>
<polygon points="368.7,294.8 370.4,295.7 371.2,293.9 371.7,295.8 373.6,295.3 372.3,296.9 373.9,298.0 371.9,298.0 372.0,300.0 370.8,298.4 369.3,299.7 369.7,297.8 367.8,297.4 369.6,296.6" fill="#45613a"/>
<circle cx="370.9" cy="297.0" r="1.4" fill="#5d7d45"/>
<line x1="366.0" y1="283.0" x2="366.0" y2="298.5" stroke="#3d5230" stroke-width="0.9" opacity="0.55"/>
<ellipse cx="399.1" cy="290.0" rx="3.0" ry="3.3" fill="#2f4026" opacity="0.3"/>
<polygon points="399.4,285.0 400.9,286.5 402.3,285.0 402.0,287.0 404.1,287.2 402.3,288.3 403.5,290.0 401.5,289.3 400.9,291.3 400.3,289.3 398.3,290.1 399.4,288.3 397.6,287.3 399.7,287.0" fill="#45613a"/>
<circle cx="400.9" cy="288.0" r="1.5" fill="#5d7d45"/>
<line x1="385.0" y1="283.0" x2="385.0" y2="298.5" stroke="#3d5230" stroke-width="0.9" opacity="0.55"/>
<ellipse cx="414.8" cy="292.8" rx="3.1" ry="3.5" fill="#2f4026" opacity="0.3"/>
<polygon points="414.7,293.6 415.3,291.5 413.2,291.0 415.2,290.2 414.2,288.2 416.1,289.3 417.1,287.3 417.5,289.5 419.6,289.0 418.2,290.6 419.8,292.0 417.7,291.9 417.7,294.0 416.4,292.3" fill="#45613a"/>
<circle cx="416.6" cy="290.8" r="1.6" fill="#5d7d45"/>
<line x1="400.5" y1="283.0" x2="400.5" y2="298.5" stroke="#3d5230" stroke-width="0.9" opacity="0.55"/>
<ellipse cx="436.9" cy="290.3" rx="3.8" ry="4.2" fill="#2f4026" opacity="0.3"/>
<polygon points="435.7,285.4 438.1,286.5 439.1,284.1 439.7,286.7 442.2,286.0 440.6,288.0 442.7,289.6 440.1,289.6 440.1,292.2 438.5,290.1 436.5,291.8 437.1,289.3 434.6,288.8 436.9,287.7" fill="#45613a"/>
<circle cx="438.7" cy="288.3" r="1.9" fill="#5d7d45"/>
<line x1="417.5" y1="283.0" x2="417.5" y2="298.5" stroke="#3d5230" stroke-width="0.9" opacity="0.55"/>
<ellipse cx="467.0" cy="291.2" rx="3.8" ry="4.2" fill="#2f4026" opacity="0.3"/>
<polygon points="465.9,292.3 467.0,289.9 464.6,288.9 467.1,288.3 466.4,285.8 468.5,287.4 470.0,285.2 470.0,287.9 472.7,287.7 470.6,289.4 472.4,291.3 469.8,290.8 469.4,293.4 468.2,291.0" fill="#45613a"/>
<circle cx="468.8" cy="289.2" r="1.9" fill="#5d7d45"/>
<line x1="446.5" y1="283.0" x2="446.5" y2="298.5" stroke="#3d5230" stroke-width="0.9" opacity="0.55"/>
<line x1="475.5" y1="283.0" x2="475.5" y2="298.5" stroke="#3d5230" stroke-width="0.9" opacity="0.55"/>
<ellipse cx="510.8" cy="295.8" rx="3.3" ry="3.7" fill="#2f4026" opacity="0.3"/>
<polygon points="510.1,296.5 511.0,294.4 508.9,293.5 511.1,293.0 510.5,290.7 512.3,292.2 513.7,290.3 513.7,292.6 516.0,292.4 514.3,293.9 515.8,295.7 513.5,295.2 513.1,297.5 512.1,295.4" fill="#45613a"/>
<circle cx="512.6" cy="293.8" r="1.7" fill="#5d7d45"/>
<ellipse cx="503.3" cy="298.7" rx="2.6" ry="2.9" fill="#2f4026" opacity="0.3"/>
<polygon points="502.5,295.5 504.3,295.7 504.4,293.9 505.4,295.4 506.8,294.3 506.3,296.0 508.0,296.5 506.3,297.2 507.0,298.8 505.5,297.9 504.6,299.5 504.4,297.7 502.6,298.0 503.8,296.7" fill="#45613a"/>
<circle cx="505.1" cy="296.7" r="1.3" fill="#5d7d45"/>
<line x1="494.5" y1="283.0" x2="494.5" y2="298.5" stroke="#3d5230" stroke-width="0.9" opacity="0.55"/>
<ellipse cx="528.1" cy="291.5" rx="3.7" ry="4.1" fill="#2f4026" opacity="0.3"/>
<polygon points="533.6,291.4 531.0,291.0 530.7,293.6 529.4,291.3 527.2,292.7 528.2,290.3 525.8,289.4 528.3,288.7 527.4,286.2 529.5,287.7 530.9,285.5 531.1,288.1 533.7,287.8 531.8,289.6" fill="#45613a"/>
<circle cx="529.9" cy="289.5" r="1.9" fill="#5d7d45"/>
<ellipse cx="520.5" cy="298.7" rx="2.7" ry="3.0" fill="#2f4026" opacity="0.3"/>
<polygon points="521.9,293.7 522.7,295.4 524.4,294.4 523.6,296.2 525.4,296.9 523.5,297.3 524.1,299.2 522.6,298.0 521.5,299.6 521.4,297.7 519.5,297.8 521.0,296.6 519.7,295.2 521.6,295.5" fill="#45613a"/>
<circle cx="522.3" cy="296.7" r="1.4" fill="#5d7d45"/>
<line x1="513.2" y1="283.0" x2="513.2" y2="298.5" stroke="#3d5230" stroke-width="0.9" opacity="0.55"/>
<ellipse cx="545.0" cy="290.4" rx="3.3" ry="3.6" fill="#2f4026" opacity="0.3"/>
<polygon points="546.3,284.8 547.3,286.9 549.3,285.8 548.4,287.8 550.5,288.7 548.3,289.2 548.9,291.4 547.1,290.1 545.8,291.9 545.7,289.6 543.5,289.8 545.2,288.3 543.7,286.6 545.9,287.1" fill="#45613a"/>
<circle cx="546.8" cy="288.4" r="1.6" fill="#5d7d45"/>
<line x1="529.5" y1="283.0" x2="529.5" y2="298.5" stroke="#3d5230" stroke-width="0.9" opacity="0.55"/>
<ellipse cx="565.6" cy="293.4" rx="3.9" ry="4.3" fill="#2f4026" opacity="0.3"/>
<polygon points="571.4,289.8 569.4,291.5 571.2,293.5 568.5,293.0 568.1,295.6 566.9,293.2 564.5,294.6 565.6,292.1 563.1,291.1 565.7,290.4 565.0,287.8 567.1,289.5 568.7,287.3 568.7,290.0" fill="#45613a"/>
<circle cx="567.4" cy="291.4" r="1.9" fill="#5d7d45"/>
<line x1="549.5" y1="283.0" x2="549.5" y2="298.5" stroke="#3d5230" stroke-width="0.9" opacity="0.55"/>
<ellipse cx="587.4" cy="291.6" rx="3.2" ry="3.6" fill="#2f4026" opacity="0.3"/>
<polygon points="586.3,291.7 587.6,289.8 585.8,288.6 588.0,288.5 587.8,286.3 589.3,287.9 590.9,286.4 590.5,288.6 592.7,288.9 590.8,290.0 591.9,291.9 589.8,291.0 589.1,293.1 588.5,291.0" fill="#45613a"/>
<circle cx="589.2" cy="289.6" r="1.6" fill="#5d7d45"/>
<line x1="568.1" y1="283.0" x2="568.1" y2="298.5" stroke="#3d5230" stroke-width="0.9" opacity="0.55"/>
<ellipse cx="597.7" cy="299.2" rx="2.8" ry="3.1" fill="#2f4026" opacity="0.3"/>
<polygon points="597.1,299.1 598.2,297.5 596.5,296.5 598.5,296.3 598.2,294.4 599.6,295.8 600.9,294.5 600.6,296.4 602.6,296.6 600.9,297.6 601.9,299.2 600.1,298.5 599.5,300.3 598.9,298.5" fill="#45613a"/>
<circle cx="599.5" cy="297.2" r="1.4" fill="#5d7d45"/>
<line x1="592.5" y1="283.0" x2="592.5" y2="298.5" stroke="#3d5230" stroke-width="0.9" opacity="0.55"/>
<ellipse cx="635.3" cy="293.3" rx="3.7" ry="4.2" fill="#2f4026" opacity="0.3"/>
<polygon points="633.1,290.3 635.7,290.1 635.4,287.5 637.1,289.5 639.0,287.6 638.6,290.2 641.2,290.5 638.9,291.8 640.3,294.0 637.8,293.0 637.0,295.5 636.2,293.0 633.8,293.8 635.3,291.7" fill="#45613a"/>
<circle cx="637.1" cy="291.3" r="1.9" fill="#5d7d45"/>
<line x1="619.5" y1="283.0" x2="619.5" y2="298.5" stroke="#3d5230" stroke-width="0.9" opacity="0.55"/>
<ellipse cx="655.2" cy="294.7" rx="3.8" ry="4.3" fill="#2f4026" opacity="0.3"/>
<polygon points="656.2,296.9 655.9,294.2 653.2,294.6 655.1,292.7 653.1,290.9 655.8,291.2 656.0,288.6 657.4,290.8 659.6,289.3 658.7,291.8 661.3,292.6 658.8,293.5 659.8,295.9 657.5,294.5" fill="#45613a"/>
<circle cx="657.0" cy="292.7" r="1.9" fill="#5d7d45"/>
<ellipse cx="646.8" cy="299.6" rx="2.9" ry="3.3" fill="#2f4026" opacity="0.3"/>
<polygon points="651.8,296.9 650.0,297.9 651.1,299.6 649.2,298.9 648.6,300.8 648.0,298.9 646.0,299.6 647.2,297.9 645.4,296.8 647.5,296.7 647.2,294.6 648.6,296.1 650.1,294.7 649.8,296.7" fill="#45613a"/>
<circle cx="648.6" cy="297.6" r="1.5" fill="#5d7d45"/>
<line x1="640.5" y1="283.0" x2="640.5" y2="298.5" stroke="#3d5230" stroke-width="0.9" opacity="0.55"/>
<ellipse cx="674.1" cy="289.9" rx="3.5" ry="3.9" fill="#2f4026" opacity="0.3"/>
<polygon points="676.8,284.1 677.0,286.5 679.4,286.3 677.6,287.9 679.4,289.6 677.0,289.3 676.7,291.7 675.5,289.6 673.5,290.9 674.3,288.6 672.1,287.8 674.4,287.1 673.5,284.8 675.5,286.2" fill="#45613a"/>
<circle cx="675.9" cy="287.9" r="1.7" fill="#5d7d45"/>
<ellipse cx="662.8" cy="300.0" rx="3.2" ry="3.5" fill="#2f4026" opacity="0.3"/>
<polygon points="667.6,299.8 665.5,299.3 665.1,301.5 664.1,299.5 662.2,300.5 663.1,298.5 661.1,297.7 663.2,297.2 662.6,295.0 664.3,296.4 665.6,294.6 665.7,296.8 667.9,296.7 666.1,298.1" fill="#45613a"/>
<circle cx="664.6" cy="298.0" r="1.6" fill="#5d7d45"/>
<line x1="659.5" y1="283.0" x2="659.5" y2="298.5" stroke="#3d5230" stroke-width="0.9" opacity="0.55"/>
<ellipse cx="689.9" cy="294.6" rx="3.6" ry="4.0" fill="#2f4026" opacity="0.3"/>
<polygon points="691.8,296.6 691.0,294.2 688.7,295.2 690.0,293.0 687.8,291.8 690.3,291.5 689.9,289.1 691.7,290.8 693.4,289.0 693.1,291.4 695.6,291.6 693.5,292.9 694.9,295.0 692.6,294.2" fill="#45613a"/>
<circle cx="691.7" cy="292.6" r="1.8" fill="#5d7d45"/>
<ellipse cx="682.6" cy="299.5" rx="3.1" ry="3.4" fill="#2f4026" opacity="0.3"/>
<polygon points="681.7,299.6 682.9,297.9 681.0,296.8 683.2,296.6 682.9,294.5 684.4,296.0 685.9,294.5 685.6,296.6 687.7,296.8 685.9,297.9 687.0,299.7 685.0,298.9 684.3,301.0 683.7,298.9" fill="#45613a"/>
<circle cx="684.4" cy="297.5" r="1.5" fill="#5d7d45"/>
<line x1="674.5" y1="283.0" x2="674.5" y2="298.5" stroke="#3d5230" stroke-width="0.9" opacity="0.55"/>
<ellipse cx="712.3" cy="294.1" rx="3.4" ry="3.8" fill="#2f4026" opacity="0.3"/>
<polygon points="710.4,291.2 712.8,291.0 712.5,288.7 714.1,290.4 715.8,288.7 715.4,291.0 717.8,291.3 715.8,292.5 717.0,294.5 714.8,293.6 714.1,295.9 713.4,293.6 711.1,294.4 712.4,292.5" fill="#45613a"/>
<circle cx="714.1" cy="292.1" r="1.7" fill="#5d7d45"/>
<line x1="695.1" y1="283.0" x2="695.1" y2="298.5" stroke="#3d5230" stroke-width="0.9" opacity="0.55"/>
<ellipse cx="730.8" cy="292.3" rx="3.8" ry="4.2" fill="#2f4026" opacity="0.3"/>
<polygon points="730.5,286.7 732.5,288.4 734.2,286.4 734.0,289.0 736.6,289.0 734.5,290.6 736.1,292.6 733.6,291.9 733.0,294.5 732.0,292.0 729.6,293.1 730.8,290.8 728.5,289.7 731.1,289.2" fill="#45613a"/>
<circle cx="732.6" cy="290.3" r="1.9" fill="#5d7d45"/>
<line x1="714.3" y1="283.0" x2="714.3" y2="298.5" stroke="#3d5230" stroke-width="0.9" opacity="0.55"/>
<ellipse cx="749.0" cy="295.6" rx="3.9" ry="4.3" fill="#2f4026" opacity="0.3"/>
<polygon points="748.0,290.2 750.3,291.7 751.6,289.3 751.9,292.0 754.6,291.6 752.7,293.5 754.7,295.4 752.0,295.1 751.8,297.8 750.4,295.5 748.1,297.0 749.0,294.5 746.4,293.7 749.0,292.8" fill="#45613a"/>
<circle cx="750.8" cy="293.6" r="2.0" fill="#5d7d45"/>
<line x1="732.5" y1="283.0" x2="732.5" y2="298.5" stroke="#3d5230" stroke-width="0.9" opacity="0.55"/>
<ellipse cx="768.1" cy="292.4" rx="3.3" ry="3.7" fill="#2f4026" opacity="0.3"/>
<polygon points="772.2,293.3 770.2,292.0 769.0,294.0 768.8,291.6 766.5,291.9 768.2,290.3 766.6,288.7 768.9,289.0 769.2,286.7 770.3,288.7 772.3,287.5 771.4,289.7 773.6,290.4 771.4,291.1" fill="#45613a"/>
<circle cx="769.9" cy="290.4" r="1.7" fill="#5d7d45"/>
<line x1="751.0" y1="283.0" x2="751.0" y2="298.5" stroke="#3d5230" stroke-width="0.9" opacity="0.55"/>
<line x1="771.0" y1="283.0" x2="771.0" y2="298.5" stroke="#3d5230" stroke-width="0.9" opacity="0.55"/>
<ellipse cx="812.3" cy="292.4" rx="3.2" ry="3.6" fill="#2f4026" opacity="0.3"/>
<polygon points="817.6,289.7 815.7,290.8 816.8,292.7 814.8,291.8 814.0,293.9 813.4,291.8 811.3,292.5 812.5,290.7 810.7,289.5 812.9,289.3 812.7,287.1 814.2,288.8 815.8,287.2 815.4,289.4" fill="#45613a"/>
<circle cx="814.1" cy="290.4" r="1.6" fill="#5d7d45"/>
<ellipse cx="803.4" cy="298.7" rx="3.0" ry="3.3" fill="#2f4026" opacity="0.3"/>
<polygon points="805.7,293.5 806.0,295.5 808.1,295.1 806.6,296.6 808.2,298.0 806.2,297.8 806.1,299.9 804.9,298.2 803.3,299.5 803.9,297.5 801.8,296.9 803.8,296.2 802.9,294.3 804.7,295.3" fill="#45613a"/>
<circle cx="805.2" cy="296.7" r="1.5" fill="#5d7d45"/>
<line x1="798.5" y1="283.0" x2="798.5" y2="298.5" stroke="#3d5230" stroke-width="0.9" opacity="0.55"/>
<ellipse cx="827.4" cy="292.6" rx="3.5" ry="3.9" fill="#2f4026" opacity="0.3"/>
<polygon points="832.5,288.5 830.9,290.4 832.9,291.9 830.4,291.8 830.5,294.3 829.0,292.4 827.2,293.9 827.7,291.6 825.3,291.1 827.5,290.1 826.4,287.9 828.6,289.0 829.6,286.7 830.1,289.1" fill="#45613a"/>
<circle cx="829.2" cy="290.6" r="1.8" fill="#5d7d45"/>
<ellipse cx="819.0" cy="298.9" rx="2.7" ry="3.0" fill="#2f4026" opacity="0.3"/>
<polygon points="821.0,299.8 820.3,298.1 818.6,298.9 819.5,297.3 817.8,296.5 819.6,296.1 819.2,294.3 820.6,295.5 821.8,294.1 821.7,295.9 823.6,295.9 822.1,297.0 823.2,298.5 821.5,298.0" fill="#45613a"/>
<circle cx="820.8" cy="296.9" r="1.3" fill="#5d7d45"/>
<line x1="815.5" y1="283.0" x2="815.5" y2="298.5" stroke="#3d5230" stroke-width="0.9" opacity="0.55"/>
<ellipse cx="845.0" cy="291.0" rx="3.1" ry="3.4" fill="#2f4026" opacity="0.3"/>
<polygon points="846.1,292.4 845.9,290.2 843.7,290.6 845.2,289.0 843.7,287.6 845.8,287.8 845.9,285.7 847.1,287.5 848.8,286.3 848.2,288.3 850.2,288.9 848.2,289.6 849.0,291.6 847.2,290.5" fill="#45613a"/>
<circle cx="846.8" cy="289.0" r="1.5" fill="#5d7d45"/>
<ellipse cx="837.5" cy="299.1" rx="2.9" ry="3.2" fill="#2f4026" opacity="0.3"/>
<polygon points="840.6,294.2 840.4,296.2 842.4,296.3 840.7,297.4 841.9,299.1 840.0,298.4 839.4,300.4 838.7,298.5 836.8,299.2 837.9,297.5 836.1,296.5 838.1,296.2 837.8,294.2 839.3,295.7" fill="#45613a"/>
<circle cx="839.3" cy="297.1" r="1.5" fill="#5d7d45"/>
<line x1="829.5" y1="283.0" x2="829.5" y2="298.5" stroke="#3d5230" stroke-width="0.9" opacity="0.55"/>
<ellipse cx="281.3" cy="321.6" rx="3.9" ry="4.3" fill="#2f4026" opacity="0.3"/>
<polygon points="280.7,323.2 281.4,320.6 278.8,320.0 281.3,318.9 280.1,316.5 282.5,317.7 283.6,315.3 284.1,318.0 286.8,317.3 285.0,319.4 287.1,321.1 284.4,321.0 284.4,323.7 282.8,321.5" fill="#45613a"/>
<circle cx="283.1" cy="319.6" r="1.9" fill="#5d7d45"/>
<line x1="267.5" y1="309.0" x2="267.5" y2="324.5" stroke="#3d5230" stroke-width="0.9" opacity="0.55"/>
<line x1="284.1" y1="309.0" x2="284.1" y2="324.5" stroke="#3d5230" stroke-width="0.9" opacity="0.55"/>
<ellipse cx="315.8" cy="322.0" rx="3.7" ry="4.2" fill="#2f4026" opacity="0.3"/>
<polygon points="314.5,322.7 315.8,320.5 313.6,319.3 316.1,318.9 315.7,316.3 317.6,318.1 319.3,316.2 319.1,318.7 321.7,318.9 319.5,320.3 321.0,322.4 318.5,321.6 317.9,324.1 316.9,321.7" fill="#45613a"/>
<circle cx="317.6" cy="320.0" r="1.9" fill="#5d7d45"/>
<line x1="301.5" y1="309.0" x2="301.5" y2="324.5" stroke="#3d5230" stroke-width="0.9" opacity="0.55"/>
<ellipse cx="335.5" cy="322.3" rx="3.6" ry="4.0" fill="#2f4026" opacity="0.3"/>
<polygon points="337.6,324.3 336.7,322.0 334.4,323.0 335.6,320.8 333.4,319.7 335.8,319.3 335.3,316.8 337.2,318.5 338.8,316.6 338.6,319.1 341.1,319.1 339.1,320.5 340.6,322.5 338.2,321.8" fill="#45613a"/>
<circle cx="337.3" cy="320.3" r="1.8" fill="#5d7d45"/>
<ellipse cx="326.5" cy="325.2" rx="3.1" ry="3.4" fill="#2f4026" opacity="0.3"/>
<polygon points="327.5,319.9 328.6,321.7 330.4,320.5 329.7,322.6 331.7,323.2 329.7,323.9 330.5,325.9 328.7,324.7 327.6,326.6 327.4,324.5 325.2,324.8 326.8,323.3 325.2,321.8 327.3,322.0" fill="#45613a"/>
<circle cx="328.3" cy="323.2" r="1.5" fill="#5d7d45"/>
<line x1="320.5" y1="309.0" x2="320.5" y2="324.5" stroke="#3d5230" stroke-width="0.9" opacity="0.55"/>
<ellipse cx="353.5" cy="316.5" rx="3.2" ry="3.6" fill="#2f4026" opacity="0.3"/>
<polygon points="355.1,318.1 354.5,315.9 352.4,316.6 353.7,314.8 351.9,313.5 354.1,313.5 354.0,311.2 355.4,312.9 357.1,311.4 356.6,313.6 358.9,313.9 356.9,315.0 358.0,316.9 355.9,316.0" fill="#45613a"/>
<circle cx="355.3" cy="314.5" r="1.6" fill="#5d7d45"/>
<line x1="339.5" y1="309.0" x2="339.5" y2="324.5" stroke="#3d5230" stroke-width="0.9" opacity="0.55"/>
<ellipse cx="372.5" cy="322.3" rx="3.2" ry="3.5" fill="#2f4026" opacity="0.3"/>
<polygon points="370.8,319.5 373.0,319.3 372.7,317.1 374.2,318.7 375.8,317.1 375.5,319.3 377.7,319.5 375.8,320.6 377.0,322.5 375.0,321.7 374.3,323.8 373.6,321.7 371.5,322.5 372.7,320.7" fill="#45613a"/>
<circle cx="374.3" cy="320.3" r="1.6" fill="#5d7d45"/>
<ellipse cx="365.3" cy="324.5" rx="3.1" ry="3.5" fill="#2f4026" opacity="0.3"/>
<polygon points="369.0,319.7 368.4,321.7 370.5,322.3 368.5,323.1 369.4,325.0 367.5,324.0 366.6,325.9 366.2,323.8 364.1,324.2 365.5,322.6 363.9,321.2 366.0,321.4 366.1,319.2 367.3,321.0" fill="#45613a"/>
<circle cx="367.1" cy="322.5" r="1.6" fill="#5d7d45"/>
<line x1="357.2" y1="309.0" x2="357.2" y2="324.5" stroke="#3d5230" stroke-width="0.9" opacity="0.55"/>
<ellipse cx="388.9" cy="317.3" rx="3.7" ry="4.1" fill="#2f4026" opacity="0.3"/>
<polygon points="394.1,317.6 391.6,316.9 391.0,319.4 390.1,317.0 387.7,318.0 389.0,315.8 386.7,314.7 389.3,314.3 388.8,311.8 390.6,313.5 392.3,311.6 392.1,314.1 394.6,314.2 392.6,315.6" fill="#45613a"/>
<circle cx="390.7" cy="315.3" r="1.8" fill="#5d7d45"/>
<line x1="374.5" y1="309.0" x2="374.5" y2="324.5" stroke="#3d5230" stroke-width="0.9" opacity="0.55"/>
<ellipse cx="410.1" cy="319.5" rx="3.8" ry="4.2" fill="#2f4026" opacity="0.3"/>
<polygon points="410.5,321.5 410.5,318.8 407.9,318.9 410.0,317.3 408.3,315.3 410.9,315.9 411.4,313.3 412.5,315.7 414.9,314.5 413.7,316.9 416.1,318.0 413.5,318.5 414.1,321.1 412.1,319.4" fill="#45613a"/>
<circle cx="411.9" cy="317.5" r="1.9" fill="#5d7d45"/>
<line x1="393.5" y1="309.0" x2="393.5" y2="324.5" stroke="#3d5230" stroke-width="0.9" opacity="0.55"/>
<ellipse cx="427.0" cy="316.1" rx="3.8" ry="4.2" fill="#2f4026" opacity="0.3"/>
<polygon points="429.8,318.1 428.4,315.9 426.3,317.5 427.1,315.0 424.6,314.2 427.0,313.3 426.0,310.9 428.3,312.3 429.5,310.0 429.9,312.6 432.5,312.1 430.6,314.0 432.6,315.8 430.0,315.5" fill="#45613a"/>
<circle cx="428.8" cy="314.1" r="1.9" fill="#5d7d45"/>
<line x1="411.5" y1="309.0" x2="411.5" y2="324.5" stroke="#3d5230" stroke-width="0.9" opacity="0.55"/>
<ellipse cx="443.2" cy="321.2" rx="3.2" ry="3.6" fill="#2f4026" opacity="0.3"/>
<polygon points="443.6,322.5 443.8,320.3 441.6,320.2 443.4,318.9 442.0,317.2 444.2,317.8 444.7,315.6 445.6,317.7 447.6,316.8 446.5,318.7 448.5,319.7 446.3,320.1 446.7,322.3 445.1,320.8" fill="#45613a"/>
<circle cx="445.0" cy="319.2" r="1.6" fill="#5d7d45"/>
<ellipse cx="432.3" cy="325.4" rx="3.0" ry="3.4" fill="#2f4026" opacity="0.3"/>
<polygon points="432.0,326.0 432.8,324.1 430.8,323.4 432.8,322.8 432.1,320.8 433.8,322.0 434.9,320.2 435.1,322.3 437.2,322.0 435.7,323.5 437.2,324.9 435.1,324.6 434.8,326.7 433.8,324.9" fill="#45613a"/>
<circle cx="434.1" cy="323.4" r="1.5" fill="#5d7d45"/>
<line x1="427.5" y1="309.0" x2="427.5" y2="324.5" stroke="#3d5230" stroke-width="0.9" opacity="0.55"/>
<ellipse cx="463.0" cy="318.2" rx="3.4" ry="3.8" fill="#2f4026" opacity="0.3"/>
<polygon points="468.5,315.4 466.5,316.6 467.7,318.5 465.5,317.7 464.8,319.9 464.1,317.7 461.9,318.5 463.2,316.5 461.2,315.3 463.5,315.1 463.2,312.8 464.8,314.5 466.5,312.8 466.2,315.1" fill="#45613a"/>
<circle cx="464.8" cy="316.2" r="1.7" fill="#5d7d45"/>
<line x1="448.5" y1="309.0" x2="448.5" y2="324.5" stroke="#3d5230" stroke-width="0.9" opacity="0.55"/>
<ellipse cx="481.2" cy="318.1" rx="3.6" ry="4.1" fill="#2f4026" opacity="0.3"/>
<polygon points="483.4,320.1 482.4,317.8 480.1,318.8 481.3,316.6 479.0,315.5 481.5,315.0 481.0,312.6 482.9,314.2 484.5,312.3 484.4,314.8 486.9,314.8 484.8,316.3 486.4,318.3 484.0,317.6" fill="#45613a"/>
<circle cx="483.0" cy="316.1" r="1.8" fill="#5d7d45"/>
<line x1="467.5" y1="309.0" x2="467.5" y2="324.5" stroke="#3d5230" stroke-width="0.9" opacity="0.55"/>
<ellipse cx="499.0" cy="322.3" rx="3.7" ry="4.2" fill="#2f4026" opacity="0.3"/>
<polygon points="502.0,324.3 500.5,322.1 498.4,323.7 499.2,321.2 496.7,320.5 499.1,319.6 498.1,317.2 500.3,318.5 501.6,316.2 501.9,318.8 504.5,318.3 502.7,320.2 504.7,321.9 502.1,321.7" fill="#45613a"/>
<circle cx="500.8" cy="320.3" r="1.9" fill="#5d7d45"/>
<line x1="485.5" y1="309.0" x2="485.5" y2="324.5" stroke="#3d5230" stroke-width="0.9" opacity="0.55"/>
<ellipse cx="517.1" cy="319.2" rx="3.2" ry="3.6" fill="#2f4026" opacity="0.3"/>
<polygon points="517.1,320.2 517.6,318.0 515.4,317.6 517.4,316.7 516.4,314.7 518.4,315.7 519.3,313.6 519.8,315.8 521.9,315.2 520.5,317.0 522.3,318.3 520.1,318.3 520.1,320.5 518.8,318.8" fill="#45613a"/>
<circle cx="518.9" cy="317.2" r="1.6" fill="#5d7d45"/>
<line x1="503.1" y1="309.0" x2="503.1" y2="324.5" stroke="#3d5230" stroke-width="0.9" opacity="0.55"/>
<ellipse cx="535.5" cy="316.8" rx="3.7" ry="4.1" fill="#2f4026" opacity="0.3"/>
<polygon points="535.3,318.4 535.8,315.9 533.3,315.5 535.5,314.3 534.2,312.1 536.6,313.1 537.5,310.8 538.1,313.2 540.6,312.4 539.1,314.5 541.2,315.9 538.6,316.0 538.9,318.6 537.2,316.7" fill="#45613a"/>
<circle cx="537.3" cy="314.8" r="1.8" fill="#5d7d45"/>
<line x1="519.5" y1="309.0" x2="519.5" y2="324.5" stroke="#3d5230" stroke-width="0.9" opacity="0.55"/>
<ellipse cx="556.9" cy="317.7" rx="3.8" ry="4.2" fill="#2f4026" opacity="0.3"/>
<polygon points="562.2,318.0 559.6,317.4 559.1,319.9 558.0,317.5 555.7,318.6 556.9,316.3 554.5,315.2 557.1,314.7 556.5,312.1 558.5,313.9 560.1,311.8 560.0,314.4 562.7,314.4 560.5,316.0" fill="#45613a"/>
<circle cx="558.7" cy="315.7" r="1.9" fill="#5d7d45"/>
<ellipse cx="543.9" cy="325.9" rx="3.0" ry="3.4" fill="#2f4026" opacity="0.3"/>
<polygon points="547.1,326.9 545.6,325.4 544.2,326.9 544.5,324.8 542.4,324.6 544.2,323.5 543.0,321.7 545.0,322.5 545.7,320.5 546.3,322.5 548.3,321.8 547.1,323.5 548.9,324.6 546.8,324.8" fill="#45613a"/>
<circle cx="545.7" cy="323.9" r="1.5" fill="#5d7d45"/>
<line x1="540.5" y1="309.0" x2="540.5" y2="324.5" stroke="#3d5230" stroke-width="0.9" opacity="0.55"/>
<ellipse cx="575.7" cy="319.5" rx="3.0" ry="3.3" fill="#2f4026" opacity="0.3"/>
<polygon points="578.0,320.8 577.1,319.0 575.3,320.0 576.1,318.1 574.2,317.3 576.2,316.8 575.7,314.8 577.3,316.1 578.5,314.4 578.5,316.5 580.6,316.3 579.0,317.7 580.4,319.2 578.3,318.8" fill="#45613a"/>
<circle cx="577.5" cy="317.5" r="1.5" fill="#5d7d45"/>
<ellipse cx="563.1" cy="325.3" rx="2.6" ry="2.9" fill="#2f4026" opacity="0.3"/>
<polygon points="567.4,321.9 566.2,323.2 567.5,324.4 565.7,324.3 565.7,326.1 564.6,324.6 563.2,325.6 563.7,323.9 562.0,323.5 563.7,322.8 563.0,321.2 564.5,322.1 565.4,320.5 565.6,322.3" fill="#45613a"/>
<circle cx="564.9" cy="323.3" r="1.3" fill="#5d7d45"/>
<line x1="559.5" y1="309.0" x2="559.5" y2="324.5" stroke="#3d5230" stroke-width="0.9" opacity="0.55"/>
<ellipse cx="592.5" cy="319.9" rx="3.7" ry="4.1" fill="#2f4026" opacity="0.3"/>
<polygon points="596.1,314.2 595.8,316.8 598.3,317.0 596.1,318.3 597.6,320.5 595.1,319.6 594.4,322.0 593.5,319.6 591.1,320.5 592.5,318.3 590.3,317.0 592.9,316.8 592.5,314.2 594.3,316.1" fill="#45613a"/>
<circle cx="594.3" cy="317.9" r="1.9" fill="#5d7d45"/>
<line x1="577.5" y1="309.0" x2="577.5" y2="324.5" stroke="#3d5230" stroke-width="0.9" opacity="0.55"/>
<ellipse cx="609.2" cy="315.6" rx="3.3" ry="3.7" fill="#2f4026" opacity="0.3"/>
<polygon points="609.9,310.1 611.3,311.9 613.1,310.5 612.5,312.7 614.7,313.2 612.6,314.1 613.6,316.2 611.6,315.1 610.6,317.2 610.1,314.9 607.9,315.5 609.4,313.7 607.6,312.3 609.9,312.4" fill="#45613a"/>
<circle cx="611.0" cy="313.6" r="1.7" fill="#5d7d45"/>
<line x1="595.1" y1="309.0" x2="595.1" y2="324.5" stroke="#3d5230" stroke-width="0.9" opacity="0.55"/>
<ellipse cx="628.2" cy="319.6" rx="2.9" ry="3.2" fill="#2f4026" opacity="0.3"/>
<polygon points="628.4,320.5 628.8,318.5 626.8,318.2 628.6,317.2 627.6,315.5 629.4,316.3 630.2,314.4 630.7,316.4 632.6,315.8 631.4,317.4 633.1,318.6 631.1,318.6 631.2,320.6 629.9,319.1" fill="#45613a"/>
<circle cx="630.0" cy="317.6" r="1.5" fill="#5d7d45"/>
<line x1="611.5" y1="309.0" x2="611.5" y2="324.5" stroke="#3d5230" stroke-width="0.9" opacity="0.55"/>
<ellipse cx="645.5" cy="318.1" rx="3.4" ry="3.8" fill="#2f4026" opacity="0.3"/>
<polygon points="648.2,312.4 648.4,314.7 650.8,314.5 649.0,316.1 650.7,317.8 648.4,317.4 648.1,319.8 646.9,317.7 644.9,319.0 645.8,316.8 643.5,316.0 645.8,315.3 645.0,313.0 647.0,314.4" fill="#45613a"/>
<circle cx="647.3" cy="316.1" r="1.7" fill="#5d7d45"/>
<line x1="631.5" y1="309.0" x2="631.5" y2="324.5" stroke="#3d5230" stroke-width="0.9" opacity="0.55"/>
<ellipse cx="664.2" cy="320.7" rx="3.9" ry="4.3" fill="#2f4026" opacity="0.3"/>
<polygon points="661.9,317.5 664.6,317.4 664.4,314.7 666.1,316.8 668.1,315.0 667.6,317.7 670.2,318.1 667.8,319.3 669.1,321.7 666.7,320.5 665.6,323.0 665.0,320.4 662.4,321.1 664.1,319.0" fill="#45613a"/>
<circle cx="666.0" cy="318.7" r="1.9" fill="#5d7d45"/>
<line x1="649.5" y1="309.0" x2="649.5" y2="324.5" stroke="#3d5230" stroke-width="0.9" opacity="0.55"/>
<ellipse cx="682.5" cy="320.4" rx="3.9" ry="4.4" fill="#2f4026" opacity="0.3"/>
<polygon points="680.0,317.9 682.6,317.3 681.9,314.7 684.1,316.4 685.7,314.2 685.7,317.0 688.4,316.9 686.3,318.6 688.1,320.7 685.4,320.0 684.9,322.7 683.7,320.2 681.3,321.5 682.5,319.0" fill="#45613a"/>
<circle cx="684.3" cy="318.4" r="2.0" fill="#5d7d45"/>
<line x1="668.5" y1="309.0" x2="668.5" y2="324.5" stroke="#3d5230" stroke-width="0.9" opacity="0.55"/>
<ellipse cx="699.7" cy="322.0" rx="3.6" ry="4.0" fill="#2f4026" opacity="0.3"/>
<polygon points="702.8,323.7 701.3,321.7 699.4,323.3 700.0,320.9 697.6,320.4 699.8,319.4 698.7,317.2 700.9,318.3 702.0,316.0 702.5,318.5 704.9,317.9 703.3,319.8 705.2,321.3 702.7,321.2" fill="#45613a"/>
<circle cx="701.5" cy="320.0" r="1.8" fill="#5d7d45"/>
<ellipse cx="690.7" cy="325.7" rx="3.0" ry="3.4" fill="#2f4026" opacity="0.3"/>
<polygon points="690.9,326.6 691.3,324.5 689.2,324.2 691.1,323.2 690.0,321.4 691.9,322.3 692.7,320.3 693.2,322.3 695.2,321.7 694.0,323.4 695.7,324.6 693.6,324.7 693.8,326.7 692.4,325.2" fill="#45613a"/>
<circle cx="692.5" cy="323.7" r="1.5" fill="#5d7d45"/>
<line x1="686.3" y1="309.0" x2="686.3" y2="324.5" stroke="#3d5230" stroke-width="0.9" opacity="0.55"/>
<line x1="702.5" y1="309.0" x2="702.5" y2="324.5" stroke="#3d5230" stroke-width="0.9" opacity="0.55"/>
<ellipse cx="737.7" cy="322.2" rx="3.0" ry="3.4" fill="#2f4026" opacity="0.3"/>
<polygon points="742.3,318.3 741.0,319.9 742.7,321.1 740.6,321.2 740.8,323.3 739.4,321.7 737.9,323.1 738.3,321.0 736.2,320.7 738.1,319.7 737.0,317.9 739.0,318.8 739.7,316.8 740.3,318.9" fill="#45613a"/>
<circle cx="739.5" cy="320.2" r="1.5" fill="#5d7d45"/>
<line x1="723.1" y1="309.0" x2="723.1" y2="324.5" stroke="#3d5230" stroke-width="0.9" opacity="0.55"/>
<ellipse cx="757.2" cy="317.3" rx="3.9" ry="4.3" fill="#2f4026" opacity="0.3"/>
<polygon points="763.3,315.0 760.8,316.0 761.9,318.5 759.6,317.1 758.3,319.5 757.9,316.8 755.3,317.3 757.1,315.4 755.1,313.6 757.7,313.8 757.9,311.1 759.4,313.4 761.5,311.8 760.7,314.3" fill="#45613a"/>
<circle cx="759.0" cy="315.3" r="1.9" fill="#5d7d45"/>
<line x1="742.2" y1="309.0" x2="742.2" y2="324.5" stroke="#3d5230" stroke-width="0.9" opacity="0.55"/>
<ellipse cx="772.8" cy="321.1" rx="3.2" ry="3.5" fill="#2f4026" opacity="0.3"/>
<polygon points="777.4,317.0 776.2,318.8 778.1,320.0 775.8,320.2 776.1,322.4 774.6,320.7 773.0,322.3 773.3,320.1 771.1,319.8 773.1,318.7 771.9,316.9 774.0,317.7 774.7,315.6 775.3,317.7" fill="#45613a"/>
<circle cx="774.6" cy="319.1" r="1.6" fill="#5d7d45"/>
<ellipse cx="766.2" cy="326.2" rx="2.7" ry="2.9" fill="#2f4026" opacity="0.3"/>
<polygon points="765.2,323.3 767.0,323.3 766.9,321.4 768.1,322.8 769.5,321.6 769.1,323.4 770.9,323.7 769.3,324.6 770.2,326.2 768.5,325.4 767.8,327.1 767.4,325.3 765.6,325.8 766.7,324.4" fill="#45613a"/>
<circle cx="768.0" cy="324.2" r="1.3" fill="#5d7d45"/>
<line x1="759.5" y1="309.0" x2="759.5" y2="324.5" stroke="#3d5230" stroke-width="0.9" opacity="0.55"/>
<ellipse cx="791.3" cy="316.7" rx="3.9" ry="4.4" fill="#2f4026" opacity="0.3"/>
<polygon points="797.2,313.1 795.1,314.8 796.9,316.8 794.2,316.3 793.8,319.0 792.5,316.6 790.1,317.9 791.3,315.4 788.7,314.4 791.4,313.7 790.6,311.1 792.8,312.7 794.3,310.5 794.4,313.2" fill="#45613a"/>
<circle cx="793.1" cy="314.7" r="2.0" fill="#5d7d45"/>
<line x1="776.0" y1="309.0" x2="776.0" y2="324.5" stroke="#3d5230" stroke-width="0.9" opacity="0.55"/>
<ellipse cx="813.0" cy="320.5" rx="3.3" ry="3.7" fill="#2f4026" opacity="0.3"/>
<polygon points="811.7,316.5 813.9,317.1 814.4,314.9 815.3,317.0 817.4,316.0 816.3,318.0 818.4,319.0 816.1,319.4 816.7,321.7 814.9,320.2 813.5,322.0 813.6,319.7 811.3,319.7 813.1,318.3" fill="#45613a"/>
<circle cx="814.8" cy="318.5" r="1.6" fill="#5d7d45"/>
<line x1="797.0" y1="309.0" x2="797.0" y2="324.5" stroke="#3d5230" stroke-width="0.9" opacity="0.55"/>
<ellipse cx="830.0" cy="318.7" rx="3.0" ry="3.4" fill="#2f4026" opacity="0.3"/>
<polygon points="829.3,318.9 830.4,317.1 828.5,316.1 830.6,315.8 830.3,313.7 831.8,315.2 833.2,313.6 833.0,315.7 835.1,315.8 833.3,317.0 834.6,318.7 832.6,318.0 832.0,320.0 831.2,318.1" fill="#45613a"/>
<circle cx="831.8" cy="316.7" r="1.5" fill="#5d7d45"/>
<line x1="815.5" y1="309.0" x2="815.5" y2="324.5" stroke="#3d5230" stroke-width="0.9" opacity="0.55"/>
<ellipse cx="847.5" cy="317.3" rx="3.5" ry="3.9" fill="#2f4026" opacity="0.3"/>
<polygon points="847.4,318.6 847.9,316.3 845.5,315.9 847.6,314.8 846.4,312.7 848.7,313.6 849.6,311.4 850.2,313.7 852.5,313.1 851.0,315.0 853.0,316.4 850.6,316.4 850.8,318.9 849.2,317.0" fill="#45613a"/>
<circle cx="849.3" cy="315.3" r="1.7" fill="#5d7d45"/>
<line x1="834.0" y1="309.0" x2="834.0" y2="324.5" stroke="#3d5230" stroke-width="0.9" opacity="0.55"/>
<ellipse cx="864.2" cy="316.4" rx="3.9" ry="4.4" fill="#2f4026" opacity="0.3"/>
<polygon points="862.5,311.9 865.1,312.7 865.8,310.1 866.8,312.6 869.3,311.6 867.9,313.9 870.3,315.2 867.6,315.6 868.1,318.3 866.1,316.4 864.3,318.5 864.5,315.7 861.8,315.6 864.1,314.1" fill="#45613a"/>
<circle cx="866.0" cy="314.4" r="2.0" fill="#5d7d45"/>
<line x1="848.5" y1="309.0" x2="848.5" y2="324.5" stroke="#3d5230" stroke-width="0.9" opacity="0.55"/>
<ellipse cx="238.2" cy="282.0" rx="3.8" ry="4.2" fill="#2f4026" opacity="0.3"/>
<polygon points="236.4,282.2 238.1,280.2 236.0,278.6 238.7,278.7 238.6,276.0 240.2,278.1 242.2,276.5 241.6,279.0 244.2,279.5 241.8,280.6 243.0,283.0 240.6,281.8 239.5,284.2 239.0,281.6" fill="#45613a"/>
<circle cx="240.0" cy="280.0" r="1.9" fill="#5d7d45"/>
<ellipse cx="245.2" cy="291.0" rx="3.8" ry="4.2" fill="#2f4026" opacity="0.3"/>
<polygon points="244.0,286.1 246.4,287.2 247.4,284.8 248.0,287.4 250.5,286.7 248.9,288.8 251.0,290.3 248.3,290.3 248.4,293.0 246.8,290.9 244.8,292.6 245.4,290.0 242.8,289.5 245.2,288.4" fill="#45613a"/>
<circle cx="247.0" cy="289.0" r="1.9" fill="#5d7d45"/>
<ellipse cx="254.2" cy="272.0" rx="3.8" ry="4.2" fill="#2f4026" opacity="0.3"/>
<polygon points="254.4,266.1 256.1,268.1 258.1,266.3 257.6,268.9 260.1,269.3 257.8,270.5 259.1,272.8 256.7,271.8 255.7,274.2 255.1,271.6 252.6,272.4 254.1,270.3 252.0,268.8 254.6,268.7" fill="#45613a"/>
<circle cx="256.0" cy="270.0" r="1.9" fill="#5d7d45"/>
<ellipse cx="260.2" cy="281.0" rx="3.8" ry="4.2" fill="#2f4026" opacity="0.3"/>
<polygon points="262.2,274.8 262.9,277.3 265.4,276.5 263.9,278.7 266.0,280.1 263.4,280.2 263.6,282.9 261.9,280.9 260.0,282.7 260.5,280.1 257.9,279.7 260.2,278.5 258.8,276.2 261.3,277.3" fill="#45613a"/>
<circle cx="262.0" cy="279.0" r="1.9" fill="#5d7d45"/>
<ellipse cx="231.2" cy="295.0" rx="3.8" ry="4.2" fill="#2f4026" opacity="0.3"/>
<polygon points="233.0,288.8 233.8,291.3 236.3,290.4 234.8,292.6 237.1,294.0 234.5,294.2 234.8,296.8 233.0,294.9 231.1,296.8 231.5,294.2 228.9,293.9 231.2,292.6 229.7,290.4 232.2,291.3" fill="#45613a"/>
<circle cx="233.0" cy="293.0" r="1.9" fill="#5d7d45"/>
<ellipse cx="241.2" cy="305.0" rx="3.8" ry="4.2" fill="#2f4026" opacity="0.3"/>
<polygon points="238.8,303.4 241.2,302.3 240.1,300.0 242.4,301.2 243.6,298.8 244.0,301.4 246.6,300.8 244.9,302.8 246.9,304.5 244.3,304.4 244.3,307.0 242.7,304.9 240.7,306.5 241.4,304.0" fill="#45613a"/>
<circle cx="243.0" cy="303.0" r="1.9" fill="#5d7d45"/>
<ellipse cx="253.2" cy="314.0" rx="3.8" ry="4.2" fill="#2f4026" opacity="0.3"/>
<polygon points="259.2,311.8 256.7,312.8 257.7,315.2 255.5,313.8 254.2,316.1 253.9,313.5 251.3,314.0 253.1,312.1 251.2,310.3 253.8,310.6 253.9,307.9 255.4,310.1 257.5,308.6 256.7,311.1" fill="#45613a"/>
<circle cx="255.0" cy="312.0" r="1.9" fill="#5d7d45"/>
<ellipse cx="228.2" cy="320.0" rx="3.8" ry="4.2" fill="#2f4026" opacity="0.3"/>
<polygon points="232.2,314.4 231.6,317.0 234.2,317.5 231.8,318.6 233.0,320.9 230.6,319.8 229.6,322.2 229.0,319.6 226.5,320.3 228.1,318.2 226.0,316.6 228.7,316.7 228.6,314.0 230.2,316.1" fill="#45613a"/>
<circle cx="230.0" cy="318.0" r="1.9" fill="#5d7d45"/>
<ellipse cx="234.2" cy="324.0" rx="3.8" ry="4.2" fill="#2f4026" opacity="0.3"/>
<polygon points="238.6,318.7 237.7,321.2 240.2,321.9 237.7,322.8 238.7,325.2 236.4,323.8 235.1,326.1 234.8,323.5 232.2,323.9 234.1,322.0 232.2,320.2 234.8,320.5 235.0,317.9 236.4,320.2" fill="#45613a"/>
<circle cx="236.0" cy="322.0" r="1.9" fill="#5d7d45"/>
<ellipse cx="258.2" cy="322.0" rx="3.8" ry="4.2" fill="#2f4026" opacity="0.3"/>
<polygon points="256.5,322.3 258.1,320.2 256.0,318.7 258.6,318.7 258.6,316.1 260.2,318.1 262.2,316.4 261.6,319.0 264.2,319.5 261.8,320.6 263.0,322.9 260.6,321.8 259.6,324.2 259.0,321.6" fill="#45613a"/>
<circle cx="260.0" cy="320.0" r="1.9" fill="#5d7d45"/>
<ellipse cx="224.2" cy="312.0" rx="3.8" ry="4.2" fill="#2f4026" opacity="0.3"/>
<polygon points="222.2,311.7 224.1,309.9 222.3,308.1 224.9,308.5 225.2,305.9 226.5,308.2 228.7,306.8 227.7,309.2 230.2,310.1 227.7,310.9 228.5,313.4 226.4,311.9 224.9,314.1 224.8,311.4" fill="#45613a"/>
<circle cx="226.0" cy="310.0" r="1.9" fill="#5d7d45"/>
<ellipse cx="248.2" cy="298.0" rx="3.8" ry="4.2" fill="#2f4026" opacity="0.3"/>
<polygon points="246.2,294.3 248.8,294.6 248.9,291.9 250.4,294.1 252.5,292.6 251.7,295.1 254.2,295.8 251.7,296.8 252.7,299.2 250.5,297.8 249.2,300.1 248.9,297.5 246.3,298.0 248.1,296.1" fill="#45613a"/>
<circle cx="250.0" cy="296.0" r="1.9" fill="#5d7d45"/>
<ellipse cx="860.2" cy="302.0" rx="3.6" ry="4.0" fill="#2f4026" opacity="0.3"/>
<polygon points="865.3,297.7 863.8,299.7 865.8,301.2 863.3,301.2 863.5,303.7 861.9,301.8 860.0,303.5 860.5,301.0 858.0,300.6 860.3,299.5 859.1,297.3 861.3,298.3 862.3,296.0 862.9,298.4" fill="#45613a"/>
<circle cx="862.0" cy="300.0" r="1.8" fill="#5d7d45"/>
<ellipse cx="870.2" cy="307.0" rx="3.6" ry="4.0" fill="#2f4026" opacity="0.3"/>
<polygon points="868.1,304.4 870.5,304.0 870.0,301.5 871.9,303.2 873.5,301.3 873.3,303.8 875.8,303.9 873.8,305.3 875.3,307.3 872.9,306.6 872.3,309.0 871.3,306.7 869.0,307.7 870.3,305.5" fill="#45613a"/>
<circle cx="872.0" cy="305.0" r="1.8" fill="#5d7d45"/>
<ellipse cx="878.2" cy="314.0" rx="3.6" ry="4.0" fill="#2f4026" opacity="0.3"/>
<polygon points="876.0,311.4 878.5,311.0 878.0,308.5 879.9,310.2 881.5,308.3 881.3,310.8 883.8,310.8 881.8,312.3 883.3,314.3 880.9,313.6 880.3,316.0 879.3,313.7 877.1,314.7 878.3,312.5" fill="#45613a"/>
<circle cx="880.0" cy="312.0" r="1.8" fill="#5d7d45"/>
<ellipse cx="888.2" cy="320.0" rx="3.6" ry="4.0" fill="#2f4026" opacity="0.3"/>
<polygon points="886.4,319.7 888.2,318.0 886.4,316.2 888.9,316.6 889.2,314.1 890.4,316.3 892.6,314.9 891.6,317.3 894.0,318.1 891.6,318.8 892.4,321.2 890.4,319.8 889.0,321.9 888.8,319.4" fill="#45613a"/>
<circle cx="890.0" cy="318.0" r="1.8" fill="#5d7d45"/>
<ellipse cx="868.2" cy="320.0" rx="3.6" ry="4.0" fill="#2f4026" opacity="0.3"/>
<polygon points="873.3,315.7 871.8,317.7 873.8,319.2 871.3,319.2 871.5,321.7 869.9,319.8 868.0,321.5 868.5,319.0 866.0,318.6 868.3,317.5 867.1,315.3 869.3,316.3 870.3,314.0 870.9,316.4" fill="#45613a"/>
<circle cx="870.0" cy="318.0" r="1.8" fill="#5d7d45"/>
<ellipse cx="856.2" cy="317.0" rx="3.6" ry="4.0" fill="#2f4026" opacity="0.3"/>
<polygon points="856.3,318.6 856.6,316.1 854.1,315.9 856.2,314.6 854.9,312.5 857.2,313.4 858.0,311.0 858.8,313.4 861.1,312.5 859.8,314.6 861.9,315.9 859.4,316.1 859.8,318.6 858.0,316.8" fill="#45613a"/>
<circle cx="858.0" cy="315.0" r="1.8" fill="#5d7d45"/>
<ellipse cx="848.2" cy="287.0" rx="3.6" ry="4.0" fill="#2f4026" opacity="0.3"/>
<polygon points="853.8,286.3 851.3,286.3 851.3,288.8 849.8,286.8 847.8,288.4 848.5,285.9 846.0,285.4 848.3,284.4 847.2,282.2 849.4,283.3 850.5,281.0 851.0,283.5 853.4,282.9 851.8,284.8" fill="#45613a"/>
<circle cx="850.0" cy="285.0" r="1.8" fill="#5d7d45"/>
<ellipse cx="843.2" cy="274.0" rx="3.6" ry="4.0" fill="#2f4026" opacity="0.3"/>
<polygon points="844.4,268.0 845.5,270.3 847.7,269.1 846.7,271.3 849.0,272.3 846.6,272.9 847.3,275.3 845.3,273.8 843.8,275.8 843.8,273.3 841.3,273.5 843.2,271.9 841.5,270.0 844.0,270.5" fill="#45613a"/>
<circle cx="845.0" cy="272.0" r="1.8" fill="#5d7d45"/>
<ellipse cx="830.2" cy="284.0" rx="3.6" ry="4.0" fill="#2f4026" opacity="0.3"/>
<polygon points="835.2,279.6 833.8,281.7 835.9,283.1 833.4,283.2 833.6,285.7 831.9,283.8 830.1,285.5 830.5,283.1 828.1,282.7 830.3,281.5 829.0,279.4 831.3,280.3 832.2,278.0 832.8,280.4" fill="#45613a"/>
<circle cx="832.0" cy="282.0" r="1.8" fill="#5d7d45"/>
<ellipse cx="863.2" cy="289.0" rx="3.6" ry="4.0" fill="#2f4026" opacity="0.3"/>
<polygon points="864.5,283.0 865.6,285.3 867.8,284.2 866.7,286.4 869.0,287.4 866.5,288.0 867.1,290.4 865.2,288.8 863.7,290.8 863.7,288.3 861.2,288.3 863.2,286.8 861.6,284.9 864.0,285.5" fill="#45613a"/>
<circle cx="865.0" cy="287.0" r="1.8" fill="#5d7d45"/>
<ellipse cx="878.2" cy="302.0" rx="3.6" ry="4.0" fill="#2f4026" opacity="0.3"/>
<polygon points="876.7,297.7 879.1,298.4 879.8,296.0 880.7,298.3 883.0,297.3 881.7,299.5 883.9,300.6 881.5,301.0 882.0,303.5 880.1,301.8 878.5,303.7 878.7,301.2 876.2,301.1 878.2,299.7" fill="#45613a"/>
<circle cx="880.0" cy="300.0" r="1.8" fill="#5d7d45"/>
<ellipse cx="898.2" cy="324.0" rx="3.6" ry="4.0" fill="#2f4026" opacity="0.3"/>
<polygon points="900.0,318.0 900.8,320.4 903.2,319.5 901.8,321.6 903.9,322.9 901.4,323.1 901.7,325.6 900.0,323.8 898.2,325.6 898.6,323.1 896.1,322.9 898.2,321.6 896.9,319.5 899.2,320.4" fill="#45613a"/>
<circle cx="900.0" cy="322.0" r="1.8" fill="#5d7d45"/>
<ellipse cx="846.2" cy="324.0" rx="3.6" ry="4.0" fill="#2f4026" opacity="0.3"/>
<polygon points="846.7,325.8 846.7,323.3 844.2,323.3 846.2,321.8 844.6,319.9 847.1,320.5 847.6,318.0 848.6,320.3 850.8,319.2 849.7,321.4 852.0,322.5 849.5,323.0 850.1,325.4 848.2,323.8" fill="#45613a"/>
<circle cx="848.0" cy="322.0" r="1.8" fill="#5d7d45"/>
<ellipse cx="853.2" cy="308.0" rx="3.6" ry="4.0" fill="#2f4026" opacity="0.3"/>
<polygon points="851.7,303.8 854.1,304.5 854.6,302.0 855.6,304.3 857.9,303.2 856.7,305.4 859.0,306.5 856.5,307.0 857.0,309.4 855.2,307.8 853.6,309.7 853.7,307.2 851.2,307.2 853.2,305.8" fill="#45613a"/>
<circle cx="855.0" cy="306.0" r="1.8" fill="#5d7d45"/>
<ellipse cx="768.2" cy="238.0" rx="3.8" ry="4.2" fill="#2f4026" opacity="0.3"/>
<polygon points="773.8,237.8 771.2,237.5 771.0,240.1 769.6,237.8 767.4,239.3 768.3,236.8 765.8,236.0 768.3,235.2 767.3,232.7 769.6,234.2 770.9,231.9 771.2,234.5 773.8,234.1 771.9,236.0" fill="#45613a"/>
<circle cx="770.0" cy="236.0" r="1.9" fill="#5d7d45"/>
<ellipse cx="780.2" cy="234.0" rx="3.8" ry="4.2" fill="#2f4026" opacity="0.3"/>
<polygon points="785.0,235.0 782.6,233.8 781.5,236.2 781.0,233.6 778.5,234.2 780.1,232.2 778.0,230.6 780.7,230.7 780.6,228.0 782.2,230.1 784.2,228.4 783.6,231.0 786.2,231.5 783.8,232.6" fill="#45613a"/>
<circle cx="782.0" cy="232.0" r="1.9" fill="#5d7d45"/>
<ellipse cx="773.2" cy="250.0" rx="3.8" ry="4.2" fill="#2f4026" opacity="0.3"/>
<polygon points="771.0,249.4 773.1,247.8 771.4,245.8 774.0,246.4 774.5,243.8 775.6,246.2 778.0,245.0 776.8,247.4 779.2,248.5 776.6,249.0 777.2,251.6 775.2,249.9 773.6,252.0 773.7,249.3" fill="#45613a"/>
<circle cx="775.0" cy="248.0" r="1.9" fill="#5d7d45"/>
<ellipse cx="798.2" cy="242.0" rx="3.8" ry="4.2" fill="#2f4026" opacity="0.3"/>
<polygon points="795.8,239.9 798.3,239.2 797.4,236.7 799.6,238.2 801.0,235.9 801.2,238.5 803.8,238.2 801.9,240.0 803.8,241.9 801.2,241.5 800.9,244.1 799.6,241.8 797.3,243.2 798.3,240.8" fill="#45613a"/>
<circle cx="800.0" cy="240.0" r="1.9" fill="#5d7d45"/>
<ellipse cx="808.2" cy="250.0" rx="3.8" ry="4.2" fill="#2f4026" opacity="0.3"/>
<polygon points="806.7,250.5 808.1,248.4 805.9,247.0 808.5,246.8 808.3,244.2 810.0,246.1 811.9,244.3 811.5,246.9 814.1,247.2 811.8,248.5 813.2,250.7 810.8,249.7 809.9,252.2 809.1,249.7" fill="#45613a"/>
<circle cx="810.0" cy="248.0" r="1.9" fill="#5d7d45"/>
<ellipse cx="788.2" cy="248.0" rx="3.8" ry="4.2" fill="#2f4026" opacity="0.3"/>
<polygon points="794.0,247.3 791.4,247.3 791.4,249.9 789.8,247.9 787.8,249.6 788.4,247.0 785.8,246.5 788.2,245.4 787.0,243.1 789.4,244.2 790.4,241.8 791.0,244.4 793.5,243.7 791.9,245.8" fill="#45613a"/>
<circle cx="790.0" cy="246.0" r="1.9" fill="#5d7d45"/>
<ellipse cx="820.2" cy="254.0" rx="3.8" ry="4.2" fill="#2f4026" opacity="0.3"/>
<polygon points="820.6,248.1 822.2,250.1 824.2,248.4 823.6,251.0 826.2,251.5 823.8,252.6 825.0,254.9 822.6,253.8 821.6,256.2 821.0,253.6 818.5,254.3 820.1,252.2 818.0,250.7 820.6,250.7" fill="#45613a"/>
<circle cx="822.0" cy="252.0" r="1.9" fill="#5d7d45"/>
<ellipse cx="806.2" cy="238.0" rx="3.8" ry="4.2" fill="#2f4026" opacity="0.3"/>
<polygon points="803.9,235.3 806.5,234.9 805.9,232.3 807.9,234.1 809.6,232.1 809.4,234.7 812.0,234.8 809.9,236.3 811.4,238.4 808.9,237.6 808.3,240.2 807.3,237.7 804.9,238.8 806.2,236.5" fill="#45613a"/>
<circle cx="808.0" cy="236.0" r="1.9" fill="#5d7d45"/>
<polygon points="302.0,327 308.0,327 304.0,333 298.0,333" fill="#8a8a8a" opacity="0.4"/>
<polygon points="388.0,327 394.0,327 390.0,333 384.0,333" fill="#8a8a8a" opacity="0.4"/>
<polygon points="412.0,327 418.0,327 414.0,333 408.0,333" fill="#8a8a8a" opacity="0.4"/>
<polygon points="438.0,327 444.0,327 440.0,333 434.0,333" fill="#8a8a8a" opacity="0.4"/>
<polygon points="522.0,327 528.0,327 524.0,333 518.0,333" fill="#8a8a8a" opacity="0.4"/>
<polygon points="594.0,327 600.0,327 596.0,333 590.0,333" fill="#8a8a8a" opacity="0.4"/>
<polygon points="647.0,327 653.0,327 649.0,333 643.0,333" fill="#8a8a8a" opacity="0.4"/>
<polygon points="699.0,327 705.0,327 701.0,333 695.0,333" fill="#8a8a8a" opacity="0.4"/>
<polygon points="758.0,327 764.0,327 760.0,333 754.0,333" fill="#8a8a8a" opacity="0.4"/>
<polygon points="837.0,327 843.0,327 839.0,333 833.0,333" fill="#8a8a8a" opacity="0.4"/>
<polygon points="866.0,327 872.0,327 868.0,333 862.0,333" fill="#8a8a8a" opacity="0.4"/>
<polygon points="888.0,327 894.0,327 890.0,333 884.0,333" fill="#8a8a8a" opacity="0.4"/>
<polygon points="240.9,81.1 240.9,82.0 241.0,83.0 241.1,83.9 241.2,84.8 241.2,85.7 241.2,86.6 241.3,87.5 241.3,88.4 241.3,89.3 241.3,90.2 241.3,91.0 241.2,91.9 241.2,92.7 241.1,93.6 241.1,94.4 241.0,95.2 240.9,96.1 240.8,96.9 240.7,97.7 240.6,98.4 240.5,99.2 240.4,100.0 240.2,100.8 240.0,101.5 239.9,102.3 239.7,103.0 239.5,103.7 239.3,104.4 239.1,105.1 238.8,105.8 238.6,106.5 238.4,107.2 238.1,107.9 237.8,108.5 237.5,109.2 237.3,109.8 236.9,110.5 236.6,111.1 236.3,111.7 236.0,112.3 235.6,112.9 235.3,113.5 234.9,114.1 234.5,114.6 234.1,115.2 233.7,115.7 233.3,116.3 232.8,116.8 232.4,117.3 232.0,117.8 231.5,118.3 231.0,118.8 230.6,119.3 230.1,119.8 229.6,120.3 229.1,120.8 228.6,121.2 228.0,121.7 227.5,122.1 226.9,122.6 226.5,122.9 226.0,123.2 225.5,123.5 225.1,123.9 224.6,124.2 224.1,124.5 223.7,124.8 223.2,125.0 222.7,125.3 222.3,125.6 221.8,125.9 221.4,126.1 220.9,126.4 220.5,126.6 220.1,126.9 219.6,127.1 219.2,127.3 218.8,127.5 218.3,127.8 217.9,128.0 217.5,128.2 217.1,128.4 216.7,128.6 216.3,128.8 215.8,128.9 215.4,129.1 215.0,129.3 214.6,129.5 214.2,129.6 213.8,129.8 213.5,129.9 213.1,130.1 212.7,130.2 212.3,130.4 211.9,130.5 211.5,130.6 211.2,130.8 210.8,130.9 210.4,131.0 210.0,131.1 209.7,131.2 209.3,131.4 209.0,131.5 208.6,131.6 208.2,131.7 207.9,131.8 207.5,131.9 207.2,132.0 206.8,132.1 206.5,132.2 206.1,132.2 205.8,132.3 205.5,132.4 205.1,132.5 204.8,132.6 204.5,132.7 204.1,132.8 203.8,132.8 203.5,132.9 203.2,133.0 203.8,136.0 204.2,135.9 204.5,135.9 204.8,135.8 205.2,135.7 205.5,135.6 205.9,135.6 206.2,135.5 206.6,135.4 206.9,135.3 207.3,135.2 207.6,135.1 208.0,135.0 208.4,134.9 208.7,134.8 209.1,134.7 209.5,134.6 209.8,134.5 210.2,134.4 210.6,134.3 211.0,134.2 211.4,134.1 211.8,134.0 212.2,133.8 212.6,133.7 213.0,133.6 213.4,133.4 213.8,133.3 214.2,133.2 214.6,133.0 215.0,132.9 215.5,132.7 215.9,132.5 216.3,132.4 216.7,132.2 217.2,132.0 217.6,131.8 218.0,131.6 218.5,131.4 218.9,131.2 219.4,131.0 219.8,130.8 220.3,130.6 220.7,130.4 221.2,130.1 221.7,129.9 222.1,129.7 222.6,129.4 223.1,129.1 223.6,128.9 224.0,128.6 224.5,128.3 225.0,128.0 225.5,127.7 226.0,127.4 226.5,127.1 227.0,126.8 227.5,126.5 228.0,126.2 228.5,125.8 229.1,125.4 229.7,125.0 230.3,124.5 230.9,124.0 231.5,123.5 232.1,123.0 232.6,122.4 233.2,121.9 233.7,121.3 234.2,120.8 234.7,120.2 235.2,119.6 235.7,119.0 236.1,118.4 236.5,117.8 236.9,117.1 237.3,116.5 237.7,115.8 238.1,115.2 238.5,114.5 238.8,113.8 239.1,113.2 239.5,112.5 239.8,111.8 240.1,111.1 240.3,110.3 240.6,109.6 240.9,108.9 241.1,108.2 241.3,107.4 241.5,106.7 241.7,105.9 241.9,105.1 242.1,104.4 242.2,103.6 242.4,102.8 242.5,102.0 242.6,101.2 242.8,100.4 242.9,99.6 242.9,98.7 243.0,97.9 243.1,97.1 243.1,96.2 243.2,95.4 243.2,94.5 243.2,93.7 243.2,92.8 243.2,91.9 243.2,91.0 243.1,90.1 243.1,89.2 243.0,88.3 242.9,87.4 242.9,86.5 242.8,85.6 242.7,84.7 242.6,83.7 242.4,82.8 242.3,81.9 242.1,80.9" fill="#2e5c80"/>
<circle cx="241.5" cy="81.0" r="0.65" fill="#2e5c80"/>
<circle cx="203.5" cy="134.5" r="1.55" fill="#2e5c80"/>
<path d="M210,128.5 L203.5,134.5 L213.5,137" fill="none" stroke="#2e5c80" stroke-width="3.2" stroke-linecap="round" stroke-linejoin="round"/>
<polygon points="271.0,249.4 271.5,248.9 272.0,248.4 272.5,247.8 272.9,247.3 273.4,246.8 273.9,246.3 274.4,245.8 274.8,245.3 275.3,244.8 275.8,244.3 276.2,243.8 276.7,243.4 277.1,242.9 277.6,242.4 278.0,241.9 278.5,241.5 278.9,241.0 279.4,240.6 279.8,240.1 280.2,239.7 280.7,239.2 281.1,238.8 281.5,238.4 282.0,237.9 282.4,237.5 282.8,237.1 283.2,236.7 283.6,236.3 284.0,235.9 284.4,235.5 284.8,235.1 285.2,234.7 285.6,234.3 286.0,233.9 286.4,233.5 286.8,233.1 287.2,232.8 287.6,232.4 288.0,232.0 288.3,231.7 288.7,231.3 289.1,231.0 289.4,230.6 289.8,230.3 290.2,229.9 290.5,229.6 290.9,229.2 291.2,228.9 291.6,228.6 291.9,228.2 292.3,227.9 292.6,227.6 292.9,227.3 293.3,227.0 293.6,226.7 293.9,226.4 294.2,226.1 294.5,225.8 294.9,225.5 295.2,225.1 295.7,224.7 296.1,224.2 296.5,223.8 296.9,223.3 297.3,222.8 297.7,222.4 298.1,221.9 298.5,221.4 299.0,221.0 299.4,220.5 299.8,220.0 300.1,219.5 300.5,219.0 300.9,218.5 301.3,218.0 301.7,217.4 302.0,216.9 302.4,216.4 302.8,215.9 303.1,215.4 303.5,214.8 303.9,214.3 304.3,213.8 304.6,213.2 305.0,212.7 305.3,212.1 305.7,211.6 306.1,211.0 306.4,210.4 306.8,209.9 307.1,209.3 307.5,208.7 307.8,208.2 308.2,207.6 308.5,207.0 308.9,206.4 309.2,205.8 309.6,205.2 309.9,204.6 310.3,204.0 310.6,203.4 311.0,202.8 311.3,202.2 311.6,201.6 312.0,201.0 312.3,200.3 312.6,199.7 313.0,199.1 313.3,198.4 313.6,197.8 314.0,197.2 314.3,196.5 314.6,195.9 315.0,195.2 315.3,194.5 315.6,193.9 315.9,193.2 316.3,192.5 316.6,191.9 316.9,191.2 314.1,189.8 313.8,190.5 313.4,191.2 313.1,191.8 312.8,192.5 312.5,193.1 312.1,193.8 311.8,194.4 311.4,195.0 311.1,195.7 310.8,196.3 310.4,196.9 310.1,197.5 309.8,198.1 309.4,198.8 309.1,199.4 308.7,200.0 308.4,200.6 308.1,201.2 307.7,201.8 307.4,202.3 307.0,202.9 306.7,203.5 306.3,204.1 306.0,204.7 305.6,205.2 305.3,205.8 304.9,206.3 304.6,206.9 304.2,207.5 303.8,208.0 303.5,208.5 303.1,209.1 302.8,209.6 302.4,210.2 302.0,210.7 301.7,211.2 301.3,211.7 301.0,212.2 300.6,212.8 300.2,213.3 299.9,213.8 299.5,214.3 299.1,214.8 298.7,215.3 298.4,215.8 298.0,216.3 297.6,216.7 297.2,217.2 296.8,217.7 296.5,218.2 296.1,218.7 295.7,219.2 295.4,219.6 295.0,220.1 294.6,220.6 294.3,221.1 293.9,221.5 293.5,222.0 293.1,222.4 292.8,222.9 292.5,223.1 292.2,223.5 291.9,223.8 291.6,224.1 291.3,224.4 291.0,224.7 290.7,225.1 290.4,225.4 290.1,225.8 289.8,226.1 289.4,226.4 289.1,226.8 288.8,227.1 288.4,227.5 288.1,227.9 287.8,228.2 287.4,228.6 287.1,229.0 286.7,229.4 286.4,229.7 286.0,230.1 285.7,230.5 285.3,230.9 284.9,231.3 284.6,231.7 284.2,232.1 283.8,232.5 283.4,232.9 283.1,233.4 282.7,233.8 282.3,234.2 281.9,234.6 281.5,235.1 281.1,235.5 280.7,236.0 280.3,236.4 279.9,236.9 279.5,237.3 279.1,237.8 278.7,238.3 278.3,238.7 277.9,239.2 277.5,239.7 277.1,240.2 276.6,240.7 276.2,241.1 275.8,241.6 275.4,242.2 274.9,242.7 274.5,243.2 274.0,243.7 273.6,244.2 273.2,244.7 272.7,245.3 272.3,245.8 271.8,246.4 271.4,246.9 270.9,247.5 270.5,248.0 270.0,248.6" fill="#2e5c80"/>
<circle cx="270.5" cy="249.0" r="0.65" fill="#2e5c80"/>
<circle cx="315.5" cy="190.5" r="1.55" fill="#2e5c80"/>
<path d="M296.5,199 C303,197 310,193 315.5,190.5 C315,198 315,207 315,214.5" fill="none" stroke="#2e5c80" stroke-width="3.2" stroke-linecap="round" stroke-linejoin="round"/>
<polygon points="609.1,255.0 609.1,253.9 609.1,252.9 609.0,251.9 609.0,250.9 608.9,249.9 608.9,248.9 608.9,247.8 608.8,246.8 608.8,245.7 608.7,244.7 608.7,243.7 608.6,242.6 608.6,241.6 608.5,240.5 608.5,239.5 608.5,238.4 608.4,237.4 608.4,236.3 608.3,235.2 608.3,234.2 608.2,233.1 608.2,232.1 608.1,231.0 608.1,229.9 608.0,228.9 608.0,227.8 607.9,226.8 607.9,225.7 607.8,224.7 607.8,223.6 607.8,222.6 607.7,221.5 607.6,220.5 607.5,219.4 607.4,218.4 607.3,217.3 607.2,216.3 607.2,215.3 607.1,214.3 607.0,213.2 606.9,212.2 606.8,211.2 606.7,210.2 606.6,209.2 606.5,208.2 606.4,207.2 606.4,206.2 606.3,205.2 606.2,204.2 606.1,203.3 606.0,202.3 605.9,201.3 605.9,200.4 605.8,199.4 605.7,198.5 605.6,197.6 605.6,196.6 605.5,195.7 605.4,194.8 605.3,193.9 602.3,194.1 602.3,195.0 602.4,195.9 602.4,196.8 602.5,197.8 602.5,198.7 602.6,199.7 602.6,200.6 602.7,201.6 602.8,202.5 602.8,203.5 602.9,204.5 602.9,205.5 603.0,206.4 603.1,207.4 603.1,208.4 603.2,209.4 603.3,210.5 603.3,211.5 603.4,212.5 603.5,213.5 603.5,214.5 603.6,215.6 603.7,216.6 603.7,217.6 603.8,218.7 603.9,219.7 604.0,220.8 604.0,221.8 604.2,222.8 604.3,223.9 604.4,224.9 604.5,226.0 604.6,227.0 604.8,228.1 604.9,229.1 605.0,230.2 605.1,231.2 605.3,232.3 605.4,233.4 605.5,234.4 605.6,235.5 605.7,236.5 605.9,237.6 606.0,238.6 606.1,239.7 606.2,240.7 606.3,241.7 606.5,242.8 606.6,243.8 606.7,244.9 606.8,245.9 606.9,246.9 607.1,248.0 607.2,249.0 607.3,250.0 607.4,251.0 607.5,252.0 607.6,253.0 607.7,254.0 607.9,255.0" fill="#2e5c80"/>
<circle cx="608.5" cy="255.0" r="0.65" fill="#2e5c80"/>
<circle cx="603.8" cy="194.0" r="1.55" fill="#2e5c80"/>
<path d="M598.8,211.5 L603.8,194 L614,208.5" fill="none" stroke="#2e5c80" stroke-width="3.2" stroke-linecap="round" stroke-linejoin="round"/>
<polygon points="828.6,265.5 829.0,265.8 829.4,266.1 829.7,266.3 830.1,266.6 830.5,266.8 830.9,267.0 831.3,267.2 831.7,267.5 832.1,267.7 832.6,267.9 833.0,268.1 833.4,268.3 833.9,268.5 834.3,268.6 834.8,268.8 835.2,269.0 835.7,269.2 836.2,269.3 836.6,269.5 837.1,269.6 837.6,269.8 838.0,269.9 838.5,270.0 839.0,270.1 839.5,270.3 840.0,270.4 840.5,270.5 841.0,270.6 841.5,270.7 842.0,270.8 842.5,270.9 843.0,271.0 843.5,271.0 844.0,271.1 844.5,271.2 845.0,271.2 845.4,271.3 845.9,271.3 846.4,271.4 846.9,271.4 847.4,271.5 847.9,271.5 848.4,271.5 848.9,271.6 849.4,271.6 849.9,271.6 850.3,271.6 850.8,271.6 851.3,271.6 851.7,271.6 852.2,271.6 852.7,271.6 853.1,271.6 853.6,271.6 854.0,271.6 854.5,271.6 854.9,271.5 855.3,271.5 855.8,271.5 856.3,271.4 857.0,271.2 857.6,271.1 858.3,270.9 858.9,270.7 859.5,270.5 860.2,270.3 860.8,270.0 861.4,269.8 862.1,269.5 862.7,269.2 863.3,268.9 864.0,268.6 864.6,268.2 865.2,267.9 865.8,267.5 866.5,267.1 867.1,266.7 867.7,266.3 868.3,265.8 868.9,265.4 869.5,264.9 870.1,264.4 870.7,263.9 871.3,263.4 871.8,262.8 872.4,262.2 873.0,261.6 873.5,261.0 874.1,260.4 874.6,259.8 875.2,259.1 875.7,258.5 876.2,257.8 876.7,257.1 877.2,256.4 877.7,255.7 878.2,254.9 878.7,254.2 879.2,253.4 879.7,252.6 880.2,251.8 880.6,251.0 881.1,250.1 881.5,249.3 882.0,248.4 882.4,247.5 882.8,246.6 883.2,245.7 883.6,244.8 884.0,243.8 884.4,242.8 884.8,241.9 885.2,240.9 885.5,239.8 885.9,238.8 886.2,237.8 886.6,236.7 886.9,235.6 887.2,234.5 887.5,233.4 884.5,232.6 884.2,233.7 883.9,234.7 883.5,235.8 883.2,236.8 882.9,237.8 882.5,238.8 882.2,239.7 881.8,240.7 881.4,241.6 881.0,242.5 880.6,243.4 880.2,244.3 879.8,245.2 879.4,246.0 879.0,246.9 878.5,247.7 878.1,248.5 877.7,249.3 877.2,250.1 876.7,250.8 876.3,251.5 875.8,252.3 875.3,253.0 874.9,253.7 874.4,254.3 873.9,255.0 873.4,255.6 872.9,256.3 872.4,256.9 871.9,257.5 871.4,258.0 870.9,258.6 870.3,259.1 869.8,259.7 869.3,260.2 868.8,260.7 868.2,261.2 867.7,261.6 867.2,262.1 866.6,262.6 866.1,263.0 865.6,263.4 865.1,263.8 864.5,264.2 864.0,264.6 863.4,265.0 862.9,265.3 862.3,265.7 861.8,266.0 861.2,266.3 860.7,266.6 860.1,266.9 859.6,267.1 859.0,267.4 858.5,267.6 857.9,267.9 857.3,268.1 856.8,268.3 856.2,268.4 855.7,268.6 855.4,268.6 855.0,268.7 854.6,268.7 854.2,268.8 853.8,268.8 853.4,268.9 853.0,268.9 852.5,269.0 852.1,269.0 851.7,269.0 851.2,269.0 850.8,269.1 850.3,269.1 849.9,269.1 849.4,269.1 848.9,269.1 848.5,269.1 848.0,269.1 847.5,269.1 847.1,269.1 846.6,269.1 846.1,269.0 845.6,269.0 845.2,269.0 844.7,269.0 844.2,268.9 843.7,268.9 843.2,268.8 842.8,268.8 842.3,268.7 841.8,268.7 841.3,268.6 840.9,268.5 840.4,268.4 839.9,268.4 839.4,268.3 839.0,268.2 838.5,268.1 838.0,268.0 837.6,267.9 837.1,267.8 836.7,267.6 836.2,267.5 835.8,267.4 835.3,267.2 834.9,267.1 834.5,266.9 834.0,266.8 833.6,266.6 833.2,266.5 832.8,266.3 832.4,266.1 832.0,265.9 831.6,265.7 831.2,265.5 830.8,265.3 830.4,265.1 830.1,264.9 829.7,264.7 829.4,264.5" fill="#2e5c80"/>
<circle cx="829.0" cy="265.0" r="0.65" fill="#2e5c80"/>
<circle cx="886.0" cy="233.0" r="1.55" fill="#2e5c80"/>
<path d="M873.5,246 L886,233 L894.5,243" fill="none" stroke="#2e5c80" stroke-width="3.2" stroke-linecap="round" stroke-linejoin="round"/>
<polygon points="242.2,315.4 242.5,315.9 242.9,316.4 243.2,316.9 243.5,317.4 243.8,318.0 244.1,318.5 244.5,319.0 244.8,319.6 245.1,320.1 245.3,320.6 245.6,321.2 245.9,321.7 246.2,322.3 246.4,322.8 246.7,323.4 247.0,323.9 247.2,324.5 247.5,325.1 247.7,325.6 247.9,326.2 248.1,326.8 248.4,327.3 248.6,327.9 248.8,328.5 249.0,329.0 249.2,329.6 249.4,330.2 249.5,330.7 249.7,331.3 249.9,331.9 250.0,332.4 250.2,333.0 250.3,333.6 250.5,334.1 250.6,334.7 250.7,335.3 250.9,335.8 251.0,336.4 251.1,336.9 251.2,337.5 251.3,338.1 251.4,338.6 251.5,339.2 251.5,339.7 251.6,340.2 251.7,340.8 251.7,341.3 251.8,341.9 251.8,342.4 251.8,342.9 251.9,343.4 251.9,344.0 251.9,344.5 251.9,345.0 251.9,345.5 251.9,346.0 251.9,346.5 251.9,347.0 251.8,347.4 251.8,347.8 251.7,348.4 251.6,348.9 251.5,349.5 251.4,350.0 251.2,350.6 251.1,351.1 250.9,351.7 250.8,352.2 250.6,352.8 250.5,353.3 250.3,353.8 250.1,354.4 249.9,354.9 249.8,355.5 249.6,356.0 249.3,356.5 249.1,357.1 248.9,357.6 248.7,358.1 248.4,358.7 248.2,359.2 247.9,359.7 247.7,360.2 247.4,360.8 247.1,361.3 246.8,361.8 246.5,362.3 246.2,362.9 245.9,363.4 245.6,363.9 245.3,364.4 244.9,364.9 244.6,365.5 244.3,366.0 243.9,366.5 243.6,367.0 243.2,367.5 242.9,368.0 242.5,368.6 242.1,369.1 241.7,369.6 241.4,370.1 241.0,370.6 240.6,371.1 240.2,371.7 239.8,372.2 239.4,372.7 239.0,373.2 238.6,373.7 238.1,374.3 237.7,374.8 237.3,375.3 236.9,375.8 236.4,376.3 236.0,376.9 235.6,377.4 235.1,377.9 234.7,378.4 234.3,379.0 233.8,379.5 236.2,381.5 236.6,381.0 237.1,380.5 237.5,379.9 238.0,379.4 238.4,378.9 238.9,378.4 239.3,377.9 239.8,377.3 240.2,376.8 240.6,376.3 241.1,375.8 241.5,375.3 241.9,374.7 242.3,374.2 242.8,373.7 243.2,373.2 243.6,372.6 244.0,372.1 244.4,371.6 244.8,371.1 245.2,370.5 245.6,370.0 246.0,369.5 246.4,368.9 246.7,368.4 247.1,367.9 247.5,367.3 247.8,366.8 248.2,366.3 248.5,365.7 248.9,365.2 249.2,364.6 249.5,364.1 249.9,363.5 250.2,363.0 250.5,362.4 250.8,361.9 251.1,361.3 251.4,360.8 251.6,360.2 251.9,359.6 252.2,359.1 252.4,358.5 252.7,357.9 252.9,357.3 253.2,356.7 253.4,356.2 253.6,355.6 253.8,355.0 254.0,354.4 254.2,353.8 254.3,353.2 254.5,352.6 254.6,352.0 254.7,351.3 254.9,350.7 255.0,350.1 255.0,349.5 255.1,348.8 255.2,348.2 255.2,347.6 255.2,347.0 255.2,346.5 255.2,345.9 255.2,345.4 255.1,344.9 255.1,344.3 255.0,343.8 255.0,343.2 254.9,342.6 254.9,342.1 254.8,341.5 254.7,341.0 254.6,340.4 254.5,339.8 254.4,339.2 254.3,338.7 254.2,338.1 254.0,337.5 253.9,336.9 253.8,336.4 253.6,335.8 253.4,335.2 253.3,334.6 253.1,334.0 252.9,333.5 252.8,332.9 252.6,332.3 252.4,331.7 252.2,331.1 252.0,330.6 251.7,330.0 251.5,329.4 251.3,328.8 251.1,328.2 250.8,327.7 250.6,327.1 250.3,326.5 250.1,325.9 249.8,325.4 249.5,324.8 249.2,324.2 249.0,323.7 248.7,323.1 248.4,322.6 248.1,322.0 247.8,321.4 247.4,320.9 247.1,320.4 246.8,319.8 246.5,319.3 246.1,318.7 245.8,318.2 245.4,317.7 245.1,317.2 244.7,316.6 244.4,316.1 244.0,315.6 243.6,315.1 243.2,314.6" fill="#2e5c80"/>
<circle cx="242.7" cy="315.0" r="0.65" fill="#2e5c80"/>
<circle cx="235.0" cy="380.5" r="1.55" fill="#2e5c80"/>
<path d="M238.3,370 L235,380.5 L246.5,377" fill="none" stroke="#2e5c80" stroke-width="3.2" stroke-linecap="round" stroke-linejoin="round"/>
<polygon points="494.1,294.0 494.6,294.5 495.1,295.0 495.6,295.5 496.1,296.0 496.5,296.5 497.0,297.0 497.5,297.5 498.0,298.0 498.4,298.6 498.9,299.1 499.4,299.6 499.8,300.2 500.2,300.7 500.7,301.3 501.1,301.8 501.5,302.4 502.0,303.0 502.4,303.5 502.8,304.1 503.2,304.7 503.6,305.3 504.0,305.8 504.3,306.4 504.7,307.0 505.1,307.6 505.4,308.2 505.8,308.8 506.1,309.4 506.5,310.1 506.8,310.7 507.1,311.3 507.4,311.9 507.8,312.5 508.1,313.2 508.3,313.8 508.6,314.4 508.9,315.0 509.2,315.7 509.4,316.3 509.7,317.0 509.9,317.6 510.1,318.3 510.4,318.9 510.6,319.6 510.8,320.2 511.0,320.9 511.2,321.5 511.3,322.2 511.5,322.8 511.7,323.5 511.8,324.2 512.0,324.8 512.1,325.5 512.2,326.2 512.3,326.8 512.4,327.5 512.5,328.2 512.6,328.8 512.7,329.5 512.7,330.2 512.7,330.8 512.8,331.4 512.8,332.0 512.8,332.6 512.8,333.2 512.8,333.9 512.8,334.5 512.7,335.1 512.7,335.7 512.7,336.4 512.6,337.0 512.6,337.6 512.5,338.2 512.4,338.8 512.4,339.5 512.3,340.1 512.2,340.7 512.1,341.3 512.0,342.0 511.9,342.6 511.7,343.2 511.6,343.8 511.5,344.4 511.3,345.1 511.2,345.7 511.0,346.3 510.9,346.9 510.7,347.5 510.5,348.1 510.3,348.8 510.2,349.4 510.0,350.0 509.8,350.6 509.6,351.2 509.4,351.8 509.2,352.4 509.0,353.0 508.7,353.6 508.5,354.2 508.3,354.8 508.1,355.4 507.8,356.0 507.6,356.6 507.4,357.2 507.1,357.8 506.9,358.4 506.7,359.0 506.4,359.5 506.2,360.1 505.9,360.7 505.7,361.3 505.4,361.8 505.2,362.4 504.9,363.0 504.7,363.6 504.4,364.1 504.2,364.7 503.9,365.2 503.7,365.8 503.4,366.3 506.2,367.7 506.5,367.1 506.7,366.6 507.0,366.0 507.3,365.4 507.5,364.9 507.8,364.3 508.1,363.7 508.3,363.1 508.6,362.6 508.9,362.0 509.1,361.4 509.4,360.8 509.6,360.2 509.9,359.6 510.2,359.0 510.4,358.4 510.7,357.8 510.9,357.2 511.2,356.6 511.4,356.0 511.6,355.4 511.9,354.8 512.1,354.1 512.3,353.5 512.6,352.9 512.8,352.3 513.0,351.6 513.2,351.0 513.4,350.4 513.6,349.7 513.8,349.1 514.0,348.5 514.2,347.8 514.4,347.2 514.5,346.5 514.7,345.9 514.9,345.2 515.0,344.6 515.2,343.9 515.3,343.3 515.4,342.6 515.6,342.0 515.7,341.3 515.8,340.6 515.9,340.0 516.0,339.3 516.1,338.6 516.2,338.0 516.2,337.3 516.3,336.6 516.4,336.0 516.4,335.3 516.4,334.6 516.4,333.9 516.5,333.3 516.5,332.6 516.4,331.9 516.4,331.2 516.4,330.5 516.3,329.8 516.2,329.1 516.1,328.4 515.9,327.6 515.8,326.9 515.7,326.2 515.5,325.5 515.3,324.8 515.2,324.1 515.0,323.4 514.8,322.7 514.6,322.0 514.4,321.3 514.1,320.6 513.9,319.9 513.6,319.2 513.4,318.6 513.1,317.9 512.9,317.2 512.6,316.6 512.3,315.9 512.0,315.2 511.7,314.6 511.4,313.9 511.0,313.3 510.7,312.6 510.4,312.0 510.0,311.3 509.7,310.7 509.3,310.1 508.9,309.5 508.6,308.8 508.2,308.2 507.8,307.6 507.4,307.0 507.0,306.4 506.6,305.8 506.2,305.2 505.7,304.6 505.3,304.0 504.9,303.5 504.4,302.9 504.0,302.3 503.5,301.8 503.0,301.2 502.6,300.7 502.1,300.1 501.6,299.6 501.1,299.0 500.6,298.5 500.1,298.0 499.6,297.4 499.1,296.9 498.6,296.4 498.1,295.9 497.6,295.4 497.1,294.9 496.5,294.4 496.0,294.0 495.5,293.5 494.9,293.0" fill="#2e5c80"/>
<circle cx="494.5" cy="293.5" r="0.65" fill="#2e5c80"/>
<circle cx="504.8" cy="367.0" r="1.55" fill="#2e5c80"/>
<path d="M502.8,352.5 L504.8,367 L523,358" fill="none" stroke="#2e5c80" stroke-width="3.2" stroke-linecap="round" stroke-linejoin="round"/>
<polygon points="659.8,303.1 659.4,303.5 659.0,303.9 658.7,304.4 658.3,304.8 657.9,305.3 657.6,305.7 657.2,306.2 656.9,306.6 656.5,307.1 656.2,307.6 655.8,308.1 655.5,308.5 655.2,309.0 654.9,309.5 654.5,310.0 654.2,310.5 653.9,311.0 653.6,311.5 653.3,312.1 653.0,312.6 652.7,313.1 652.4,313.6 652.2,314.2 651.9,314.7 651.6,315.3 651.4,315.8 651.1,316.4 650.9,316.9 650.6,317.5 650.4,318.0 650.2,318.6 649.9,319.2 649.7,319.7 649.5,320.3 649.3,320.9 649.1,321.5 648.9,322.1 648.8,322.6 648.6,323.2 648.4,323.8 648.3,324.4 648.1,325.0 648.0,325.6 647.8,326.2 647.7,326.8 647.6,327.4 647.5,328.0 647.4,328.6 647.3,329.2 647.2,329.9 647.1,330.5 647.1,331.1 647.0,331.7 646.9,332.3 646.9,332.9 646.9,333.6 646.8,334.2 646.8,334.8 646.8,335.4 646.8,336.1 646.8,336.8 646.9,337.5 646.9,338.3 647.0,339.0 647.0,339.7 647.1,340.4 647.2,341.1 647.3,341.8 647.5,342.5 647.6,343.2 647.8,343.9 648.0,344.6 648.2,345.3 648.4,346.0 648.6,346.7 648.9,347.3 649.1,348.0 649.4,348.7 649.7,349.3 649.9,350.0 650.2,350.6 650.5,351.2 650.8,351.9 651.2,352.5 651.5,353.1 651.8,353.7 652.2,354.3 652.5,354.9 652.9,355.5 653.3,356.1 653.7,356.7 654.1,357.3 654.5,357.8 654.9,358.4 655.3,359.0 655.7,359.5 656.2,360.1 656.6,360.6 657.0,361.1 657.5,361.7 657.9,362.2 658.4,362.7 658.9,363.2 659.4,363.7 659.8,364.2 660.3,364.7 660.8,365.2 661.3,365.7 661.8,366.1 662.3,366.6 662.8,367.0 663.4,367.5 663.9,367.9 664.4,368.3 664.9,368.8 665.4,369.2 666.0,369.6 666.5,370.0 667.1,370.4 667.6,370.8 669.4,368.2 668.9,367.9 668.4,367.5 667.9,367.1 667.4,366.7 666.9,366.3 666.4,365.9 665.9,365.5 665.4,365.1 665.0,364.6 664.5,364.2 664.0,363.8 663.6,363.3 663.1,362.9 662.6,362.4 662.2,361.9 661.7,361.5 661.3,361.0 660.9,360.5 660.4,360.0 660.0,359.5 659.6,359.0 659.2,358.5 658.8,358.0 658.4,357.5 658.0,357.0 657.6,356.4 657.3,355.9 656.9,355.4 656.6,354.8 656.2,354.3 655.9,353.7 655.5,353.1 655.2,352.6 654.9,352.0 654.6,351.4 654.3,350.9 654.0,350.3 653.7,349.7 653.5,349.1 653.2,348.5 653.0,347.9 652.7,347.3 652.5,346.7 652.3,346.1 652.1,345.5 651.9,344.9 651.7,344.3 651.5,343.7 651.4,343.0 651.2,342.4 651.1,341.8 650.9,341.1 650.8,340.5 650.7,339.9 650.6,339.2 650.4,338.6 650.4,337.9 650.3,337.3 650.2,336.6 650.2,335.9 650.1,335.4 650.1,334.8 650.1,334.2 650.1,333.6 650.1,333.1 650.1,332.5 650.1,331.9 650.1,331.3 650.1,330.7 650.2,330.2 650.2,329.6 650.3,329.0 650.3,328.4 650.4,327.9 650.5,327.3 650.6,326.7 650.7,326.2 650.8,325.6 650.9,325.0 651.0,324.4 651.1,323.9 651.3,323.3 651.4,322.7 651.5,322.2 651.7,321.6 651.8,321.1 652.0,320.5 652.2,319.9 652.4,319.4 652.6,318.8 652.7,318.3 652.9,317.8 653.1,317.2 653.4,316.7 653.6,316.1 653.8,315.6 654.0,315.1 654.3,314.5 654.5,314.0 654.8,313.5 655.0,313.0 655.3,312.5 655.5,311.9 655.8,311.4 656.1,310.9 656.4,310.4 656.6,309.9 656.9,309.4 657.2,309.0 657.5,308.5 657.8,308.0 658.1,307.5 658.5,307.1 658.8,306.6 659.1,306.1 659.4,305.7 659.8,305.2 660.1,304.8 660.4,304.4 660.8,303.9" fill="#2e5c80"/>
<circle cx="660.3" cy="303.5" r="0.65" fill="#2e5c80"/>
<circle cx="668.5" cy="369.5" r="1.55" fill="#2e5c80"/>
<path d="M656.5,366.5 L668.5,369.5 L666,359.5" fill="none" stroke="#2e5c80" stroke-width="3.2" stroke-linecap="round" stroke-linejoin="round"/>
<polygon points="868.2,316.4 867.7,316.7 867.3,317.0 866.8,317.2 866.4,317.5 866.0,317.8 865.5,318.1 865.1,318.4 864.7,318.8 864.2,319.1 863.8,319.5 863.4,319.8 863.0,320.2 862.5,320.6 862.1,321.0 861.7,321.4 861.3,321.8 860.9,322.2 860.5,322.6 860.1,323.0 859.7,323.5 859.3,323.9 858.9,324.4 858.6,324.9 858.2,325.3 857.8,325.8 857.5,326.3 857.1,326.8 856.8,327.3 856.4,327.8 856.1,328.3 855.8,328.8 855.4,329.4 855.1,329.9 854.8,330.4 854.5,331.0 854.2,331.5 853.9,332.1 853.6,332.6 853.4,333.2 853.1,333.8 852.9,334.4 852.6,334.9 852.4,335.5 852.1,336.1 851.9,336.7 851.7,337.3 851.5,337.9 851.3,338.5 851.2,339.1 851.0,339.7 850.8,340.3 850.7,340.9 850.6,341.6 850.4,342.2 850.3,342.8 850.2,343.4 850.1,344.0 850.1,344.7 850.0,345.3 850.0,346.0 850.0,346.7 850.0,347.4 850.1,348.0 850.2,348.7 850.3,349.3 850.5,350.0 850.6,350.6 850.8,351.2 851.1,351.9 851.3,352.5 851.6,353.1 851.9,353.7 852.2,354.3 852.5,355.0 852.9,355.6 853.2,356.2 853.6,356.7 854.1,357.3 854.5,357.9 855.0,358.5 855.5,359.0 856.0,359.6 856.5,360.1 857.1,360.6 857.7,361.2 858.3,361.7 858.9,362.2 859.6,362.7 860.2,363.2 860.9,363.7 861.6,364.2 862.3,364.7 863.0,365.1 863.8,365.6 864.6,366.1 865.4,366.5 866.2,367.0 867.0,367.4 867.8,367.9 868.7,368.3 869.6,368.7 870.5,369.1 871.4,369.5 872.3,369.9 873.3,370.3 874.2,370.7 875.2,371.1 876.2,371.5 877.3,371.9 878.3,372.2 879.4,372.6 880.4,372.9 881.5,373.3 882.6,373.6 883.8,373.9 884.9,374.3 886.1,374.6 887.2,374.9 888.4,375.2 889.6,375.5 890.4,372.5 889.2,372.2 888.0,371.9 886.9,371.5 885.8,371.2 884.7,370.9 883.6,370.5 882.5,370.2 881.5,369.8 880.4,369.5 879.4,369.1 878.4,368.8 877.4,368.4 876.5,368.0 875.5,367.6 874.6,367.2 873.7,366.8 872.8,366.4 871.9,366.0 871.1,365.6 870.2,365.2 869.4,364.8 868.6,364.4 867.9,363.9 867.1,363.5 866.4,363.1 865.6,362.6 865.0,362.2 864.3,361.7 863.6,361.3 863.0,360.8 862.4,360.3 861.8,359.9 861.2,359.4 860.7,358.9 860.1,358.5 859.6,358.0 859.1,357.5 858.6,357.0 858.2,356.5 857.8,356.0 857.3,355.6 856.9,355.1 856.6,354.6 856.2,354.1 855.8,353.6 855.5,353.1 855.2,352.6 854.9,352.2 854.7,351.7 854.4,351.1 854.2,350.6 854.0,350.1 853.8,349.6 853.6,349.1 853.5,348.6 853.4,348.1 853.2,347.5 853.2,347.0 853.1,346.5 853.0,346.0 853.1,345.5 853.1,344.9 853.1,344.4 853.2,343.8 853.2,343.2 853.3,342.6 853.4,342.1 853.5,341.5 853.6,340.9 853.7,340.4 853.8,339.8 854.0,339.2 854.1,338.6 854.3,338.1 854.4,337.5 854.6,337.0 854.8,336.4 855.0,335.8 855.2,335.3 855.4,334.7 855.6,334.2 855.8,333.6 856.1,333.1 856.3,332.6 856.6,332.0 856.8,331.5 857.1,331.0 857.3,330.5 857.6,329.9 857.9,329.4 858.2,328.9 858.5,328.4 858.8,327.9 859.1,327.5 859.5,327.0 859.8,326.5 860.1,326.0 860.4,325.6 860.8,325.1 861.1,324.7 861.5,324.2 861.8,323.8 862.2,323.4 862.6,323.0 862.9,322.5 863.3,322.1 863.7,321.8 864.1,321.4 864.5,321.0 864.8,320.6 865.2,320.3 865.6,319.9 866.0,319.6 866.4,319.3 866.8,319.0 867.2,318.7 867.6,318.4 868.0,318.1 868.4,317.8 868.8,317.6" fill="#2e5c80"/>
<circle cx="868.5" cy="317.0" r="0.65" fill="#2e5c80"/>
<circle cx="890.0" cy="374.0" r="1.55" fill="#2e5c80"/>
<path d="M884.5,362.5 L890,374 L870,378.5" fill="none" stroke="#2e5c80" stroke-width="3.2" stroke-linecap="round" stroke-linejoin="round"/>
<rect x="0" y="0" width="1340" height="2.2" fill="#1f1f1f"/>
<rect x="0" y="474.8" width="1340" height="1.2" fill="#111"/>
</svg>
<div class="lb" style="left:210.24px;top:50.12px;transform:scale(0.5880,0.5200);font-weight:normal">قطع أراضي للبيع</div>
<div class="lb" style="left:268.44px;top:155.95px;transform:scale(0.5208,0.5128);font-weight:normal">حراسة 24 ساعة</div>
<div class="lb" style="left:525.31px;top:163.31px;transform:scale(0.5627,0.5510);font-weight:normal">أرصفة واسعة للمشاة</div>
<div class="lb" style="left:838.43px;top:191.05px;transform:scale(0.5245,0.4872);font-weight:normal">حراسة 24 ساعة</div>
<div class="lb" style="left:1123.63px;top:313.82px;transform:scale(0.4562,0.7949);font-weight:normal">مخطط الموقع العام</div>
<div class="lb" style="left:153.11px;top:392.10px;transform:scale(0.6304,0.4750);font-weight:normal">حدائق عامة</div>
<div class="lb" style="left:376.40px;top:368.00px;transform:scale(0.5344,0.7500);font-weight:normal">نماذج سكنية مختلفة</div>
<div class="lb" style="left:578.57px;top:385.74px;transform:scale(0.5676,0.5641);font-weight:normal">شوارع عرض 12 متر</div>
<div class="lb" style="left:848.11px;top:390.20px;transform:scale(0.6304,0.4500);font-weight:normal">حدائق عامة</div>
</body></html>
